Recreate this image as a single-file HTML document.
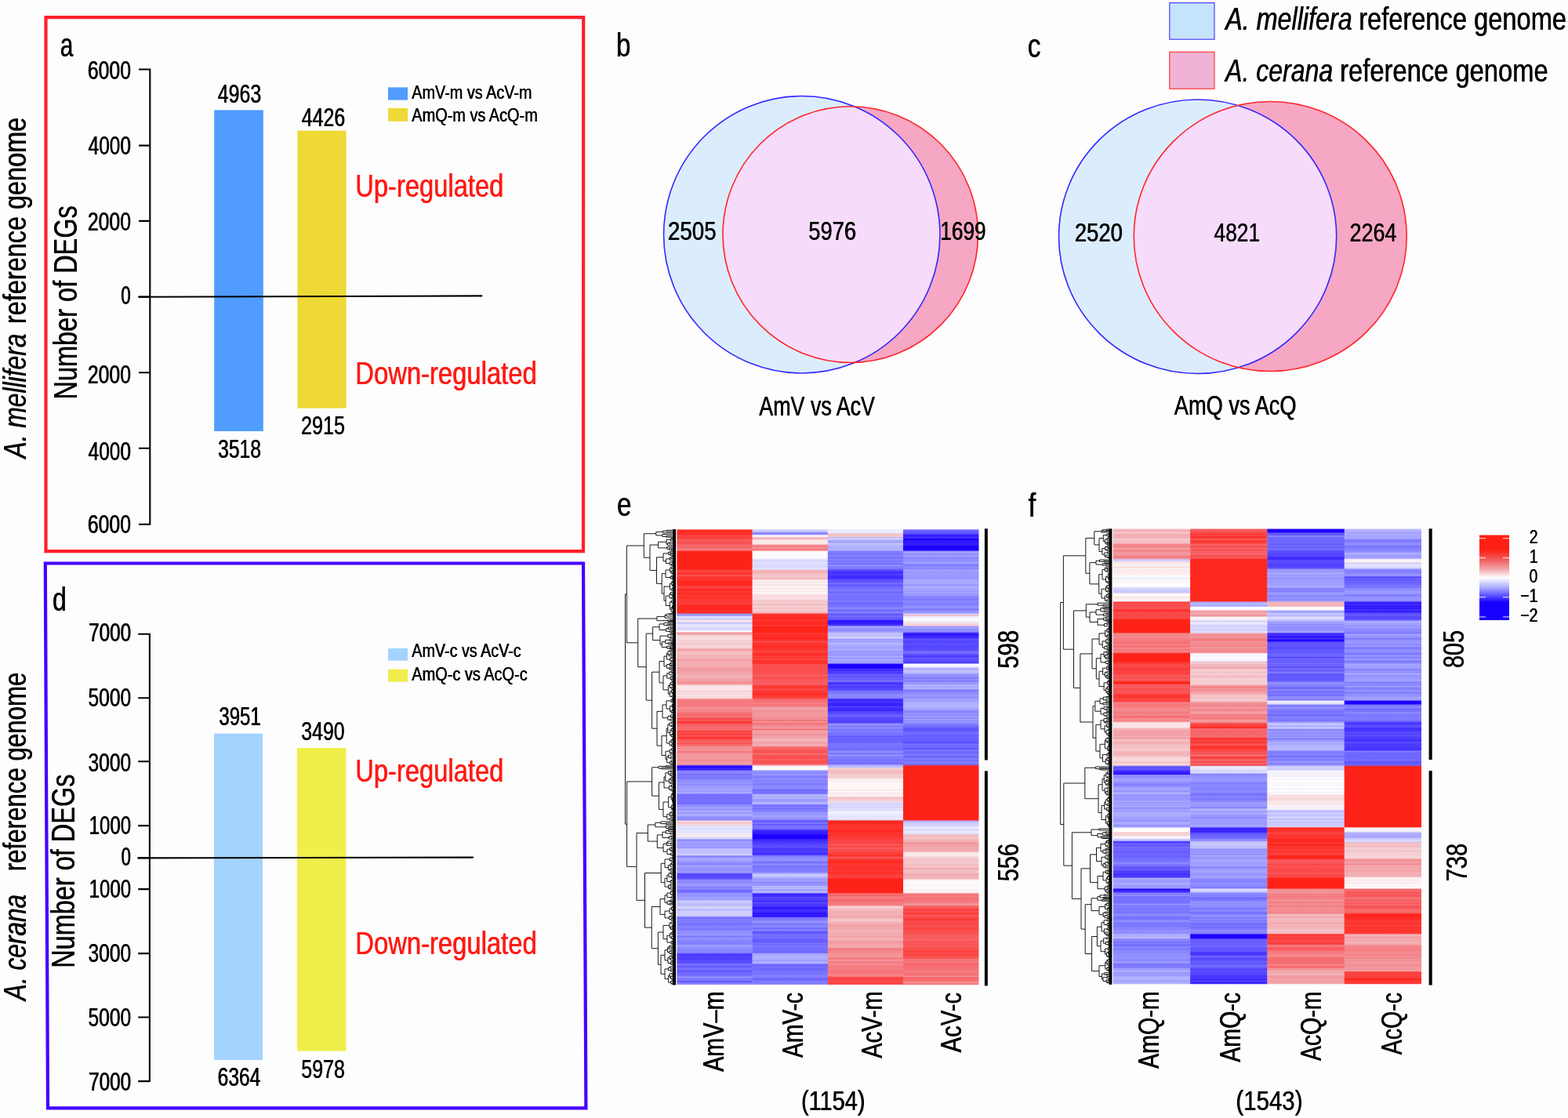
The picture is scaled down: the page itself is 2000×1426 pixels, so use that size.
<!DOCTYPE html>
<html lang="en"><head><meta charset="utf-8"><title>Figure</title>
<style>
html,body{margin:0;padding:0;background:#fdfdfd}
body{width:2000px;height:1426px;overflow:hidden}
svg{display:block}
text{font-family:"Liberation Sans", sans-serif}
</style></head><body>

<svg width="2000" height="1426" viewBox="0 0 2000 1426" role="img" aria-label="Figure panels a-f">
<rect width="2000" height="1426" fill="#fdfdfd"/>
<polygon points="58.5,22.2 744.2,22.2 744,703.2 58.5,703.2" fill="none" stroke="#ff1f2b" stroke-width="4.2" stroke-linejoin="miter"/>
<polygon points="57.8,718.5 744,718.5 747.4,1413.4 61,1413.4" fill="none" stroke="#4400ff" stroke-width="4.2" stroke-linejoin="miter"/>
<rect x="273.2" y="140.4" width="62.6" height="409.6" fill="#509dff"/>
<rect x="379.4" y="166.6" width="62.2" height="354" fill="#eed936"/>
<rect x="495" y="111.4" width="25" height="16.2" fill="#509dff"/>
<rect x="495" y="138" width="25" height="16.8" fill="#eed936"/>
<path d="M191.3 87.5V669.7M177 88.5H191.3M177 185.6H191.3M177 281.9H191.3M177 378.6H191.3M177 475.3H191.3M177 571.8H191.3M177 668.7H191.3" fill="none" stroke="#000" stroke-width="2.1"/>
<path d="M177 378.8L614.4 377.4" fill="none" stroke="#000" stroke-width="2.1" stroke-linecap="round"/>
<rect x="273" y="935.6" width="62" height="416.4" fill="#a4d3ff"/>
<rect x="379" y="954" width="62.4" height="386.6" fill="#efee4b"/>
<rect x="495" y="827" width="25" height="15.6" fill="#a4d3ff"/>
<rect x="495" y="853.6" width="25" height="16" fill="#efee4b"/>
<path d="M190.9 807.7V1380.1M176.2 808.7H190.9M176.2 890.3H190.9M176.2 971.3H190.9M176.2 1053.1H190.9M176.2 1094.3H190.9M176.2 1134.1H190.9M176.2 1216.1H190.9M176.2 1297.5H190.9M176.2 1379.1H190.9" fill="none" stroke="#000" stroke-width="2.1"/>
<path d="M176.2 1094.4L603 1093.6" fill="none" stroke="#000" stroke-width="2.1" stroke-linecap="round"/>
<clipPath id="vb"><ellipse cx="1022.75" cy="299.25" rx="176.2" ry="176.7"/></clipPath><ellipse cx="1022.75" cy="299.25" rx="176.2" ry="176.7" fill="#dbedfc"/><ellipse cx="1084.75" cy="299.1" rx="162.8" ry="163.4" fill="#f5a7c4"/><ellipse cx="1084.75" cy="299.1" rx="162.8" ry="163.4" fill="#f6dcfa" clip-path="url(#vb)"/><ellipse cx="1022.75" cy="299.25" rx="176.2" ry="176.7" fill="none" stroke="#3626ff" stroke-width="1.6"/><ellipse cx="1084.75" cy="299.1" rx="162.8" ry="163.4" fill="none" stroke="#ff262a" stroke-width="1.6"/>
<clipPath id="vc"><ellipse cx="1527.6" cy="301.75" rx="177.1" ry="174.75"/></clipPath><ellipse cx="1527.6" cy="301.75" rx="177.1" ry="174.75" fill="#dbedfc"/><ellipse cx="1620.25" cy="301.5" rx="174" ry="172" fill="#f5a7c4"/><ellipse cx="1620.25" cy="301.5" rx="174" ry="172" fill="#f6dcfa" clip-path="url(#vc)"/><ellipse cx="1527.6" cy="301.75" rx="177.1" ry="174.75" fill="none" stroke="#3626ff" stroke-width="1.6"/><ellipse cx="1620.25" cy="301.5" rx="174" ry="172" fill="none" stroke="#ff262a" stroke-width="1.6"/>
<rect x="1491.8" y="3.6" width="57.2" height="46.6" fill="#c5e3fa" stroke="#4a3cff" stroke-width="1.2"/>
<rect x="1491.8" y="66.3" width="57.2" height="47" fill="#f0b3d5" stroke="#ff3a3a" stroke-width="1.2"/>
<linearGradient id="h1" x1="0" y1="0" x2="0" y2="1"><stop offset="0.0014" stop-color="#fe2920"/><stop offset="0.0041" stop-color="#fd3029"/><stop offset="0.0069" stop-color="#fd322c"/><stop offset="0.0096" stop-color="#fe281f"/><stop offset="0.0124" stop-color="#fb413f"/><stop offset="0.0152" stop-color="#fb413f"/><stop offset="0.0179" stop-color="#fb423f"/><stop offset="0.0207" stop-color="#fb4341"/><stop offset="0.0234" stop-color="#f76468"/><stop offset="0.0262" stop-color="#f85759"/><stop offset="0.0289" stop-color="#f94f50"/><stop offset="0.0317" stop-color="#f95354"/><stop offset="0.0344" stop-color="#f66f74"/><stop offset="0.0372" stop-color="#f76265"/><stop offset="0.0399" stop-color="#f76569"/><stop offset="0.0427" stop-color="#f48085"/><stop offset="0.0455" stop-color="#f5797d"/><stop offset="0.0482" stop-color="#ff2218"/><stop offset="0.0510" stop-color="#ff2218"/><stop offset="0.0537" stop-color="#ff2218"/><stop offset="0.0565" stop-color="#ff2218"/><stop offset="0.0592" stop-color="#ff2218"/><stop offset="0.0620" stop-color="#ff2218"/><stop offset="0.0647" stop-color="#ff2218"/><stop offset="0.0675" stop-color="#ff2218"/><stop offset="0.0702" stop-color="#ff2218"/><stop offset="0.0730" stop-color="#ff2218"/><stop offset="0.0758" stop-color="#ff2218"/><stop offset="0.0785" stop-color="#ff2218"/><stop offset="0.0813" stop-color="#ff2218"/><stop offset="0.0840" stop-color="#ff2218"/><stop offset="0.0868" stop-color="#ff2218"/><stop offset="0.0895" stop-color="#fc3e3a"/><stop offset="0.0923" stop-color="#fa4948"/><stop offset="0.0950" stop-color="#fc3631"/><stop offset="0.0978" stop-color="#fe2c24"/><stop offset="0.1006" stop-color="#f85759"/><stop offset="0.1033" stop-color="#fb403d"/><stop offset="0.1061" stop-color="#fd312a"/><stop offset="0.1088" stop-color="#fd342f"/><stop offset="0.1116" stop-color="#fd3029"/><stop offset="0.1143" stop-color="#fe281f"/><stop offset="0.1171" stop-color="#fe281f"/><stop offset="0.1198" stop-color="#fe271e"/><stop offset="0.1226" stop-color="#fe2c24"/><stop offset="0.1253" stop-color="#fb413f"/><stop offset="0.1281" stop-color="#fa4a4a"/><stop offset="0.1309" stop-color="#fe2b23"/><stop offset="0.1336" stop-color="#fe2921"/><stop offset="0.1364" stop-color="#fc3a35"/><stop offset="0.1391" stop-color="#fd2f28"/><stop offset="0.1419" stop-color="#fe2920"/><stop offset="0.1446" stop-color="#fc3d39"/><stop offset="0.1474" stop-color="#fd332d"/><stop offset="0.1501" stop-color="#fe2d25"/><stop offset="0.1529" stop-color="#fd3631"/><stop offset="0.1556" stop-color="#fc3934"/><stop offset="0.1584" stop-color="#fc3b37"/><stop offset="0.1612" stop-color="#fc3d39"/><stop offset="0.1639" stop-color="#fc3b37"/><stop offset="0.1667" stop-color="#fe2b23"/><stop offset="0.1694" stop-color="#ff241b"/><stop offset="0.1722" stop-color="#fe2c25"/><stop offset="0.1749" stop-color="#fe2820"/><stop offset="0.1777" stop-color="#fe2e26"/><stop offset="0.1804" stop-color="#fd2f28"/><stop offset="0.1832" stop-color="#fe271e"/><stop offset="0.1860" stop-color="#9e9cff"/><stop offset="0.1887" stop-color="#918fff"/><stop offset="0.1915" stop-color="#e5e4ff"/><stop offset="0.1942" stop-color="#dcdbfe"/><stop offset="0.1970" stop-color="#c2c0fe"/><stop offset="0.1997" stop-color="#fae8e9"/><stop offset="0.2025" stop-color="#fae7e9"/><stop offset="0.2052" stop-color="#c5c4fe"/><stop offset="0.2080" stop-color="#d7d6fe"/><stop offset="0.2107" stop-color="#e9e9ff"/><stop offset="0.2135" stop-color="#e0dffe"/><stop offset="0.2163" stop-color="#deddfe"/><stop offset="0.2190" stop-color="#cdccfe"/><stop offset="0.2218" stop-color="#f1f0ff"/><stop offset="0.2245" stop-color="#fdf6f7"/><stop offset="0.2273" stop-color="#f28d93"/><stop offset="0.2300" stop-color="#f2a8ae"/><stop offset="0.2328" stop-color="#f4c8cc"/><stop offset="0.2355" stop-color="#fae5e7"/><stop offset="0.2383" stop-color="#f6d4d7"/><stop offset="0.2410" stop-color="#fae5e7"/><stop offset="0.2438" stop-color="#f4c9cd"/><stop offset="0.2466" stop-color="#f6d5d8"/><stop offset="0.2493" stop-color="#f6d3d7"/><stop offset="0.2521" stop-color="#f4c6ca"/><stop offset="0.2548" stop-color="#f7d6d9"/><stop offset="0.2576" stop-color="#f7d6d9"/><stop offset="0.2603" stop-color="#f5cdd1"/><stop offset="0.2631" stop-color="#f1a0a6"/><stop offset="0.2658" stop-color="#f2a2a8"/><stop offset="0.2686" stop-color="#f3c0c4"/><stop offset="0.2713" stop-color="#f3b9bd"/><stop offset="0.2741" stop-color="#f4c2c7"/><stop offset="0.2769" stop-color="#f2a8ad"/><stop offset="0.2796" stop-color="#f3b4b9"/><stop offset="0.2824" stop-color="#f3b8bd"/><stop offset="0.2851" stop-color="#f19ca1"/><stop offset="0.2879" stop-color="#f2a1a6"/><stop offset="0.2906" stop-color="#f2afb4"/><stop offset="0.2934" stop-color="#f2a8ad"/><stop offset="0.2961" stop-color="#f3b2b7"/><stop offset="0.2989" stop-color="#f2a6ab"/><stop offset="0.3017" stop-color="#f2afb4"/><stop offset="0.3044" stop-color="#f29297"/><stop offset="0.3072" stop-color="#f1a0a6"/><stop offset="0.3099" stop-color="#f1999f"/><stop offset="0.3127" stop-color="#f2a3a8"/><stop offset="0.3154" stop-color="#f2a3a8"/><stop offset="0.3182" stop-color="#f2aeb3"/><stop offset="0.3209" stop-color="#f2a9ae"/><stop offset="0.3237" stop-color="#f3b5b9"/><stop offset="0.3264" stop-color="#f2a5ab"/><stop offset="0.3292" stop-color="#f19fa5"/><stop offset="0.3320" stop-color="#f2a2a8"/><stop offset="0.3347" stop-color="#f1969c"/><stop offset="0.3375" stop-color="#f28b90"/><stop offset="0.3402" stop-color="#f2a8ad"/><stop offset="0.3430" stop-color="#f8dcdf"/><stop offset="0.3457" stop-color="#fbeaec"/><stop offset="0.3485" stop-color="#fae8ea"/><stop offset="0.3512" stop-color="#fae5e7"/><stop offset="0.3540" stop-color="#f8dde0"/><stop offset="0.3567" stop-color="#f5d1d4"/><stop offset="0.3595" stop-color="#fae9eb"/><stop offset="0.3623" stop-color="#f6d2d6"/><stop offset="0.3650" stop-color="#fbeaeb"/><stop offset="0.3678" stop-color="#f6d6d9"/><stop offset="0.3705" stop-color="#f6d5d8"/><stop offset="0.3733" stop-color="#f47e83"/><stop offset="0.3760" stop-color="#f47e83"/><stop offset="0.3788" stop-color="#f5777c"/><stop offset="0.3815" stop-color="#f47d82"/><stop offset="0.3843" stop-color="#f47b7f"/><stop offset="0.3871" stop-color="#f5787c"/><stop offset="0.3898" stop-color="#f48085"/><stop offset="0.3926" stop-color="#f19aa0"/><stop offset="0.3953" stop-color="#f47e83"/><stop offset="0.3981" stop-color="#f28d93"/><stop offset="0.4008" stop-color="#f38387"/><stop offset="0.4036" stop-color="#f66d71"/><stop offset="0.4063" stop-color="#f66e72"/><stop offset="0.4091" stop-color="#f76366"/><stop offset="0.4118" stop-color="#f38388"/><stop offset="0.4146" stop-color="#fc3d3a"/><stop offset="0.4174" stop-color="#f95455"/><stop offset="0.4201" stop-color="#f85b5e"/><stop offset="0.4229" stop-color="#fe2d25"/><stop offset="0.4256" stop-color="#fb4644"/><stop offset="0.4284" stop-color="#f6686c"/><stop offset="0.4311" stop-color="#f85b5f"/><stop offset="0.4339" stop-color="#f66e72"/><stop offset="0.4366" stop-color="#f76366"/><stop offset="0.4394" stop-color="#f57175"/><stop offset="0.4421" stop-color="#fa4d4d"/><stop offset="0.4449" stop-color="#fb4442"/><stop offset="0.4477" stop-color="#f95354"/><stop offset="0.4504" stop-color="#fd322c"/><stop offset="0.4532" stop-color="#f85b5e"/><stop offset="0.4559" stop-color="#fc3834"/><stop offset="0.4587" stop-color="#fd342f"/><stop offset="0.4614" stop-color="#f95556"/><stop offset="0.4642" stop-color="#f8595c"/><stop offset="0.4669" stop-color="#f66e72"/><stop offset="0.4697" stop-color="#fa4b4a"/><stop offset="0.4725" stop-color="#f67074"/><stop offset="0.4752" stop-color="#f76468"/><stop offset="0.4780" stop-color="#f2a1a6"/><stop offset="0.4807" stop-color="#f48085"/><stop offset="0.4835" stop-color="#f2a2a8"/><stop offset="0.4862" stop-color="#f48186"/><stop offset="0.4890" stop-color="#f47d81"/><stop offset="0.4917" stop-color="#f38a90"/><stop offset="0.4945" stop-color="#f2a0a6"/><stop offset="0.4972" stop-color="#f29298"/><stop offset="0.5000" stop-color="#f19ca2"/><stop offset="0.5028" stop-color="#f1949a"/><stop offset="0.5055" stop-color="#f29398"/><stop offset="0.5083" stop-color="#f28d92"/><stop offset="0.5110" stop-color="#f19fa5"/><stop offset="0.5138" stop-color="#f1999f"/><stop offset="0.5165" stop-color="#f1979d"/><stop offset="0.5193" stop-color="#3219ff"/><stop offset="0.5220" stop-color="#2204ff"/><stop offset="0.5248" stop-color="#3e29ff"/><stop offset="0.5275" stop-color="#3219ff"/><stop offset="0.5303" stop-color="#8480ff"/><stop offset="0.5331" stop-color="#8784ff"/><stop offset="0.5358" stop-color="#8c8aff"/><stop offset="0.5386" stop-color="#665bff"/><stop offset="0.5413" stop-color="#918fff"/><stop offset="0.5441" stop-color="#726aff"/><stop offset="0.5468" stop-color="#8581ff"/><stop offset="0.5496" stop-color="#8682ff"/><stop offset="0.5523" stop-color="#9391ff"/><stop offset="0.5551" stop-color="#9290ff"/><stop offset="0.5579" stop-color="#9d9cff"/><stop offset="0.5606" stop-color="#8986ff"/><stop offset="0.5634" stop-color="#9b99ff"/><stop offset="0.5661" stop-color="#9c9bff"/><stop offset="0.5689" stop-color="#9c9aff"/><stop offset="0.5716" stop-color="#adacfe"/><stop offset="0.5744" stop-color="#918fff"/><stop offset="0.5771" stop-color="#b1b0fe"/><stop offset="0.5799" stop-color="#9a98ff"/><stop offset="0.5826" stop-color="#756dff"/><stop offset="0.5854" stop-color="#7168ff"/><stop offset="0.5882" stop-color="#7c76ff"/><stop offset="0.5909" stop-color="#736bff"/><stop offset="0.5937" stop-color="#7a74ff"/><stop offset="0.5964" stop-color="#756dff"/><stop offset="0.5992" stop-color="#7973ff"/><stop offset="0.6019" stop-color="#665cff"/><stop offset="0.6047" stop-color="#908fff"/><stop offset="0.6074" stop-color="#8986ff"/><stop offset="0.6102" stop-color="#a4a3ff"/><stop offset="0.6129" stop-color="#a09fff"/><stop offset="0.6157" stop-color="#8f8eff"/><stop offset="0.6185" stop-color="#aeadfe"/><stop offset="0.6212" stop-color="#a1a0ff"/><stop offset="0.6240" stop-color="#9492ff"/><stop offset="0.6267" stop-color="#b6b5fe"/><stop offset="0.6295" stop-color="#a19fff"/><stop offset="0.6322" stop-color="#8f8dff"/><stop offset="0.6350" stop-color="#8f8eff"/><stop offset="0.6377" stop-color="#8a88ff"/><stop offset="0.6405" stop-color="#f7d7da"/><stop offset="0.6433" stop-color="#f5cfd3"/><stop offset="0.6460" stop-color="#f4c5c9"/><stop offset="0.6488" stop-color="#f8dcde"/><stop offset="0.6515" stop-color="#dcdcfe"/><stop offset="0.6543" stop-color="#e9e9ff"/><stop offset="0.6570" stop-color="#dadafe"/><stop offset="0.6598" stop-color="#e7e7ff"/><stop offset="0.6625" stop-color="#e4e4ff"/><stop offset="0.6653" stop-color="#e0e0fe"/><stop offset="0.6680" stop-color="#f0f0ff"/><stop offset="0.6708" stop-color="#f8dde0"/><stop offset="0.6736" stop-color="#fdf3f4"/><stop offset="0.6763" stop-color="#dbdafe"/><stop offset="0.6791" stop-color="#d8d7fe"/><stop offset="0.6818" stop-color="#8a88ff"/><stop offset="0.6846" stop-color="#9795ff"/><stop offset="0.6873" stop-color="#a5a4ff"/><stop offset="0.6901" stop-color="#9593ff"/><stop offset="0.6928" stop-color="#9e9cff"/><stop offset="0.6956" stop-color="#a6a5ff"/><stop offset="0.6983" stop-color="#908eff"/><stop offset="0.7011" stop-color="#bab9fe"/><stop offset="0.7039" stop-color="#bebdfe"/><stop offset="0.7066" stop-color="#c0bffe"/><stop offset="0.7094" stop-color="#bebcfe"/><stop offset="0.7121" stop-color="#c9c8fe"/><stop offset="0.7149" stop-color="#d1d1fe"/><stop offset="0.7176" stop-color="#7e78ff"/><stop offset="0.7204" stop-color="#9593ff"/><stop offset="0.7231" stop-color="#afadfe"/><stop offset="0.7259" stop-color="#a2a1ff"/><stop offset="0.7287" stop-color="#a09eff"/><stop offset="0.7314" stop-color="#9391ff"/><stop offset="0.7342" stop-color="#8986ff"/><stop offset="0.7369" stop-color="#8c8aff"/><stop offset="0.7397" stop-color="#b0aefe"/><stop offset="0.7424" stop-color="#9492ff"/><stop offset="0.7452" stop-color="#9795ff"/><stop offset="0.7479" stop-color="#9492ff"/><stop offset="0.7507" stop-color="#9b99ff"/><stop offset="0.7534" stop-color="#a2a1ff"/><stop offset="0.7562" stop-color="#594cff"/><stop offset="0.7590" stop-color="#5444ff"/><stop offset="0.7617" stop-color="#5546ff"/><stop offset="0.7645" stop-color="#5849ff"/><stop offset="0.7672" stop-color="#5f53ff"/><stop offset="0.7700" stop-color="#8c89ff"/><stop offset="0.7727" stop-color="#908eff"/><stop offset="0.7755" stop-color="#8986ff"/><stop offset="0.7782" stop-color="#9896ff"/><stop offset="0.7810" stop-color="#a19fff"/><stop offset="0.7837" stop-color="#8e8cff"/><stop offset="0.7865" stop-color="#827dff"/><stop offset="0.7893" stop-color="#8f8dff"/><stop offset="0.7920" stop-color="#756eff"/><stop offset="0.7948" stop-color="#6b61ff"/><stop offset="0.7975" stop-color="#7d77ff"/><stop offset="0.8003" stop-color="#9f9dff"/><stop offset="0.8030" stop-color="#9593ff"/><stop offset="0.8058" stop-color="#918fff"/><stop offset="0.8085" stop-color="#a5a4ff"/><stop offset="0.8113" stop-color="#a19fff"/><stop offset="0.8140" stop-color="#a2a0ff"/><stop offset="0.8168" stop-color="#d4d4fe"/><stop offset="0.8196" stop-color="#c5c4fe"/><stop offset="0.8223" stop-color="#bdbbfe"/><stop offset="0.8251" stop-color="#bdbcfe"/><stop offset="0.8278" stop-color="#cac9fe"/><stop offset="0.8306" stop-color="#deddfe"/><stop offset="0.8333" stop-color="#c4c3fe"/><stop offset="0.8361" stop-color="#bab9fe"/><stop offset="0.8388" stop-color="#cecdfe"/><stop offset="0.8416" stop-color="#d0cffe"/><stop offset="0.8444" stop-color="#cecdfe"/><stop offset="0.8471" stop-color="#d2d1fe"/><stop offset="0.8499" stop-color="#b6b5fe"/><stop offset="0.8526" stop-color="#726aff"/><stop offset="0.8554" stop-color="#817cff"/><stop offset="0.8581" stop-color="#807bff"/><stop offset="0.8609" stop-color="#817cff"/><stop offset="0.8636" stop-color="#7f7aff"/><stop offset="0.8664" stop-color="#7b75ff"/><stop offset="0.8691" stop-color="#7872ff"/><stop offset="0.8719" stop-color="#8683ff"/><stop offset="0.8747" stop-color="#827eff"/><stop offset="0.8774" stop-color="#7e79ff"/><stop offset="0.8802" stop-color="#827eff"/><stop offset="0.8829" stop-color="#9896ff"/><stop offset="0.8857" stop-color="#8e8cff"/><stop offset="0.8884" stop-color="#9492ff"/><stop offset="0.8912" stop-color="#9c9aff"/><stop offset="0.8939" stop-color="#7c76ff"/><stop offset="0.8967" stop-color="#908eff"/><stop offset="0.8994" stop-color="#9694ff"/><stop offset="0.9022" stop-color="#8885ff"/><stop offset="0.9050" stop-color="#8a88ff"/><stop offset="0.9077" stop-color="#7d77ff"/><stop offset="0.9105" stop-color="#8a88ff"/><stop offset="0.9132" stop-color="#9392ff"/><stop offset="0.9160" stop-color="#a9a8ff"/><stop offset="0.9187" stop-color="#8581ff"/><stop offset="0.9215" stop-color="#9493ff"/><stop offset="0.9242" stop-color="#7d78ff"/><stop offset="0.9270" stop-color="#8e8cff"/><stop offset="0.9298" stop-color="#8480ff"/><stop offset="0.9325" stop-color="#4f3eff"/><stop offset="0.9353" stop-color="#4a37ff"/><stop offset="0.9380" stop-color="#5648ff"/><stop offset="0.9408" stop-color="#4d3cff"/><stop offset="0.9435" stop-color="#4c3aff"/><stop offset="0.9463" stop-color="#5c4fff"/><stop offset="0.9490" stop-color="#5546ff"/><stop offset="0.9518" stop-color="#5a4cff"/><stop offset="0.9545" stop-color="#7770ff"/><stop offset="0.9573" stop-color="#7872ff"/><stop offset="0.9601" stop-color="#5c4fff"/><stop offset="0.9628" stop-color="#756eff"/><stop offset="0.9656" stop-color="#7b74ff"/><stop offset="0.9683" stop-color="#6b61ff"/><stop offset="0.9711" stop-color="#6458ff"/><stop offset="0.9738" stop-color="#726aff"/><stop offset="0.9766" stop-color="#756eff"/><stop offset="0.9793" stop-color="#7169ff"/><stop offset="0.9821" stop-color="#8b88ff"/><stop offset="0.9848" stop-color="#8f8dff"/><stop offset="0.9876" stop-color="#746cff"/><stop offset="0.9904" stop-color="#807bff"/><stop offset="0.9931" stop-color="#5b4dff"/><stop offset="0.9959" stop-color="#7d77ff"/><stop offset="0.9986" stop-color="#9492ff"/></linearGradient><rect x="863.4" y="675.4" width="96.5" height="580.6" fill="url(#h1)"/>
<linearGradient id="h2" x1="0" y1="0" x2="0" y2="1"><stop offset="0.0014" stop-color="#cbcafe"/><stop offset="0.0041" stop-color="#cfcffe"/><stop offset="0.0069" stop-color="#9391ff"/><stop offset="0.0096" stop-color="#7871ff"/><stop offset="0.0124" stop-color="#e4e4ff"/><stop offset="0.0152" stop-color="#fefcfc"/><stop offset="0.0179" stop-color="#f2afb4"/><stop offset="0.0207" stop-color="#f3b8bd"/><stop offset="0.0234" stop-color="#fae6e8"/><stop offset="0.0262" stop-color="#fbedee"/><stop offset="0.0289" stop-color="#f9e4e6"/><stop offset="0.0317" stop-color="#fbeeef"/><stop offset="0.0344" stop-color="#f3878d"/><stop offset="0.0372" stop-color="#f47a7e"/><stop offset="0.0399" stop-color="#f1959b"/><stop offset="0.0427" stop-color="#f48085"/><stop offset="0.0455" stop-color="#f5797d"/><stop offset="0.0482" stop-color="#fdf6f7"/><stop offset="0.0510" stop-color="#fefeff"/><stop offset="0.0537" stop-color="#fefafb"/><stop offset="0.0565" stop-color="#f7f7ff"/><stop offset="0.0592" stop-color="#fefeff"/><stop offset="0.0620" stop-color="#fcfcff"/><stop offset="0.0647" stop-color="#e8e8ff"/><stop offset="0.0675" stop-color="#d9d9fe"/><stop offset="0.0702" stop-color="#d3d3fe"/><stop offset="0.0730" stop-color="#e8e7ff"/><stop offset="0.0758" stop-color="#dcdcfe"/><stop offset="0.0785" stop-color="#dbdafe"/><stop offset="0.0813" stop-color="#d6d5fe"/><stop offset="0.0840" stop-color="#dcdbfe"/><stop offset="0.0868" stop-color="#e8e7ff"/><stop offset="0.0895" stop-color="#f3b7bb"/><stop offset="0.0923" stop-color="#f2b0b5"/><stop offset="0.0950" stop-color="#f3b6ba"/><stop offset="0.0978" stop-color="#f3bcc1"/><stop offset="0.1006" stop-color="#f4c8cc"/><stop offset="0.1033" stop-color="#f4c6cb"/><stop offset="0.1061" stop-color="#f3c0c5"/><stop offset="0.1088" stop-color="#f3b4b9"/><stop offset="0.1116" stop-color="#fef9f9"/><stop offset="0.1143" stop-color="#f9e2e4"/><stop offset="0.1171" stop-color="#fceff0"/><stop offset="0.1198" stop-color="#fbecee"/><stop offset="0.1226" stop-color="#f7dbde"/><stop offset="0.1253" stop-color="#fcfcff"/><stop offset="0.1281" stop-color="#fbeaec"/><stop offset="0.1309" stop-color="#fae5e7"/><stop offset="0.1336" stop-color="#fefbfb"/><stop offset="0.1364" stop-color="#fae5e7"/><stop offset="0.1391" stop-color="#fefdff"/><stop offset="0.1419" stop-color="#fae9eb"/><stop offset="0.1446" stop-color="#f7dadd"/><stop offset="0.1474" stop-color="#f8dbde"/><stop offset="0.1501" stop-color="#f8dbde"/><stop offset="0.1529" stop-color="#f8dee1"/><stop offset="0.1556" stop-color="#f5cfd2"/><stop offset="0.1584" stop-color="#f3c0c5"/><stop offset="0.1612" stop-color="#f7dadc"/><stop offset="0.1639" stop-color="#f3b5ba"/><stop offset="0.1667" stop-color="#f4c9cd"/><stop offset="0.1694" stop-color="#f6d3d6"/><stop offset="0.1722" stop-color="#f4c2c6"/><stop offset="0.1749" stop-color="#f4c5c9"/><stop offset="0.1777" stop-color="#f6d5d8"/><stop offset="0.1804" stop-color="#f3bcc0"/><stop offset="0.1832" stop-color="#f3b8bd"/><stop offset="0.1860" stop-color="#fd312a"/><stop offset="0.1887" stop-color="#fd312a"/><stop offset="0.1915" stop-color="#fd342e"/><stop offset="0.1942" stop-color="#ff2218"/><stop offset="0.1970" stop-color="#fd2f28"/><stop offset="0.1997" stop-color="#fc3c38"/><stop offset="0.2025" stop-color="#fe2820"/><stop offset="0.2052" stop-color="#fe2c24"/><stop offset="0.2080" stop-color="#ff231a"/><stop offset="0.2107" stop-color="#fc3b37"/><stop offset="0.2135" stop-color="#ff2218"/><stop offset="0.2163" stop-color="#ff2218"/><stop offset="0.2190" stop-color="#ff2218"/><stop offset="0.2218" stop-color="#ff2218"/><stop offset="0.2245" stop-color="#ff2218"/><stop offset="0.2273" stop-color="#fe2e27"/><stop offset="0.2300" stop-color="#fc3b37"/><stop offset="0.2328" stop-color="#ff251c"/><stop offset="0.2355" stop-color="#fd322c"/><stop offset="0.2383" stop-color="#ff2218"/><stop offset="0.2410" stop-color="#fe2e26"/><stop offset="0.2438" stop-color="#fd332d"/><stop offset="0.2466" stop-color="#f94f4f"/><stop offset="0.2493" stop-color="#fd2f28"/><stop offset="0.2521" stop-color="#fc3c39"/><stop offset="0.2548" stop-color="#fe2b24"/><stop offset="0.2576" stop-color="#fe2b23"/><stop offset="0.2603" stop-color="#fd2f28"/><stop offset="0.2631" stop-color="#fc3b37"/><stop offset="0.2658" stop-color="#fd352f"/><stop offset="0.2686" stop-color="#f94f4f"/><stop offset="0.2713" stop-color="#fe2d26"/><stop offset="0.2741" stop-color="#fd2f28"/><stop offset="0.2769" stop-color="#fd2f28"/><stop offset="0.2796" stop-color="#fb4240"/><stop offset="0.2824" stop-color="#fd312b"/><stop offset="0.2851" stop-color="#f95151"/><stop offset="0.2879" stop-color="#fd2f28"/><stop offset="0.2906" stop-color="#fd352f"/><stop offset="0.2934" stop-color="#fe2d26"/><stop offset="0.2961" stop-color="#f94e4e"/><stop offset="0.2989" stop-color="#f94f50"/><stop offset="0.3017" stop-color="#fa4e4e"/><stop offset="0.3044" stop-color="#f95152"/><stop offset="0.3072" stop-color="#fb4544"/><stop offset="0.3099" stop-color="#f85759"/><stop offset="0.3127" stop-color="#fb4543"/><stop offset="0.3154" stop-color="#f95658"/><stop offset="0.3182" stop-color="#fa4c4c"/><stop offset="0.3209" stop-color="#f66d71"/><stop offset="0.3237" stop-color="#fa4b4a"/><stop offset="0.3264" stop-color="#f95253"/><stop offset="0.3292" stop-color="#f95355"/><stop offset="0.3320" stop-color="#f85c5f"/><stop offset="0.3347" stop-color="#f85d60"/><stop offset="0.3375" stop-color="#f85d60"/><stop offset="0.3402" stop-color="#f76164"/><stop offset="0.3430" stop-color="#fb3e3b"/><stop offset="0.3457" stop-color="#fc3833"/><stop offset="0.3485" stop-color="#fc3b37"/><stop offset="0.3512" stop-color="#fa4d4e"/><stop offset="0.3540" stop-color="#fc3a35"/><stop offset="0.3567" stop-color="#fc3b37"/><stop offset="0.3595" stop-color="#fd2f28"/><stop offset="0.3623" stop-color="#fe2d26"/><stop offset="0.3650" stop-color="#fd3530"/><stop offset="0.3678" stop-color="#fc3a35"/><stop offset="0.3705" stop-color="#fa4a49"/><stop offset="0.3733" stop-color="#f66b6f"/><stop offset="0.3760" stop-color="#f66f73"/><stop offset="0.3788" stop-color="#f66d71"/><stop offset="0.3815" stop-color="#f48186"/><stop offset="0.3843" stop-color="#f47a7f"/><stop offset="0.3871" stop-color="#f66d71"/><stop offset="0.3898" stop-color="#f1999f"/><stop offset="0.3926" stop-color="#f19ba1"/><stop offset="0.3953" stop-color="#f2acb1"/><stop offset="0.3981" stop-color="#f28d92"/><stop offset="0.4008" stop-color="#f1999f"/><stop offset="0.4036" stop-color="#f1969c"/><stop offset="0.4063" stop-color="#f1979d"/><stop offset="0.4091" stop-color="#f19ba1"/><stop offset="0.4118" stop-color="#f29096"/><stop offset="0.4146" stop-color="#f29197"/><stop offset="0.4174" stop-color="#f28b91"/><stop offset="0.4201" stop-color="#f66e72"/><stop offset="0.4229" stop-color="#f2a1a7"/><stop offset="0.4256" stop-color="#f57579"/><stop offset="0.4284" stop-color="#f47a7e"/><stop offset="0.4311" stop-color="#f29197"/><stop offset="0.4339" stop-color="#f29095"/><stop offset="0.4366" stop-color="#f19aa0"/><stop offset="0.4394" stop-color="#f66a6e"/><stop offset="0.4421" stop-color="#f2a5aa"/><stop offset="0.4449" stop-color="#f2a5aa"/><stop offset="0.4477" stop-color="#f19aa0"/><stop offset="0.4504" stop-color="#f29095"/><stop offset="0.4532" stop-color="#f19fa4"/><stop offset="0.4559" stop-color="#f2a4a9"/><stop offset="0.4587" stop-color="#f2a6ac"/><stop offset="0.4614" stop-color="#f3bcc1"/><stop offset="0.4642" stop-color="#f3b1b6"/><stop offset="0.4669" stop-color="#f2a7ad"/><stop offset="0.4697" stop-color="#f2a3a9"/><stop offset="0.4725" stop-color="#f2adb3"/><stop offset="0.4752" stop-color="#f2aeb4"/><stop offset="0.4780" stop-color="#f76164"/><stop offset="0.4807" stop-color="#f6686b"/><stop offset="0.4835" stop-color="#f75f63"/><stop offset="0.4862" stop-color="#f95557"/><stop offset="0.4890" stop-color="#fa4c4c"/><stop offset="0.4917" stop-color="#f76266"/><stop offset="0.4945" stop-color="#f66b6f"/><stop offset="0.4972" stop-color="#fb4644"/><stop offset="0.5000" stop-color="#f95455"/><stop offset="0.5028" stop-color="#fa4d4d"/><stop offset="0.5055" stop-color="#f76165"/><stop offset="0.5083" stop-color="#f95253"/><stop offset="0.5110" stop-color="#f95152"/><stop offset="0.5138" stop-color="#f85c5f"/><stop offset="0.5165" stop-color="#f7666a"/><stop offset="0.5193" stop-color="#eeedff"/><stop offset="0.5220" stop-color="#fdf3f4"/><stop offset="0.5248" stop-color="#fbfbff"/><stop offset="0.5275" stop-color="#f7f7ff"/><stop offset="0.5303" stop-color="#9391ff"/><stop offset="0.5331" stop-color="#8f8dff"/><stop offset="0.5358" stop-color="#8b89ff"/><stop offset="0.5386" stop-color="#9c9aff"/><stop offset="0.5413" stop-color="#8480ff"/><stop offset="0.5441" stop-color="#7f7aff"/><stop offset="0.5468" stop-color="#8c89ff"/><stop offset="0.5496" stop-color="#9290ff"/><stop offset="0.5523" stop-color="#7a73ff"/><stop offset="0.5551" stop-color="#918fff"/><stop offset="0.5579" stop-color="#817cff"/><stop offset="0.5606" stop-color="#7f79ff"/><stop offset="0.5634" stop-color="#8e8cff"/><stop offset="0.5661" stop-color="#8a88ff"/><stop offset="0.5689" stop-color="#9391ff"/><stop offset="0.5716" stop-color="#6d64ff"/><stop offset="0.5744" stop-color="#7871ff"/><stop offset="0.5771" stop-color="#7872ff"/><stop offset="0.5799" stop-color="#726aff"/><stop offset="0.5826" stop-color="#bcbafe"/><stop offset="0.5854" stop-color="#adabfe"/><stop offset="0.5882" stop-color="#aeacfe"/><stop offset="0.5909" stop-color="#b7b6fe"/><stop offset="0.5937" stop-color="#9290ff"/><stop offset="0.5964" stop-color="#a4a2ff"/><stop offset="0.5992" stop-color="#aaa8ff"/><stop offset="0.6019" stop-color="#cac9fe"/><stop offset="0.6047" stop-color="#837eff"/><stop offset="0.6074" stop-color="#7068ff"/><stop offset="0.6102" stop-color="#8884ff"/><stop offset="0.6129" stop-color="#7068ff"/><stop offset="0.6157" stop-color="#8784ff"/><stop offset="0.6185" stop-color="#7d77ff"/><stop offset="0.6212" stop-color="#9493ff"/><stop offset="0.6240" stop-color="#9b9aff"/><stop offset="0.6267" stop-color="#9290ff"/><stop offset="0.6295" stop-color="#a9a7ff"/><stop offset="0.6322" stop-color="#9b99ff"/><stop offset="0.6350" stop-color="#9694ff"/><stop offset="0.6377" stop-color="#8480ff"/><stop offset="0.6405" stop-color="#5c4fff"/><stop offset="0.6433" stop-color="#7770ff"/><stop offset="0.6460" stop-color="#7b75ff"/><stop offset="0.6488" stop-color="#5c4fff"/><stop offset="0.6515" stop-color="#7f7aff"/><stop offset="0.6543" stop-color="#7067ff"/><stop offset="0.6570" stop-color="#807bff"/><stop offset="0.6598" stop-color="#4b39ff"/><stop offset="0.6625" stop-color="#3a23ff"/><stop offset="0.6653" stop-color="#331aff"/><stop offset="0.6680" stop-color="#3821ff"/><stop offset="0.6708" stop-color="#1f00ff"/><stop offset="0.6736" stop-color="#1f00ff"/><stop offset="0.6763" stop-color="#1f00ff"/><stop offset="0.6791" stop-color="#1f00ff"/><stop offset="0.6818" stop-color="#4633ff"/><stop offset="0.6846" stop-color="#3922ff"/><stop offset="0.6873" stop-color="#5141ff"/><stop offset="0.6901" stop-color="#4a38ff"/><stop offset="0.6928" stop-color="#5c4fff"/><stop offset="0.6956" stop-color="#594bff"/><stop offset="0.6983" stop-color="#5c4fff"/><stop offset="0.7011" stop-color="#4937ff"/><stop offset="0.7039" stop-color="#4a37ff"/><stop offset="0.7066" stop-color="#4936ff"/><stop offset="0.7094" stop-color="#5243ff"/><stop offset="0.7121" stop-color="#331aff"/><stop offset="0.7149" stop-color="#5749ff"/><stop offset="0.7176" stop-color="#807cff"/><stop offset="0.7204" stop-color="#8d8bff"/><stop offset="0.7231" stop-color="#8e8cff"/><stop offset="0.7259" stop-color="#9896ff"/><stop offset="0.7287" stop-color="#8581ff"/><stop offset="0.7314" stop-color="#7169ff"/><stop offset="0.7342" stop-color="#8c8aff"/><stop offset="0.7369" stop-color="#918fff"/><stop offset="0.7397" stop-color="#736bff"/><stop offset="0.7424" stop-color="#7a74ff"/><stop offset="0.7452" stop-color="#8480ff"/><stop offset="0.7479" stop-color="#7d78ff"/><stop offset="0.7507" stop-color="#7f7aff"/><stop offset="0.7534" stop-color="#8a87ff"/><stop offset="0.7562" stop-color="#b7b6fe"/><stop offset="0.7590" stop-color="#c8c7fe"/><stop offset="0.7617" stop-color="#c6c5fe"/><stop offset="0.7645" stop-color="#aeadfe"/><stop offset="0.7672" stop-color="#a3a1ff"/><stop offset="0.7700" stop-color="#9896ff"/><stop offset="0.7727" stop-color="#a8a7ff"/><stop offset="0.7755" stop-color="#837eff"/><stop offset="0.7782" stop-color="#a09fff"/><stop offset="0.7810" stop-color="#8784ff"/><stop offset="0.7837" stop-color="#bab9fe"/><stop offset="0.7865" stop-color="#adacfe"/><stop offset="0.7893" stop-color="#bdbbfe"/><stop offset="0.7920" stop-color="#9a98ff"/><stop offset="0.7948" stop-color="#b7b5fe"/><stop offset="0.7975" stop-color="#bbbafe"/><stop offset="0.8003" stop-color="#3b24ff"/><stop offset="0.8030" stop-color="#412cff"/><stop offset="0.8058" stop-color="#3f29ff"/><stop offset="0.8085" stop-color="#5a4dff"/><stop offset="0.8113" stop-color="#5040ff"/><stop offset="0.8140" stop-color="#4c3bff"/><stop offset="0.8168" stop-color="#3e28ff"/><stop offset="0.8196" stop-color="#594bff"/><stop offset="0.8223" stop-color="#4e3dff"/><stop offset="0.8251" stop-color="#4835ff"/><stop offset="0.8278" stop-color="#4a38ff"/><stop offset="0.8306" stop-color="#2f15ff"/><stop offset="0.8333" stop-color="#3016ff"/><stop offset="0.8361" stop-color="#4937ff"/><stop offset="0.8388" stop-color="#422dff"/><stop offset="0.8416" stop-color="#351dff"/><stop offset="0.8444" stop-color="#2e13ff"/><stop offset="0.8471" stop-color="#3921ff"/><stop offset="0.8499" stop-color="#1f00ff"/><stop offset="0.8526" stop-color="#766fff"/><stop offset="0.8554" stop-color="#7e79ff"/><stop offset="0.8581" stop-color="#7f7aff"/><stop offset="0.8609" stop-color="#9694ff"/><stop offset="0.8636" stop-color="#9290ff"/><stop offset="0.8664" stop-color="#7c76ff"/><stop offset="0.8691" stop-color="#8480ff"/><stop offset="0.8719" stop-color="#8c8aff"/><stop offset="0.8747" stop-color="#7d78ff"/><stop offset="0.8774" stop-color="#6c63ff"/><stop offset="0.8802" stop-color="#9593ff"/><stop offset="0.8829" stop-color="#6054ff"/><stop offset="0.8857" stop-color="#6257ff"/><stop offset="0.8884" stop-color="#6b61ff"/><stop offset="0.8912" stop-color="#7c76ff"/><stop offset="0.8939" stop-color="#6c63ff"/><stop offset="0.8967" stop-color="#7d77ff"/><stop offset="0.8994" stop-color="#695fff"/><stop offset="0.9022" stop-color="#675cff"/><stop offset="0.9050" stop-color="#6054ff"/><stop offset="0.9077" stop-color="#7269ff"/><stop offset="0.9105" stop-color="#7770ff"/><stop offset="0.9132" stop-color="#6f66ff"/><stop offset="0.9160" stop-color="#837eff"/><stop offset="0.9187" stop-color="#7067ff"/><stop offset="0.9215" stop-color="#7770ff"/><stop offset="0.9242" stop-color="#7169ff"/><stop offset="0.9270" stop-color="#736bff"/><stop offset="0.9298" stop-color="#7068ff"/><stop offset="0.9325" stop-color="#b3b2fe"/><stop offset="0.9353" stop-color="#a09eff"/><stop offset="0.9380" stop-color="#bbbafe"/><stop offset="0.9408" stop-color="#a8a7ff"/><stop offset="0.9435" stop-color="#b7b5fe"/><stop offset="0.9463" stop-color="#9998ff"/><stop offset="0.9490" stop-color="#a5a4ff"/><stop offset="0.9518" stop-color="#c2c1fe"/><stop offset="0.9545" stop-color="#817dff"/><stop offset="0.9573" stop-color="#675cff"/><stop offset="0.9601" stop-color="#7770ff"/><stop offset="0.9628" stop-color="#726aff"/><stop offset="0.9656" stop-color="#6e65ff"/><stop offset="0.9683" stop-color="#7269ff"/><stop offset="0.9711" stop-color="#7c76ff"/><stop offset="0.9738" stop-color="#7770ff"/><stop offset="0.9766" stop-color="#7b75ff"/><stop offset="0.9793" stop-color="#817dff"/><stop offset="0.9821" stop-color="#837fff"/><stop offset="0.9848" stop-color="#7973ff"/><stop offset="0.9876" stop-color="#695fff"/><stop offset="0.9904" stop-color="#7168ff"/><stop offset="0.9931" stop-color="#8784ff"/><stop offset="0.9959" stop-color="#7973ff"/><stop offset="0.9986" stop-color="#9694ff"/></linearGradient><rect x="959.6" y="675.4" width="96.5" height="580.6" fill="url(#h2)"/>
<linearGradient id="h3" x1="0" y1="0" x2="0" y2="1"><stop offset="0.0014" stop-color="#e5e4ff"/><stop offset="0.0041" stop-color="#f2f2ff"/><stop offset="0.0069" stop-color="#e6e5ff"/><stop offset="0.0096" stop-color="#f4cbcf"/><stop offset="0.0124" stop-color="#f3bec2"/><stop offset="0.0152" stop-color="#f5ccd0"/><stop offset="0.0179" stop-color="#b8b6fe"/><stop offset="0.0207" stop-color="#dadafe"/><stop offset="0.0234" stop-color="#b1b0fe"/><stop offset="0.0262" stop-color="#a3a1ff"/><stop offset="0.0289" stop-color="#a5a4ff"/><stop offset="0.0317" stop-color="#cecdfe"/><stop offset="0.0344" stop-color="#b2b1fe"/><stop offset="0.0372" stop-color="#b8b6fe"/><stop offset="0.0399" stop-color="#aba9fe"/><stop offset="0.0427" stop-color="#b7b6fe"/><stop offset="0.0455" stop-color="#b1b0fe"/><stop offset="0.0482" stop-color="#8480ff"/><stop offset="0.0510" stop-color="#817cff"/><stop offset="0.0537" stop-color="#766eff"/><stop offset="0.0565" stop-color="#8683ff"/><stop offset="0.0592" stop-color="#8581ff"/><stop offset="0.0620" stop-color="#6f66ff"/><stop offset="0.0647" stop-color="#8784ff"/><stop offset="0.0675" stop-color="#827eff"/><stop offset="0.0702" stop-color="#766fff"/><stop offset="0.0730" stop-color="#8b89ff"/><stop offset="0.0758" stop-color="#6f66ff"/><stop offset="0.0785" stop-color="#9d9cff"/><stop offset="0.0813" stop-color="#7e79ff"/><stop offset="0.0840" stop-color="#817cff"/><stop offset="0.0868" stop-color="#756dff"/><stop offset="0.0895" stop-color="#584aff"/><stop offset="0.0923" stop-color="#4e3dff"/><stop offset="0.0950" stop-color="#3d26ff"/><stop offset="0.0978" stop-color="#5040ff"/><stop offset="0.1006" stop-color="#4936ff"/><stop offset="0.1033" stop-color="#3e28ff"/><stop offset="0.1061" stop-color="#402bff"/><stop offset="0.1088" stop-color="#4835ff"/><stop offset="0.1116" stop-color="#665bff"/><stop offset="0.1143" stop-color="#5749ff"/><stop offset="0.1171" stop-color="#7068ff"/><stop offset="0.1198" stop-color="#7770ff"/><stop offset="0.1226" stop-color="#5a4dff"/><stop offset="0.1253" stop-color="#756eff"/><stop offset="0.1281" stop-color="#6d64ff"/><stop offset="0.1309" stop-color="#7c76ff"/><stop offset="0.1336" stop-color="#7c76ff"/><stop offset="0.1364" stop-color="#7872ff"/><stop offset="0.1391" stop-color="#6a61ff"/><stop offset="0.1419" stop-color="#807bff"/><stop offset="0.1446" stop-color="#7972ff"/><stop offset="0.1474" stop-color="#736bff"/><stop offset="0.1501" stop-color="#7973ff"/><stop offset="0.1529" stop-color="#746cff"/><stop offset="0.1556" stop-color="#7a74ff"/><stop offset="0.1584" stop-color="#827eff"/><stop offset="0.1612" stop-color="#6a60ff"/><stop offset="0.1639" stop-color="#7770ff"/><stop offset="0.1667" stop-color="#726aff"/><stop offset="0.1694" stop-color="#7d77ff"/><stop offset="0.1722" stop-color="#8986ff"/><stop offset="0.1749" stop-color="#8885ff"/><stop offset="0.1777" stop-color="#665bff"/><stop offset="0.1804" stop-color="#8480ff"/><stop offset="0.1832" stop-color="#837eff"/><stop offset="0.1860" stop-color="#6357ff"/><stop offset="0.1887" stop-color="#6d64ff"/><stop offset="0.1915" stop-color="#766fff"/><stop offset="0.1942" stop-color="#5f52ff"/><stop offset="0.1970" stop-color="#7067ff"/><stop offset="0.1997" stop-color="#371fff"/><stop offset="0.2025" stop-color="#2c10ff"/><stop offset="0.2052" stop-color="#341bff"/><stop offset="0.2080" stop-color="#3922ff"/><stop offset="0.2107" stop-color="#5444ff"/><stop offset="0.2135" stop-color="#aaa8ff"/><stop offset="0.2163" stop-color="#9c9aff"/><stop offset="0.2190" stop-color="#8e8cff"/><stop offset="0.2218" stop-color="#8c8aff"/><stop offset="0.2245" stop-color="#9f9eff"/><stop offset="0.2273" stop-color="#bab8fe"/><stop offset="0.2300" stop-color="#c9c8fe"/><stop offset="0.2328" stop-color="#bbb9fe"/><stop offset="0.2355" stop-color="#c5c4fe"/><stop offset="0.2383" stop-color="#dddcfe"/><stop offset="0.2410" stop-color="#9b99ff"/><stop offset="0.2438" stop-color="#a5a4ff"/><stop offset="0.2466" stop-color="#a09eff"/><stop offset="0.2493" stop-color="#b3b2fe"/><stop offset="0.2521" stop-color="#bab9fe"/><stop offset="0.2548" stop-color="#a4a2ff"/><stop offset="0.2576" stop-color="#aba9fe"/><stop offset="0.2603" stop-color="#a19fff"/><stop offset="0.2631" stop-color="#b1b0fe"/><stop offset="0.2658" stop-color="#aaa8ff"/><stop offset="0.2686" stop-color="#9290ff"/><stop offset="0.2713" stop-color="#a4a3ff"/><stop offset="0.2741" stop-color="#9997ff"/><stop offset="0.2769" stop-color="#9998ff"/><stop offset="0.2796" stop-color="#b5b3fe"/><stop offset="0.2824" stop-color="#908eff"/><stop offset="0.2851" stop-color="#b0aefe"/><stop offset="0.2879" stop-color="#a7a5ff"/><stop offset="0.2906" stop-color="#9f9eff"/><stop offset="0.2934" stop-color="#a8a6ff"/><stop offset="0.2961" stop-color="#1f00ff"/><stop offset="0.2989" stop-color="#1f00ff"/><stop offset="0.3017" stop-color="#1f00ff"/><stop offset="0.3044" stop-color="#1f00ff"/><stop offset="0.3072" stop-color="#4f3eff"/><stop offset="0.3099" stop-color="#371fff"/><stop offset="0.3127" stop-color="#5b4dff"/><stop offset="0.3154" stop-color="#422eff"/><stop offset="0.3182" stop-color="#6c63ff"/><stop offset="0.3209" stop-color="#6459ff"/><stop offset="0.3237" stop-color="#5a4cff"/><stop offset="0.3264" stop-color="#7269ff"/><stop offset="0.3292" stop-color="#6155ff"/><stop offset="0.3320" stop-color="#7b75ff"/><stop offset="0.3347" stop-color="#6b61ff"/><stop offset="0.3375" stop-color="#412cff"/><stop offset="0.3402" stop-color="#4c3aff"/><stop offset="0.3430" stop-color="#5e51ff"/><stop offset="0.3457" stop-color="#412cff"/><stop offset="0.3485" stop-color="#5f52ff"/><stop offset="0.3512" stop-color="#4c3aff"/><stop offset="0.3540" stop-color="#726aff"/><stop offset="0.3567" stop-color="#7972ff"/><stop offset="0.3595" stop-color="#7e79ff"/><stop offset="0.3623" stop-color="#8581ff"/><stop offset="0.3650" stop-color="#918fff"/><stop offset="0.3678" stop-color="#8985ff"/><stop offset="0.3705" stop-color="#827eff"/><stop offset="0.3733" stop-color="#3a24ff"/><stop offset="0.3760" stop-color="#3c26ff"/><stop offset="0.3788" stop-color="#4b39ff"/><stop offset="0.3815" stop-color="#3a23ff"/><stop offset="0.3843" stop-color="#371fff"/><stop offset="0.3871" stop-color="#3c25ff"/><stop offset="0.3898" stop-color="#4f3fff"/><stop offset="0.3926" stop-color="#3f2aff"/><stop offset="0.3953" stop-color="#402bff"/><stop offset="0.3981" stop-color="#371fff"/><stop offset="0.4008" stop-color="#5f53ff"/><stop offset="0.4036" stop-color="#4e3dff"/><stop offset="0.4063" stop-color="#685dff"/><stop offset="0.4091" stop-color="#6a60ff"/><stop offset="0.4118" stop-color="#6459ff"/><stop offset="0.4146" stop-color="#5242ff"/><stop offset="0.4174" stop-color="#584aff"/><stop offset="0.4201" stop-color="#5242ff"/><stop offset="0.4229" stop-color="#4b39ff"/><stop offset="0.4256" stop-color="#6d64ff"/><stop offset="0.4284" stop-color="#a6a4ff"/><stop offset="0.4311" stop-color="#7b75ff"/><stop offset="0.4339" stop-color="#8682ff"/><stop offset="0.4366" stop-color="#918fff"/><stop offset="0.4394" stop-color="#766fff"/><stop offset="0.4421" stop-color="#7f7aff"/><stop offset="0.4449" stop-color="#8581ff"/><stop offset="0.4477" stop-color="#746cff"/><stop offset="0.4504" stop-color="#7d77ff"/><stop offset="0.4532" stop-color="#6f67ff"/><stop offset="0.4559" stop-color="#5f52ff"/><stop offset="0.4587" stop-color="#7b75ff"/><stop offset="0.4614" stop-color="#6054ff"/><stop offset="0.4642" stop-color="#6f67ff"/><stop offset="0.4669" stop-color="#685eff"/><stop offset="0.4697" stop-color="#7c76ff"/><stop offset="0.4725" stop-color="#7b76ff"/><stop offset="0.4752" stop-color="#756dff"/><stop offset="0.4780" stop-color="#7b75ff"/><stop offset="0.4807" stop-color="#746cff"/><stop offset="0.4835" stop-color="#6e65ff"/><stop offset="0.4862" stop-color="#847fff"/><stop offset="0.4890" stop-color="#9896ff"/><stop offset="0.4917" stop-color="#726aff"/><stop offset="0.4945" stop-color="#8c89ff"/><stop offset="0.4972" stop-color="#9795ff"/><stop offset="0.5000" stop-color="#7b75ff"/><stop offset="0.5028" stop-color="#8480ff"/><stop offset="0.5055" stop-color="#766fff"/><stop offset="0.5083" stop-color="#7973ff"/><stop offset="0.5110" stop-color="#807bff"/><stop offset="0.5138" stop-color="#6d64ff"/><stop offset="0.5165" stop-color="#908eff"/><stop offset="0.5193" stop-color="#c0bffe"/><stop offset="0.5220" stop-color="#bdbbfe"/><stop offset="0.5248" stop-color="#f7d6d9"/><stop offset="0.5275" stop-color="#f4c3c7"/><stop offset="0.5303" stop-color="#f3bec3"/><stop offset="0.5331" stop-color="#f3b8bd"/><stop offset="0.5358" stop-color="#f3bec2"/><stop offset="0.5386" stop-color="#f5d0d3"/><stop offset="0.5413" stop-color="#f5ced1"/><stop offset="0.5441" stop-color="#f4c9cd"/><stop offset="0.5468" stop-color="#f9e1e4"/><stop offset="0.5496" stop-color="#fcf1f2"/><stop offset="0.5523" stop-color="#fbeaeb"/><stop offset="0.5551" stop-color="#fcf1f2"/><stop offset="0.5579" stop-color="#fefafa"/><stop offset="0.5606" stop-color="#fcf2f3"/><stop offset="0.5634" stop-color="#fefafa"/><stop offset="0.5661" stop-color="#fcf1f2"/><stop offset="0.5689" stop-color="#fefcfc"/><stop offset="0.5716" stop-color="#fae5e7"/><stop offset="0.5744" stop-color="#fcf3f4"/><stop offset="0.5771" stop-color="#fdf4f5"/><stop offset="0.5799" stop-color="#f8dfe2"/><stop offset="0.5826" stop-color="#fef9f9"/><stop offset="0.5854" stop-color="#fceff0"/><stop offset="0.5882" stop-color="#f4cbcf"/><stop offset="0.5909" stop-color="#f3bdc2"/><stop offset="0.5937" stop-color="#f6d3d6"/><stop offset="0.5964" stop-color="#f6d2d6"/><stop offset="0.5992" stop-color="#e3e2fe"/><stop offset="0.6019" stop-color="#d3d3fe"/><stop offset="0.6047" stop-color="#dbdafe"/><stop offset="0.6074" stop-color="#d7d6fe"/><stop offset="0.6102" stop-color="#d2d1fe"/><stop offset="0.6129" stop-color="#e3e2fe"/><stop offset="0.6157" stop-color="#dfdffe"/><stop offset="0.6185" stop-color="#e1e0fe"/><stop offset="0.6212" stop-color="#fcfcff"/><stop offset="0.6240" stop-color="#eaeaff"/><stop offset="0.6267" stop-color="#ebebff"/><stop offset="0.6295" stop-color="#e6e5ff"/><stop offset="0.6322" stop-color="#e4e4ff"/><stop offset="0.6350" stop-color="#f0f0ff"/><stop offset="0.6377" stop-color="#d2d2fe"/><stop offset="0.6405" stop-color="#ff2319"/><stop offset="0.6433" stop-color="#fe2b23"/><stop offset="0.6460" stop-color="#fe271f"/><stop offset="0.6488" stop-color="#fd3029"/><stop offset="0.6515" stop-color="#fd342e"/><stop offset="0.6543" stop-color="#fd352f"/><stop offset="0.6570" stop-color="#fd332d"/><stop offset="0.6598" stop-color="#fe2d25"/><stop offset="0.6625" stop-color="#ff2218"/><stop offset="0.6653" stop-color="#fd3029"/><stop offset="0.6680" stop-color="#fc3a35"/><stop offset="0.6708" stop-color="#fe2c25"/><stop offset="0.6736" stop-color="#fc3a36"/><stop offset="0.6763" stop-color="#fc3a35"/><stop offset="0.6791" stop-color="#fc3d3a"/><stop offset="0.6818" stop-color="#fb413e"/><stop offset="0.6846" stop-color="#fa4847"/><stop offset="0.6873" stop-color="#fb4341"/><stop offset="0.6901" stop-color="#fa4746"/><stop offset="0.6928" stop-color="#f85e61"/><stop offset="0.6956" stop-color="#fb413e"/><stop offset="0.6983" stop-color="#f95254"/><stop offset="0.7011" stop-color="#f75f62"/><stop offset="0.7039" stop-color="#fb4340"/><stop offset="0.7066" stop-color="#f95354"/><stop offset="0.7094" stop-color="#fb3f3c"/><stop offset="0.7121" stop-color="#fb4442"/><stop offset="0.7149" stop-color="#fd2f27"/><stop offset="0.7176" stop-color="#fd3631"/><stop offset="0.7204" stop-color="#f95456"/><stop offset="0.7231" stop-color="#fa4c4c"/><stop offset="0.7259" stop-color="#fd2f27"/><stop offset="0.7287" stop-color="#fd312b"/><stop offset="0.7314" stop-color="#ff2218"/><stop offset="0.7342" stop-color="#fc3934"/><stop offset="0.7369" stop-color="#fd342e"/><stop offset="0.7397" stop-color="#fd332c"/><stop offset="0.7424" stop-color="#fd342f"/><stop offset="0.7452" stop-color="#fd322c"/><stop offset="0.7479" stop-color="#fd312a"/><stop offset="0.7507" stop-color="#fb3f3c"/><stop offset="0.7534" stop-color="#fe2d26"/><stop offset="0.7562" stop-color="#fd3631"/><stop offset="0.7590" stop-color="#fc3a35"/><stop offset="0.7617" stop-color="#fb423f"/><stop offset="0.7645" stop-color="#fb4240"/><stop offset="0.7672" stop-color="#ff2218"/><stop offset="0.7700" stop-color="#ff2218"/><stop offset="0.7727" stop-color="#ff2218"/><stop offset="0.7755" stop-color="#ff2218"/><stop offset="0.7782" stop-color="#ff2218"/><stop offset="0.7810" stop-color="#ff2218"/><stop offset="0.7837" stop-color="#ff2218"/><stop offset="0.7865" stop-color="#ff2218"/><stop offset="0.7893" stop-color="#ff2218"/><stop offset="0.7920" stop-color="#ff2218"/><stop offset="0.7948" stop-color="#ff2218"/><stop offset="0.7975" stop-color="#ff2218"/><stop offset="0.8003" stop-color="#f47c80"/><stop offset="0.8030" stop-color="#f75f62"/><stop offset="0.8058" stop-color="#f57478"/><stop offset="0.8085" stop-color="#f38489"/><stop offset="0.8113" stop-color="#f57276"/><stop offset="0.8140" stop-color="#f6696d"/><stop offset="0.8168" stop-color="#f57074"/><stop offset="0.8196" stop-color="#f57579"/><stop offset="0.8223" stop-color="#f47a7f"/><stop offset="0.8251" stop-color="#f47d82"/><stop offset="0.8278" stop-color="#f4c8cc"/><stop offset="0.8306" stop-color="#f6d6d9"/><stop offset="0.8333" stop-color="#f3b5ba"/><stop offset="0.8361" stop-color="#f3bcc1"/><stop offset="0.8388" stop-color="#f2aeb3"/><stop offset="0.8416" stop-color="#f3b1b6"/><stop offset="0.8444" stop-color="#f2b0b5"/><stop offset="0.8471" stop-color="#f3b3b8"/><stop offset="0.8499" stop-color="#f2a7ac"/><stop offset="0.8526" stop-color="#f2a7ac"/><stop offset="0.8554" stop-color="#f4c5c9"/><stop offset="0.8581" stop-color="#f3c0c5"/><stop offset="0.8609" stop-color="#f4c6ca"/><stop offset="0.8636" stop-color="#f2acb2"/><stop offset="0.8664" stop-color="#f2afb4"/><stop offset="0.8691" stop-color="#f2a1a7"/><stop offset="0.8719" stop-color="#f19fa5"/><stop offset="0.8747" stop-color="#f2abb1"/><stop offset="0.8774" stop-color="#f2a8ad"/><stop offset="0.8802" stop-color="#f2aeb3"/><stop offset="0.8829" stop-color="#f3babf"/><stop offset="0.8857" stop-color="#f2aeb3"/><stop offset="0.8884" stop-color="#f2a7ac"/><stop offset="0.8912" stop-color="#f2b1b6"/><stop offset="0.8939" stop-color="#f2a2a8"/><stop offset="0.8967" stop-color="#f2a5aa"/><stop offset="0.8994" stop-color="#f3babf"/><stop offset="0.9022" stop-color="#f2aaaf"/><stop offset="0.9050" stop-color="#f19fa4"/><stop offset="0.9077" stop-color="#f1989e"/><stop offset="0.9105" stop-color="#f2a5ab"/><stop offset="0.9132" stop-color="#f2a4aa"/><stop offset="0.9160" stop-color="#f2acb1"/><stop offset="0.9187" stop-color="#f19ca2"/><stop offset="0.9215" stop-color="#f5767a"/><stop offset="0.9242" stop-color="#f48085"/><stop offset="0.9270" stop-color="#f38a90"/><stop offset="0.9298" stop-color="#f3878c"/><stop offset="0.9325" stop-color="#f1979d"/><stop offset="0.9353" stop-color="#f29196"/><stop offset="0.9380" stop-color="#f1999f"/><stop offset="0.9408" stop-color="#f48186"/><stop offset="0.9435" stop-color="#f4797e"/><stop offset="0.9463" stop-color="#f19da3"/><stop offset="0.9490" stop-color="#f38287"/><stop offset="0.9518" stop-color="#f5777c"/><stop offset="0.9545" stop-color="#f29197"/><stop offset="0.9573" stop-color="#f48085"/><stop offset="0.9601" stop-color="#f47b7f"/><stop offset="0.9628" stop-color="#f47b7f"/><stop offset="0.9656" stop-color="#f3858a"/><stop offset="0.9683" stop-color="#f57377"/><stop offset="0.9711" stop-color="#f5757a"/><stop offset="0.9738" stop-color="#f57579"/><stop offset="0.9766" stop-color="#f47b7f"/><stop offset="0.9793" stop-color="#f28c92"/><stop offset="0.9821" stop-color="#f57175"/><stop offset="0.9848" stop-color="#fc3c38"/><stop offset="0.9876" stop-color="#fa4c4b"/><stop offset="0.9904" stop-color="#fb4441"/><stop offset="0.9931" stop-color="#f85a5d"/><stop offset="0.9959" stop-color="#fc3a35"/><stop offset="0.9986" stop-color="#f8585a"/></linearGradient><rect x="1055.8" y="675.4" width="96.5" height="580.6" fill="url(#h3)"/>
<linearGradient id="h4" x1="0" y1="0" x2="0" y2="1"><stop offset="0.0014" stop-color="#685eff"/><stop offset="0.0041" stop-color="#6d63ff"/><stop offset="0.0069" stop-color="#6256ff"/><stop offset="0.0096" stop-color="#594cff"/><stop offset="0.0124" stop-color="#361dff"/><stop offset="0.0152" stop-color="#371fff"/><stop offset="0.0179" stop-color="#4835ff"/><stop offset="0.0207" stop-color="#2305ff"/><stop offset="0.0234" stop-color="#2508ff"/><stop offset="0.0262" stop-color="#341cff"/><stop offset="0.0289" stop-color="#2d12ff"/><stop offset="0.0317" stop-color="#3b24ff"/><stop offset="0.0344" stop-color="#2d12ff"/><stop offset="0.0372" stop-color="#1f01ff"/><stop offset="0.0399" stop-color="#1f00ff"/><stop offset="0.0427" stop-color="#1f00ff"/><stop offset="0.0455" stop-color="#1f00ff"/><stop offset="0.0482" stop-color="#9a98ff"/><stop offset="0.0510" stop-color="#a9a8ff"/><stop offset="0.0537" stop-color="#918fff"/><stop offset="0.0565" stop-color="#9694ff"/><stop offset="0.0592" stop-color="#a4a2ff"/><stop offset="0.0620" stop-color="#837fff"/><stop offset="0.0647" stop-color="#9391ff"/><stop offset="0.0675" stop-color="#9290ff"/><stop offset="0.0702" stop-color="#8e8cff"/><stop offset="0.0730" stop-color="#abaafe"/><stop offset="0.0758" stop-color="#8d8bff"/><stop offset="0.0785" stop-color="#7d78ff"/><stop offset="0.0813" stop-color="#8783ff"/><stop offset="0.0840" stop-color="#9493ff"/><stop offset="0.0868" stop-color="#8480ff"/><stop offset="0.0895" stop-color="#acabfe"/><stop offset="0.0923" stop-color="#9391ff"/><stop offset="0.0950" stop-color="#9c9aff"/><stop offset="0.0978" stop-color="#9b9aff"/><stop offset="0.1006" stop-color="#9a98ff"/><stop offset="0.1033" stop-color="#9997ff"/><stop offset="0.1061" stop-color="#9694ff"/><stop offset="0.1088" stop-color="#9b9aff"/><stop offset="0.1116" stop-color="#b0affe"/><stop offset="0.1143" stop-color="#a6a5ff"/><stop offset="0.1171" stop-color="#aaa8ff"/><stop offset="0.1198" stop-color="#a4a3ff"/><stop offset="0.1226" stop-color="#9694ff"/><stop offset="0.1253" stop-color="#b3b2fe"/><stop offset="0.1281" stop-color="#abaafe"/><stop offset="0.1309" stop-color="#a1a0ff"/><stop offset="0.1336" stop-color="#a6a4ff"/><stop offset="0.1364" stop-color="#9998ff"/><stop offset="0.1391" stop-color="#abaafe"/><stop offset="0.1419" stop-color="#9492ff"/><stop offset="0.1446" stop-color="#a09eff"/><stop offset="0.1474" stop-color="#837fff"/><stop offset="0.1501" stop-color="#8581ff"/><stop offset="0.1529" stop-color="#7c76ff"/><stop offset="0.1556" stop-color="#817dff"/><stop offset="0.1584" stop-color="#8e8cff"/><stop offset="0.1612" stop-color="#827eff"/><stop offset="0.1639" stop-color="#8581ff"/><stop offset="0.1667" stop-color="#8480ff"/><stop offset="0.1694" stop-color="#9897ff"/><stop offset="0.1722" stop-color="#8d8aff"/><stop offset="0.1749" stop-color="#7d78ff"/><stop offset="0.1777" stop-color="#8581ff"/><stop offset="0.1804" stop-color="#9b99ff"/><stop offset="0.1832" stop-color="#9493ff"/><stop offset="0.1860" stop-color="#dbdafe"/><stop offset="0.1887" stop-color="#f2afb4"/><stop offset="0.1915" stop-color="#eeeeff"/><stop offset="0.1942" stop-color="#f1f1ff"/><stop offset="0.1970" stop-color="#fcfcff"/><stop offset="0.1997" stop-color="#f9f9ff"/><stop offset="0.2025" stop-color="#e9e9ff"/><stop offset="0.2052" stop-color="#fae5e7"/><stop offset="0.2080" stop-color="#f5d1d4"/><stop offset="0.2107" stop-color="#f5d0d4"/><stop offset="0.2135" stop-color="#9896ff"/><stop offset="0.2163" stop-color="#a3a1ff"/><stop offset="0.2190" stop-color="#908eff"/><stop offset="0.2218" stop-color="#918fff"/><stop offset="0.2245" stop-color="#9290ff"/><stop offset="0.2273" stop-color="#4b39ff"/><stop offset="0.2300" stop-color="#2609ff"/><stop offset="0.2328" stop-color="#3921ff"/><stop offset="0.2355" stop-color="#3f29ff"/><stop offset="0.2383" stop-color="#402bff"/><stop offset="0.2410" stop-color="#6257ff"/><stop offset="0.2438" stop-color="#584aff"/><stop offset="0.2466" stop-color="#5344ff"/><stop offset="0.2493" stop-color="#5647ff"/><stop offset="0.2521" stop-color="#5e52ff"/><stop offset="0.2548" stop-color="#594bff"/><stop offset="0.2576" stop-color="#4b3aff"/><stop offset="0.2603" stop-color="#5f52ff"/><stop offset="0.2631" stop-color="#5343ff"/><stop offset="0.2658" stop-color="#6357ff"/><stop offset="0.2686" stop-color="#7068ff"/><stop offset="0.2713" stop-color="#7b75ff"/><stop offset="0.2741" stop-color="#5e51ff"/><stop offset="0.2769" stop-color="#5547ff"/><stop offset="0.2796" stop-color="#4937ff"/><stop offset="0.2824" stop-color="#6256ff"/><stop offset="0.2851" stop-color="#5d50ff"/><stop offset="0.2879" stop-color="#5e51ff"/><stop offset="0.2906" stop-color="#4d3cff"/><stop offset="0.2934" stop-color="#5546ff"/><stop offset="0.2961" stop-color="#fcfcff"/><stop offset="0.2989" stop-color="#f6f6ff"/><stop offset="0.3017" stop-color="#efefff"/><stop offset="0.3044" stop-color="#bab9fe"/><stop offset="0.3072" stop-color="#a6a5ff"/><stop offset="0.3099" stop-color="#c9c8fe"/><stop offset="0.3127" stop-color="#bdbcfe"/><stop offset="0.3154" stop-color="#bab8fe"/><stop offset="0.3182" stop-color="#9493ff"/><stop offset="0.3209" stop-color="#918fff"/><stop offset="0.3237" stop-color="#9290ff"/><stop offset="0.3264" stop-color="#7b75ff"/><stop offset="0.3292" stop-color="#9391ff"/><stop offset="0.3320" stop-color="#8682ff"/><stop offset="0.3347" stop-color="#8784ff"/><stop offset="0.3375" stop-color="#9f9eff"/><stop offset="0.3402" stop-color="#9896ff"/><stop offset="0.3430" stop-color="#bebdfe"/><stop offset="0.3457" stop-color="#9f9dff"/><stop offset="0.3485" stop-color="#b9b8fe"/><stop offset="0.3512" stop-color="#9f9dff"/><stop offset="0.3540" stop-color="#736bff"/><stop offset="0.3567" stop-color="#908eff"/><stop offset="0.3595" stop-color="#8e8cff"/><stop offset="0.3623" stop-color="#908eff"/><stop offset="0.3650" stop-color="#9f9eff"/><stop offset="0.3678" stop-color="#8d8bff"/><stop offset="0.3705" stop-color="#9593ff"/><stop offset="0.3733" stop-color="#a5a3ff"/><stop offset="0.3760" stop-color="#a19fff"/><stop offset="0.3788" stop-color="#a7a5ff"/><stop offset="0.3815" stop-color="#b6b5fe"/><stop offset="0.3843" stop-color="#aeadfe"/><stop offset="0.3871" stop-color="#bab8fe"/><stop offset="0.3898" stop-color="#afadfe"/><stop offset="0.3926" stop-color="#a9a7ff"/><stop offset="0.3953" stop-color="#a5a3ff"/><stop offset="0.3981" stop-color="#908eff"/><stop offset="0.4008" stop-color="#8481ff"/><stop offset="0.4036" stop-color="#9190ff"/><stop offset="0.4063" stop-color="#9694ff"/><stop offset="0.4091" stop-color="#8b88ff"/><stop offset="0.4118" stop-color="#a3a1ff"/><stop offset="0.4146" stop-color="#827eff"/><stop offset="0.4174" stop-color="#aba9fe"/><stop offset="0.4201" stop-color="#8986ff"/><stop offset="0.4229" stop-color="#9c9aff"/><stop offset="0.4256" stop-color="#8c8aff"/><stop offset="0.4284" stop-color="#7b75ff"/><stop offset="0.4311" stop-color="#7a74ff"/><stop offset="0.4339" stop-color="#6f67ff"/><stop offset="0.4366" stop-color="#6256ff"/><stop offset="0.4394" stop-color="#5c4fff"/><stop offset="0.4421" stop-color="#655aff"/><stop offset="0.4449" stop-color="#6e65ff"/><stop offset="0.4477" stop-color="#7770ff"/><stop offset="0.4504" stop-color="#6c62ff"/><stop offset="0.4532" stop-color="#675cff"/><stop offset="0.4559" stop-color="#6d64ff"/><stop offset="0.4587" stop-color="#685eff"/><stop offset="0.4614" stop-color="#685eff"/><stop offset="0.4642" stop-color="#665cff"/><stop offset="0.4669" stop-color="#5b4eff"/><stop offset="0.4697" stop-color="#6357ff"/><stop offset="0.4725" stop-color="#7c76ff"/><stop offset="0.4752" stop-color="#685dff"/><stop offset="0.4780" stop-color="#7b75ff"/><stop offset="0.4807" stop-color="#5e51ff"/><stop offset="0.4835" stop-color="#6f66ff"/><stop offset="0.4862" stop-color="#7d78ff"/><stop offset="0.4890" stop-color="#6c63ff"/><stop offset="0.4917" stop-color="#766fff"/><stop offset="0.4945" stop-color="#7c76ff"/><stop offset="0.4972" stop-color="#7770ff"/><stop offset="0.5000" stop-color="#6b62ff"/><stop offset="0.5028" stop-color="#817cff"/><stop offset="0.5055" stop-color="#7f79ff"/><stop offset="0.5083" stop-color="#7168ff"/><stop offset="0.5110" stop-color="#8885ff"/><stop offset="0.5138" stop-color="#7b75ff"/><stop offset="0.5165" stop-color="#746cff"/><stop offset="0.5193" stop-color="#ff2218"/><stop offset="0.5220" stop-color="#ff2218"/><stop offset="0.5248" stop-color="#ff2218"/><stop offset="0.5275" stop-color="#ff2218"/><stop offset="0.5303" stop-color="#ff2218"/><stop offset="0.5331" stop-color="#ff2218"/><stop offset="0.5358" stop-color="#ff2218"/><stop offset="0.5386" stop-color="#ff2218"/><stop offset="0.5413" stop-color="#ff2218"/><stop offset="0.5441" stop-color="#ff2218"/><stop offset="0.5468" stop-color="#ff2218"/><stop offset="0.5496" stop-color="#ff2218"/><stop offset="0.5523" stop-color="#ff2218"/><stop offset="0.5551" stop-color="#ff2218"/><stop offset="0.5579" stop-color="#ff2218"/><stop offset="0.5606" stop-color="#ff2218"/><stop offset="0.5634" stop-color="#ff2218"/><stop offset="0.5661" stop-color="#ff2218"/><stop offset="0.5689" stop-color="#ff2218"/><stop offset="0.5716" stop-color="#ff2218"/><stop offset="0.5744" stop-color="#ff2218"/><stop offset="0.5771" stop-color="#ff2218"/><stop offset="0.5799" stop-color="#ff2218"/><stop offset="0.5826" stop-color="#ff2218"/><stop offset="0.5854" stop-color="#ff2218"/><stop offset="0.5882" stop-color="#ff2218"/><stop offset="0.5909" stop-color="#ff2218"/><stop offset="0.5937" stop-color="#ff2218"/><stop offset="0.5964" stop-color="#ff2218"/><stop offset="0.5992" stop-color="#ff2218"/><stop offset="0.6019" stop-color="#ff2218"/><stop offset="0.6047" stop-color="#ff2218"/><stop offset="0.6074" stop-color="#ff2218"/><stop offset="0.6102" stop-color="#ff2218"/><stop offset="0.6129" stop-color="#ff2218"/><stop offset="0.6157" stop-color="#ff2218"/><stop offset="0.6185" stop-color="#ff2218"/><stop offset="0.6212" stop-color="#ff2218"/><stop offset="0.6240" stop-color="#ff2218"/><stop offset="0.6267" stop-color="#ff2218"/><stop offset="0.6295" stop-color="#ff2218"/><stop offset="0.6322" stop-color="#ff2218"/><stop offset="0.6350" stop-color="#ff2218"/><stop offset="0.6377" stop-color="#ff2218"/><stop offset="0.6405" stop-color="#b1b0fe"/><stop offset="0.6433" stop-color="#c0bffe"/><stop offset="0.6460" stop-color="#d0d0fe"/><stop offset="0.6488" stop-color="#d1d0fe"/><stop offset="0.6515" stop-color="#d1d0fe"/><stop offset="0.6543" stop-color="#eeedff"/><stop offset="0.6570" stop-color="#e3e2fe"/><stop offset="0.6598" stop-color="#d6d5fe"/><stop offset="0.6625" stop-color="#e8e8ff"/><stop offset="0.6653" stop-color="#ececff"/><stop offset="0.6680" stop-color="#dfdefe"/><stop offset="0.6708" stop-color="#f4c6ca"/><stop offset="0.6736" stop-color="#f2afb4"/><stop offset="0.6763" stop-color="#f4cace"/><stop offset="0.6791" stop-color="#f4c2c6"/><stop offset="0.6818" stop-color="#f3b4b9"/><stop offset="0.6846" stop-color="#f3b2b7"/><stop offset="0.6873" stop-color="#f2a1a7"/><stop offset="0.6901" stop-color="#f28e94"/><stop offset="0.6928" stop-color="#f2a8ae"/><stop offset="0.6956" stop-color="#f19da3"/><stop offset="0.6983" stop-color="#f2a9ae"/><stop offset="0.7011" stop-color="#f2a7ad"/><stop offset="0.7039" stop-color="#f2a8ad"/><stop offset="0.7066" stop-color="#f2a7ac"/><stop offset="0.7094" stop-color="#f9e3e5"/><stop offset="0.7121" stop-color="#fae5e7"/><stop offset="0.7149" stop-color="#fceff0"/><stop offset="0.7176" stop-color="#f7dadd"/><stop offset="0.7204" stop-color="#f7d8db"/><stop offset="0.7231" stop-color="#f4c5c9"/><stop offset="0.7259" stop-color="#f3bdc2"/><stop offset="0.7287" stop-color="#f4c7cc"/><stop offset="0.7314" stop-color="#f4c7cb"/><stop offset="0.7342" stop-color="#f4c7cb"/><stop offset="0.7369" stop-color="#f3b6bb"/><stop offset="0.7397" stop-color="#f5cdd0"/><stop offset="0.7424" stop-color="#f3b9bd"/><stop offset="0.7452" stop-color="#f2a5ab"/><stop offset="0.7479" stop-color="#f3c1c6"/><stop offset="0.7507" stop-color="#f3bec3"/><stop offset="0.7534" stop-color="#f3bdc2"/><stop offset="0.7562" stop-color="#f3b3b7"/><stop offset="0.7590" stop-color="#f1a0a5"/><stop offset="0.7617" stop-color="#f3bbc0"/><stop offset="0.7645" stop-color="#f3b3b8"/><stop offset="0.7672" stop-color="#f3b6bb"/><stop offset="0.7700" stop-color="#fcf3f3"/><stop offset="0.7727" stop-color="#fdf5f5"/><stop offset="0.7755" stop-color="#fffefe"/><stop offset="0.7782" stop-color="#fdf5f6"/><stop offset="0.7810" stop-color="#fcf1f2"/><stop offset="0.7837" stop-color="#f7f7ff"/><stop offset="0.7865" stop-color="#fef9fa"/><stop offset="0.7893" stop-color="#fdf8f8"/><stop offset="0.7920" stop-color="#fbedee"/><stop offset="0.7948" stop-color="#f3f3ff"/><stop offset="0.7975" stop-color="#fcf0f1"/><stop offset="0.8003" stop-color="#f5787d"/><stop offset="0.8030" stop-color="#f5757a"/><stop offset="0.8058" stop-color="#f47d81"/><stop offset="0.8085" stop-color="#f57378"/><stop offset="0.8113" stop-color="#f66b6f"/><stop offset="0.8140" stop-color="#f47d82"/><stop offset="0.8168" stop-color="#f57276"/><stop offset="0.8196" stop-color="#f28c92"/><stop offset="0.8223" stop-color="#f38489"/><stop offset="0.8251" stop-color="#f19ba1"/><stop offset="0.8278" stop-color="#f95355"/><stop offset="0.8306" stop-color="#f76265"/><stop offset="0.8333" stop-color="#fa4746"/><stop offset="0.8361" stop-color="#fc3d39"/><stop offset="0.8388" stop-color="#f95152"/><stop offset="0.8416" stop-color="#fa4746"/><stop offset="0.8444" stop-color="#fc3732"/><stop offset="0.8471" stop-color="#f95455"/><stop offset="0.8499" stop-color="#f95557"/><stop offset="0.8526" stop-color="#fb4341"/><stop offset="0.8554" stop-color="#fc3e3a"/><stop offset="0.8581" stop-color="#fc3a36"/><stop offset="0.8609" stop-color="#fa4e4e"/><stop offset="0.8636" stop-color="#fa4948"/><stop offset="0.8664" stop-color="#fa4b4b"/><stop offset="0.8691" stop-color="#fb4442"/><stop offset="0.8719" stop-color="#f95658"/><stop offset="0.8747" stop-color="#fa4645"/><stop offset="0.8774" stop-color="#fb4442"/><stop offset="0.8802" stop-color="#fa4e4e"/><stop offset="0.8829" stop-color="#f95253"/><stop offset="0.8857" stop-color="#f95051"/><stop offset="0.8884" stop-color="#f85759"/><stop offset="0.8912" stop-color="#f8595b"/><stop offset="0.8939" stop-color="#f8595c"/><stop offset="0.8967" stop-color="#f76468"/><stop offset="0.8994" stop-color="#f8585b"/><stop offset="0.9022" stop-color="#f66c70"/><stop offset="0.9050" stop-color="#fa4c4b"/><stop offset="0.9077" stop-color="#f85b5e"/><stop offset="0.9105" stop-color="#f95254"/><stop offset="0.9132" stop-color="#f95556"/><stop offset="0.9160" stop-color="#f75f62"/><stop offset="0.9187" stop-color="#f94f50"/><stop offset="0.9215" stop-color="#f95253"/><stop offset="0.9242" stop-color="#fa4948"/><stop offset="0.9270" stop-color="#fb413e"/><stop offset="0.9298" stop-color="#fa4b4b"/><stop offset="0.9325" stop-color="#fa4948"/><stop offset="0.9353" stop-color="#fb3f3b"/><stop offset="0.9380" stop-color="#f76063"/><stop offset="0.9408" stop-color="#fb4441"/><stop offset="0.9435" stop-color="#f4797e"/><stop offset="0.9463" stop-color="#f66d71"/><stop offset="0.9490" stop-color="#f5797d"/><stop offset="0.9518" stop-color="#f47c81"/><stop offset="0.9545" stop-color="#f85c5f"/><stop offset="0.9573" stop-color="#f66d71"/><stop offset="0.9601" stop-color="#f66e72"/><stop offset="0.9628" stop-color="#f67074"/><stop offset="0.9656" stop-color="#f57377"/><stop offset="0.9683" stop-color="#f57478"/><stop offset="0.9711" stop-color="#f48287"/><stop offset="0.9738" stop-color="#f57377"/><stop offset="0.9766" stop-color="#f67074"/><stop offset="0.9793" stop-color="#f57579"/><stop offset="0.9821" stop-color="#f28f94"/><stop offset="0.9848" stop-color="#f85c5f"/><stop offset="0.9876" stop-color="#f67074"/><stop offset="0.9904" stop-color="#f7666a"/><stop offset="0.9931" stop-color="#f48085"/><stop offset="0.9959" stop-color="#f29197"/><stop offset="0.9986" stop-color="#f57175"/></linearGradient><rect x="1152.0" y="675.4" width="96.5" height="580.6" fill="url(#h4)"/>
<linearGradient id="h5" x1="0" y1="0" x2="0" y2="1"><stop offset="0.0014" stop-color="#f3babe"/><stop offset="0.0041" stop-color="#f2aab0"/><stop offset="0.0069" stop-color="#f3c0c5"/><stop offset="0.0096" stop-color="#f4c9cd"/><stop offset="0.0124" stop-color="#f2a7ad"/><stop offset="0.0152" stop-color="#f2b0b5"/><stop offset="0.0179" stop-color="#f2abb0"/><stop offset="0.0207" stop-color="#f3b6bb"/><stop offset="0.0234" stop-color="#f5d0d4"/><stop offset="0.0262" stop-color="#f3babe"/><stop offset="0.0289" stop-color="#f4c4c8"/><stop offset="0.0317" stop-color="#f3b7bc"/><stop offset="0.0344" stop-color="#f48085"/><stop offset="0.0372" stop-color="#f28e93"/><stop offset="0.0399" stop-color="#f4797e"/><stop offset="0.0427" stop-color="#f2a9ae"/><stop offset="0.0455" stop-color="#f19499"/><stop offset="0.0482" stop-color="#f47d82"/><stop offset="0.0510" stop-color="#f1979d"/><stop offset="0.0537" stop-color="#f1989e"/><stop offset="0.0565" stop-color="#f1979d"/><stop offset="0.0592" stop-color="#f3868c"/><stop offset="0.0620" stop-color="#f47a7e"/><stop offset="0.0647" stop-color="#f3858a"/><stop offset="0.0675" stop-color="#cccbfe"/><stop offset="0.0702" stop-color="#d4d3fe"/><stop offset="0.0730" stop-color="#f8dde0"/><stop offset="0.0758" stop-color="#fceff0"/><stop offset="0.0785" stop-color="#fae9eb"/><stop offset="0.0813" stop-color="#fdf5f6"/><stop offset="0.0840" stop-color="#f6d4d8"/><stop offset="0.0868" stop-color="#fdf8f8"/><stop offset="0.0895" stop-color="#fae8ea"/><stop offset="0.0923" stop-color="#fbeced"/><stop offset="0.0950" stop-color="#fbe9eb"/><stop offset="0.0978" stop-color="#fbebed"/><stop offset="0.1006" stop-color="#fcf2f3"/><stop offset="0.1033" stop-color="#f9f9ff"/><stop offset="0.1061" stop-color="#fffefe"/><stop offset="0.1088" stop-color="#e3e3fe"/><stop offset="0.1116" stop-color="#fafaff"/><stop offset="0.1143" stop-color="#fdf5f5"/><stop offset="0.1171" stop-color="#fdf4f5"/><stop offset="0.1198" stop-color="#fefcfc"/><stop offset="0.1226" stop-color="#ffffff"/><stop offset="0.1253" stop-color="#ffffff"/><stop offset="0.1281" stop-color="#eaeaff"/><stop offset="0.1309" stop-color="#d6d6fe"/><stop offset="0.1336" stop-color="#cdccfe"/><stop offset="0.1364" stop-color="#d0cffe"/><stop offset="0.1391" stop-color="#bfbefe"/><stop offset="0.1419" stop-color="#fcf2f3"/><stop offset="0.1446" stop-color="#fef9fa"/><stop offset="0.1474" stop-color="#fffefe"/><stop offset="0.1501" stop-color="#f8dcdf"/><stop offset="0.1529" stop-color="#fceef0"/><stop offset="0.1556" stop-color="#fdf6f6"/><stop offset="0.1584" stop-color="#f4f4ff"/><stop offset="0.1612" stop-color="#fd3630"/><stop offset="0.1639" stop-color="#f94f4f"/><stop offset="0.1667" stop-color="#f94f4f"/><stop offset="0.1694" stop-color="#fa4b4b"/><stop offset="0.1722" stop-color="#f95152"/><stop offset="0.1749" stop-color="#f95456"/><stop offset="0.1777" stop-color="#fc3732"/><stop offset="0.1804" stop-color="#fe2e26"/><stop offset="0.1832" stop-color="#fa4847"/><stop offset="0.1860" stop-color="#f94f4f"/><stop offset="0.1887" stop-color="#fb4442"/><stop offset="0.1915" stop-color="#fa4948"/><stop offset="0.1942" stop-color="#fa4948"/><stop offset="0.1970" stop-color="#fa4c4c"/><stop offset="0.1997" stop-color="#ff2218"/><stop offset="0.2025" stop-color="#ff2218"/><stop offset="0.2052" stop-color="#ff2218"/><stop offset="0.2080" stop-color="#ff2218"/><stop offset="0.2107" stop-color="#ff2218"/><stop offset="0.2135" stop-color="#ff2218"/><stop offset="0.2163" stop-color="#ff2218"/><stop offset="0.2190" stop-color="#ff2218"/><stop offset="0.2218" stop-color="#ff2218"/><stop offset="0.2245" stop-color="#ff2218"/><stop offset="0.2273" stop-color="#ff2218"/><stop offset="0.2300" stop-color="#f38b90"/><stop offset="0.2328" stop-color="#f48186"/><stop offset="0.2355" stop-color="#f3878d"/><stop offset="0.2383" stop-color="#f38a90"/><stop offset="0.2410" stop-color="#f48286"/><stop offset="0.2438" stop-color="#f5787d"/><stop offset="0.2466" stop-color="#f47d82"/><stop offset="0.2493" stop-color="#f66b6f"/><stop offset="0.2521" stop-color="#f57478"/><stop offset="0.2548" stop-color="#f48085"/><stop offset="0.2576" stop-color="#f66f73"/><stop offset="0.2603" stop-color="#f47a7f"/><stop offset="0.2631" stop-color="#f28d93"/><stop offset="0.2658" stop-color="#f66c6f"/><stop offset="0.2686" stop-color="#f3868b"/><stop offset="0.2713" stop-color="#f57378"/><stop offset="0.2741" stop-color="#ff2218"/><stop offset="0.2769" stop-color="#ff2218"/><stop offset="0.2796" stop-color="#ff2218"/><stop offset="0.2824" stop-color="#ff2218"/><stop offset="0.2851" stop-color="#ff2218"/><stop offset="0.2879" stop-color="#ff2218"/><stop offset="0.2906" stop-color="#ff2218"/><stop offset="0.2934" stop-color="#fd352f"/><stop offset="0.2961" stop-color="#fc3e3a"/><stop offset="0.2989" stop-color="#fa4c4b"/><stop offset="0.3017" stop-color="#fa4746"/><stop offset="0.3044" stop-color="#fa4948"/><stop offset="0.3072" stop-color="#fc3731"/><stop offset="0.3099" stop-color="#fc3c38"/><stop offset="0.3127" stop-color="#fa4645"/><stop offset="0.3154" stop-color="#fb413f"/><stop offset="0.3182" stop-color="#fb4441"/><stop offset="0.3209" stop-color="#f95050"/><stop offset="0.3237" stop-color="#f75f62"/><stop offset="0.3264" stop-color="#fa4a49"/><stop offset="0.3292" stop-color="#f8585b"/><stop offset="0.3320" stop-color="#f85b5e"/><stop offset="0.3347" stop-color="#fb3f3c"/><stop offset="0.3375" stop-color="#ff2319"/><stop offset="0.3402" stop-color="#fe261d"/><stop offset="0.3430" stop-color="#f66a6e"/><stop offset="0.3457" stop-color="#f94f4f"/><stop offset="0.3485" stop-color="#f76568"/><stop offset="0.3512" stop-color="#fa4d4d"/><stop offset="0.3540" stop-color="#f95253"/><stop offset="0.3567" stop-color="#f95354"/><stop offset="0.3595" stop-color="#f8575a"/><stop offset="0.3623" stop-color="#fa4c4b"/><stop offset="0.3650" stop-color="#fc3732"/><stop offset="0.3678" stop-color="#fd342e"/><stop offset="0.3705" stop-color="#fc3833"/><stop offset="0.3733" stop-color="#fa4949"/><stop offset="0.3760" stop-color="#fb4544"/><stop offset="0.3788" stop-color="#fb3f3c"/><stop offset="0.3815" stop-color="#f38489"/><stop offset="0.3843" stop-color="#f47b80"/><stop offset="0.3871" stop-color="#f57276"/><stop offset="0.3898" stop-color="#f47e83"/><stop offset="0.3926" stop-color="#f47e83"/><stop offset="0.3953" stop-color="#f38a90"/><stop offset="0.3981" stop-color="#f38a90"/><stop offset="0.4008" stop-color="#f38489"/><stop offset="0.4036" stop-color="#f5767a"/><stop offset="0.4063" stop-color="#f48287"/><stop offset="0.4091" stop-color="#f3878c"/><stop offset="0.4118" stop-color="#f66d71"/><stop offset="0.4146" stop-color="#f57175"/><stop offset="0.4174" stop-color="#f29196"/><stop offset="0.4201" stop-color="#f38287"/><stop offset="0.4229" stop-color="#f3888d"/><stop offset="0.4256" stop-color="#f8dfe2"/><stop offset="0.4284" stop-color="#fae5e7"/><stop offset="0.4311" stop-color="#f9e3e5"/><stop offset="0.4339" stop-color="#fae5e7"/><stop offset="0.4366" stop-color="#f9e2e4"/><stop offset="0.4394" stop-color="#f2aab0"/><stop offset="0.4421" stop-color="#f2afb4"/><stop offset="0.4449" stop-color="#f19ca2"/><stop offset="0.4477" stop-color="#f2a6ab"/><stop offset="0.4504" stop-color="#f2a2a8"/><stop offset="0.4532" stop-color="#f19ba1"/><stop offset="0.4559" stop-color="#f3b4b9"/><stop offset="0.4587" stop-color="#f19aa0"/><stop offset="0.4614" stop-color="#f2aaaf"/><stop offset="0.4642" stop-color="#f4c6ca"/><stop offset="0.4669" stop-color="#f3b5ba"/><stop offset="0.4697" stop-color="#f2b0b5"/><stop offset="0.4725" stop-color="#f2b1b6"/><stop offset="0.4752" stop-color="#f3c0c4"/><stop offset="0.4780" stop-color="#f3c0c5"/><stop offset="0.4807" stop-color="#f3c0c5"/><stop offset="0.4835" stop-color="#f3c0c4"/><stop offset="0.4862" stop-color="#f6d4d7"/><stop offset="0.4890" stop-color="#f3b9be"/><stop offset="0.4917" stop-color="#f3b5ba"/><stop offset="0.4945" stop-color="#f3b2b7"/><stop offset="0.4972" stop-color="#f3b5ba"/><stop offset="0.5000" stop-color="#f4c7cb"/><stop offset="0.5028" stop-color="#f7d8db"/><stop offset="0.5055" stop-color="#f7d8db"/><stop offset="0.5083" stop-color="#f7d8db"/><stop offset="0.5110" stop-color="#f4cbcf"/><stop offset="0.5138" stop-color="#f3c1c5"/><stop offset="0.5165" stop-color="#f7d9db"/><stop offset="0.5193" stop-color="#f5ced2"/><stop offset="0.5220" stop-color="#655aff"/><stop offset="0.5248" stop-color="#584aff"/><stop offset="0.5275" stop-color="#655aff"/><stop offset="0.5303" stop-color="#5242ff"/><stop offset="0.5331" stop-color="#351dff"/><stop offset="0.5358" stop-color="#3c25ff"/><stop offset="0.5386" stop-color="#2305ff"/><stop offset="0.5413" stop-color="#a2a0ff"/><stop offset="0.5441" stop-color="#8986ff"/><stop offset="0.5468" stop-color="#9795ff"/><stop offset="0.5496" stop-color="#a1a0ff"/><stop offset="0.5523" stop-color="#a6a4ff"/><stop offset="0.5551" stop-color="#9896ff"/><stop offset="0.5579" stop-color="#908eff"/><stop offset="0.5606" stop-color="#8683ff"/><stop offset="0.5634" stop-color="#8480ff"/><stop offset="0.5661" stop-color="#9593ff"/><stop offset="0.5689" stop-color="#a1a0ff"/><stop offset="0.5716" stop-color="#a7a5ff"/><stop offset="0.5744" stop-color="#a19fff"/><stop offset="0.5771" stop-color="#908eff"/><stop offset="0.5799" stop-color="#b4b3fe"/><stop offset="0.5826" stop-color="#aaa9ff"/><stop offset="0.5854" stop-color="#908eff"/><stop offset="0.5882" stop-color="#9f9dff"/><stop offset="0.5909" stop-color="#9795ff"/><stop offset="0.5937" stop-color="#9593ff"/><stop offset="0.5964" stop-color="#a2a0ff"/><stop offset="0.5992" stop-color="#a8a6ff"/><stop offset="0.6019" stop-color="#9694ff"/><stop offset="0.6047" stop-color="#a3a1ff"/><stop offset="0.6074" stop-color="#9e9cff"/><stop offset="0.6102" stop-color="#b0affe"/><stop offset="0.6129" stop-color="#8f8dff"/><stop offset="0.6157" stop-color="#9d9cff"/><stop offset="0.6185" stop-color="#a5a4ff"/><stop offset="0.6212" stop-color="#9795ff"/><stop offset="0.6240" stop-color="#b5b4fe"/><stop offset="0.6267" stop-color="#adabfe"/><stop offset="0.6295" stop-color="#acabfe"/><stop offset="0.6322" stop-color="#a5a3ff"/><stop offset="0.6350" stop-color="#a5a3ff"/><stop offset="0.6377" stop-color="#a19fff"/><stop offset="0.6405" stop-color="#9492ff"/><stop offset="0.6433" stop-color="#9d9bff"/><stop offset="0.6460" stop-color="#b3b1fe"/><stop offset="0.6488" stop-color="#a5a3ff"/><stop offset="0.6515" stop-color="#9593ff"/><stop offset="0.6543" stop-color="#9a98ff"/><stop offset="0.6570" stop-color="#f2f2ff"/><stop offset="0.6598" stop-color="#fdfdff"/><stop offset="0.6625" stop-color="#fefeff"/><stop offset="0.6653" stop-color="#fefbfc"/><stop offset="0.6680" stop-color="#f4c3c7"/><stop offset="0.6708" stop-color="#f7dadd"/><stop offset="0.6736" stop-color="#f5d1d5"/><stop offset="0.6763" stop-color="#f5f5ff"/><stop offset="0.6791" stop-color="#fefcfc"/><stop offset="0.6818" stop-color="#c9c8fe"/><stop offset="0.6846" stop-color="#c6c5fe"/><stop offset="0.6873" stop-color="#4c3aff"/><stop offset="0.6901" stop-color="#5445ff"/><stop offset="0.6928" stop-color="#746cff"/><stop offset="0.6956" stop-color="#5a4cff"/><stop offset="0.6983" stop-color="#766fff"/><stop offset="0.7011" stop-color="#6f66ff"/><stop offset="0.7039" stop-color="#6b61ff"/><stop offset="0.7066" stop-color="#7068ff"/><stop offset="0.7094" stop-color="#6357ff"/><stop offset="0.7121" stop-color="#7269ff"/><stop offset="0.7149" stop-color="#6c62ff"/><stop offset="0.7176" stop-color="#7067ff"/><stop offset="0.7204" stop-color="#675cff"/><stop offset="0.7231" stop-color="#7169ff"/><stop offset="0.7259" stop-color="#7770ff"/><stop offset="0.7287" stop-color="#7871ff"/><stop offset="0.7314" stop-color="#7a74ff"/><stop offset="0.7342" stop-color="#8f8dff"/><stop offset="0.7369" stop-color="#7f7aff"/><stop offset="0.7397" stop-color="#756eff"/><stop offset="0.7424" stop-color="#6b61ff"/><stop offset="0.7452" stop-color="#594bff"/><stop offset="0.7479" stop-color="#7067ff"/><stop offset="0.7507" stop-color="#584aff"/><stop offset="0.7534" stop-color="#4b39ff"/><stop offset="0.7562" stop-color="#5344ff"/><stop offset="0.7590" stop-color="#3a23ff"/><stop offset="0.7617" stop-color="#5749ff"/><stop offset="0.7645" stop-color="#3e28ff"/><stop offset="0.7672" stop-color="#a6a5ff"/><stop offset="0.7700" stop-color="#a8a6ff"/><stop offset="0.7727" stop-color="#9d9bff"/><stop offset="0.7755" stop-color="#9b99ff"/><stop offset="0.7782" stop-color="#a9a7ff"/><stop offset="0.7810" stop-color="#afadfe"/><stop offset="0.7837" stop-color="#9593ff"/><stop offset="0.7865" stop-color="#a4a3ff"/><stop offset="0.7893" stop-color="#9391ff"/><stop offset="0.7920" stop-color="#1f00ff"/><stop offset="0.7948" stop-color="#3e28ff"/><stop offset="0.7975" stop-color="#3f29ff"/><stop offset="0.8003" stop-color="#8582ff"/><stop offset="0.8030" stop-color="#7d78ff"/><stop offset="0.8058" stop-color="#9695ff"/><stop offset="0.8085" stop-color="#695fff"/><stop offset="0.8113" stop-color="#7c76ff"/><stop offset="0.8140" stop-color="#766eff"/><stop offset="0.8168" stop-color="#7b75ff"/><stop offset="0.8196" stop-color="#766fff"/><stop offset="0.8223" stop-color="#7b74ff"/><stop offset="0.8251" stop-color="#9694ff"/><stop offset="0.8278" stop-color="#7c76ff"/><stop offset="0.8306" stop-color="#807bff"/><stop offset="0.8333" stop-color="#827eff"/><stop offset="0.8361" stop-color="#736bff"/><stop offset="0.8388" stop-color="#8783ff"/><stop offset="0.8416" stop-color="#7168ff"/><stop offset="0.8444" stop-color="#8582ff"/><stop offset="0.8471" stop-color="#8c8aff"/><stop offset="0.8499" stop-color="#8c8aff"/><stop offset="0.8526" stop-color="#7770ff"/><stop offset="0.8554" stop-color="#7872ff"/><stop offset="0.8581" stop-color="#7a74ff"/><stop offset="0.8609" stop-color="#918fff"/><stop offset="0.8636" stop-color="#8b89ff"/><stop offset="0.8664" stop-color="#766fff"/><stop offset="0.8691" stop-color="#837fff"/><stop offset="0.8719" stop-color="#7973ff"/><stop offset="0.8747" stop-color="#827dff"/><stop offset="0.8774" stop-color="#8986ff"/><stop offset="0.8802" stop-color="#8682ff"/><stop offset="0.8829" stop-color="#9b99ff"/><stop offset="0.8857" stop-color="#8a87ff"/><stop offset="0.8884" stop-color="#918fff"/><stop offset="0.8912" stop-color="#b0affe"/><stop offset="0.8939" stop-color="#afadfe"/><stop offset="0.8967" stop-color="#b1b0fe"/><stop offset="0.8994" stop-color="#b9b8fe"/><stop offset="0.9022" stop-color="#7a74ff"/><stop offset="0.9050" stop-color="#9593ff"/><stop offset="0.9077" stop-color="#7169ff"/><stop offset="0.9105" stop-color="#8885ff"/><stop offset="0.9132" stop-color="#736bff"/><stop offset="0.9160" stop-color="#766fff"/><stop offset="0.9187" stop-color="#8e8cff"/><stop offset="0.9215" stop-color="#817dff"/><stop offset="0.9242" stop-color="#7f7aff"/><stop offset="0.9270" stop-color="#8986ff"/><stop offset="0.9298" stop-color="#8f8dff"/><stop offset="0.9325" stop-color="#8986ff"/><stop offset="0.9353" stop-color="#9896ff"/><stop offset="0.9380" stop-color="#8c8aff"/><stop offset="0.9408" stop-color="#9795ff"/><stop offset="0.9435" stop-color="#9291ff"/><stop offset="0.9463" stop-color="#8f8dff"/><stop offset="0.9490" stop-color="#8986ff"/><stop offset="0.9518" stop-color="#a5a4ff"/><stop offset="0.9545" stop-color="#8b88ff"/><stop offset="0.9573" stop-color="#726aff"/><stop offset="0.9601" stop-color="#8683ff"/><stop offset="0.9628" stop-color="#766fff"/><stop offset="0.9656" stop-color="#9e9cff"/><stop offset="0.9683" stop-color="#9d9bff"/><stop offset="0.9711" stop-color="#b6b5fe"/><stop offset="0.9738" stop-color="#9f9dff"/><stop offset="0.9766" stop-color="#9b99ff"/><stop offset="0.9793" stop-color="#a19fff"/><stop offset="0.9821" stop-color="#9b99ff"/><stop offset="0.9848" stop-color="#bab9fe"/><stop offset="0.9876" stop-color="#aeadfe"/><stop offset="0.9904" stop-color="#b2b1fe"/><stop offset="0.9931" stop-color="#9b99ff"/><stop offset="0.9959" stop-color="#b2b0fe"/><stop offset="0.9986" stop-color="#b1b0fe"/></linearGradient><rect x="1419.8" y="674.6" width="98.6" height="580.6" fill="url(#h5)"/>
<linearGradient id="h6" x1="0" y1="0" x2="0" y2="1"><stop offset="0.0014" stop-color="#f85d60"/><stop offset="0.0041" stop-color="#f95557"/><stop offset="0.0069" stop-color="#f95152"/><stop offset="0.0096" stop-color="#fb4543"/><stop offset="0.0124" stop-color="#fc3732"/><stop offset="0.0152" stop-color="#fa4948"/><stop offset="0.0179" stop-color="#fe271e"/><stop offset="0.0207" stop-color="#fb4442"/><stop offset="0.0234" stop-color="#f85a5d"/><stop offset="0.0262" stop-color="#fc3a35"/><stop offset="0.0289" stop-color="#fc3833"/><stop offset="0.0317" stop-color="#fb4644"/><stop offset="0.0344" stop-color="#f6686c"/><stop offset="0.0372" stop-color="#f95557"/><stop offset="0.0399" stop-color="#fa4745"/><stop offset="0.0427" stop-color="#f66f73"/><stop offset="0.0455" stop-color="#fa4645"/><stop offset="0.0482" stop-color="#f76165"/><stop offset="0.0510" stop-color="#f85b5e"/><stop offset="0.0537" stop-color="#f76467"/><stop offset="0.0565" stop-color="#f6686b"/><stop offset="0.0592" stop-color="#fb4240"/><stop offset="0.0620" stop-color="#f76164"/><stop offset="0.0647" stop-color="#fa4e4e"/><stop offset="0.0675" stop-color="#fe271e"/><stop offset="0.0702" stop-color="#fe271e"/><stop offset="0.0730" stop-color="#fe271e"/><stop offset="0.0758" stop-color="#fe271e"/><stop offset="0.0785" stop-color="#fe271e"/><stop offset="0.0813" stop-color="#fe271e"/><stop offset="0.0840" stop-color="#fe271e"/><stop offset="0.0868" stop-color="#fe271e"/><stop offset="0.0895" stop-color="#fe271e"/><stop offset="0.0923" stop-color="#fe271e"/><stop offset="0.0950" stop-color="#fe271e"/><stop offset="0.0978" stop-color="#fe271e"/><stop offset="0.1006" stop-color="#fe271e"/><stop offset="0.1033" stop-color="#fe271e"/><stop offset="0.1061" stop-color="#fe271e"/><stop offset="0.1088" stop-color="#fe271e"/><stop offset="0.1116" stop-color="#fe271e"/><stop offset="0.1143" stop-color="#fe271e"/><stop offset="0.1171" stop-color="#fe271e"/><stop offset="0.1198" stop-color="#fe271e"/><stop offset="0.1226" stop-color="#fe271e"/><stop offset="0.1253" stop-color="#fe271e"/><stop offset="0.1281" stop-color="#fe271e"/><stop offset="0.1309" stop-color="#fe271e"/><stop offset="0.1336" stop-color="#fe271e"/><stop offset="0.1364" stop-color="#fe271e"/><stop offset="0.1391" stop-color="#fe271e"/><stop offset="0.1419" stop-color="#fe271e"/><stop offset="0.1446" stop-color="#fe271e"/><stop offset="0.1474" stop-color="#fe271e"/><stop offset="0.1501" stop-color="#fe271e"/><stop offset="0.1529" stop-color="#fe271e"/><stop offset="0.1556" stop-color="#fe271e"/><stop offset="0.1584" stop-color="#fe271e"/><stop offset="0.1612" stop-color="#a6a5ff"/><stop offset="0.1639" stop-color="#bcbbfe"/><stop offset="0.1667" stop-color="#b5b4fe"/><stop offset="0.1694" stop-color="#a09eff"/><stop offset="0.1722" stop-color="#fdfdff"/><stop offset="0.1749" stop-color="#fffefe"/><stop offset="0.1777" stop-color="#f4f4ff"/><stop offset="0.1804" stop-color="#f2a1a6"/><stop offset="0.1832" stop-color="#f19ca2"/><stop offset="0.1860" stop-color="#f2afb4"/><stop offset="0.1887" stop-color="#f19aa0"/><stop offset="0.1915" stop-color="#f1959b"/><stop offset="0.1942" stop-color="#fdf5f6"/><stop offset="0.1970" stop-color="#fcf3f4"/><stop offset="0.1997" stop-color="#fbeaeb"/><stop offset="0.2025" stop-color="#d2d1fe"/><stop offset="0.2052" stop-color="#e1e1fe"/><stop offset="0.2080" stop-color="#f1f1ff"/><stop offset="0.2107" stop-color="#dad9fe"/><stop offset="0.2135" stop-color="#d1d0fe"/><stop offset="0.2163" stop-color="#d6d6fe"/><stop offset="0.2190" stop-color="#dad9fe"/><stop offset="0.2218" stop-color="#cdccfe"/><stop offset="0.2245" stop-color="#dddcfe"/><stop offset="0.2273" stop-color="#e1e1fe"/><stop offset="0.2300" stop-color="#f2a3a9"/><stop offset="0.2328" stop-color="#f3868b"/><stop offset="0.2355" stop-color="#f29298"/><stop offset="0.2383" stop-color="#f1999f"/><stop offset="0.2410" stop-color="#f38388"/><stop offset="0.2438" stop-color="#f57479"/><stop offset="0.2466" stop-color="#f3858a"/><stop offset="0.2493" stop-color="#f1969c"/><stop offset="0.2521" stop-color="#f3858a"/><stop offset="0.2548" stop-color="#f28c92"/><stop offset="0.2576" stop-color="#f47c80"/><stop offset="0.2603" stop-color="#f19ba1"/><stop offset="0.2631" stop-color="#f28e94"/><stop offset="0.2658" stop-color="#f3858a"/><stop offset="0.2686" stop-color="#f29096"/><stop offset="0.2713" stop-color="#f47b7f"/><stop offset="0.2741" stop-color="#fdf4f5"/><stop offset="0.2769" stop-color="#fefcfc"/><stop offset="0.2796" stop-color="#eeedff"/><stop offset="0.2824" stop-color="#fcfcff"/><stop offset="0.2851" stop-color="#f7f7ff"/><stop offset="0.2879" stop-color="#fafaff"/><stop offset="0.2906" stop-color="#e7e6ff"/><stop offset="0.2934" stop-color="#f3b6bb"/><stop offset="0.2961" stop-color="#f5d0d3"/><stop offset="0.2989" stop-color="#f2adb3"/><stop offset="0.3017" stop-color="#f3c2c6"/><stop offset="0.3044" stop-color="#f2a1a7"/><stop offset="0.3072" stop-color="#f3b4b9"/><stop offset="0.3099" stop-color="#f5cfd3"/><stop offset="0.3127" stop-color="#f5cdd1"/><stop offset="0.3154" stop-color="#f3bec2"/><stop offset="0.3182" stop-color="#f5d1d5"/><stop offset="0.3209" stop-color="#f5ced1"/><stop offset="0.3237" stop-color="#f3b8bd"/><stop offset="0.3264" stop-color="#f3c0c5"/><stop offset="0.3292" stop-color="#f6d2d5"/><stop offset="0.3320" stop-color="#f5cfd2"/><stop offset="0.3347" stop-color="#f4cbcf"/><stop offset="0.3375" stop-color="#f6d3d6"/><stop offset="0.3402" stop-color="#f4ccd0"/><stop offset="0.3430" stop-color="#f3b8bd"/><stop offset="0.3457" stop-color="#f3888d"/><stop offset="0.3485" stop-color="#f38388"/><stop offset="0.3512" stop-color="#f19da3"/><stop offset="0.3540" stop-color="#f3888d"/><stop offset="0.3567" stop-color="#f19ca2"/><stop offset="0.3595" stop-color="#f19da3"/><stop offset="0.3623" stop-color="#f2adb2"/><stop offset="0.3650" stop-color="#f3bec2"/><stop offset="0.3678" stop-color="#f4c5c9"/><stop offset="0.3705" stop-color="#f3c1c5"/><stop offset="0.3733" stop-color="#f4c3c8"/><stop offset="0.3760" stop-color="#f5ced1"/><stop offset="0.3788" stop-color="#f3bec3"/><stop offset="0.3815" stop-color="#f1949a"/><stop offset="0.3843" stop-color="#f28c91"/><stop offset="0.3871" stop-color="#f38a90"/><stop offset="0.3898" stop-color="#f3858b"/><stop offset="0.3926" stop-color="#f2a1a6"/><stop offset="0.3953" stop-color="#f28e94"/><stop offset="0.3981" stop-color="#f3858a"/><stop offset="0.4008" stop-color="#f29399"/><stop offset="0.4036" stop-color="#f2a7ac"/><stop offset="0.4063" stop-color="#f1949a"/><stop offset="0.4091" stop-color="#f5767a"/><stop offset="0.4118" stop-color="#f3898e"/><stop offset="0.4146" stop-color="#f47f84"/><stop offset="0.4174" stop-color="#f5777b"/><stop offset="0.4201" stop-color="#f1999f"/><stop offset="0.4229" stop-color="#f1979d"/><stop offset="0.4256" stop-color="#f38388"/><stop offset="0.4284" stop-color="#fc3b37"/><stop offset="0.4311" stop-color="#f94f4f"/><stop offset="0.4339" stop-color="#fc3833"/><stop offset="0.4366" stop-color="#ff2219"/><stop offset="0.4394" stop-color="#f66d70"/><stop offset="0.4421" stop-color="#f7676a"/><stop offset="0.4449" stop-color="#f6696c"/><stop offset="0.4477" stop-color="#f76468"/><stop offset="0.4504" stop-color="#f7676a"/><stop offset="0.4532" stop-color="#f7676b"/><stop offset="0.4559" stop-color="#f47b80"/><stop offset="0.4587" stop-color="#fa4745"/><stop offset="0.4614" stop-color="#fd342f"/><stop offset="0.4642" stop-color="#fc3e3a"/><stop offset="0.4669" stop-color="#fa4a4a"/><stop offset="0.4697" stop-color="#fd2f28"/><stop offset="0.4725" stop-color="#f8585a"/><stop offset="0.4752" stop-color="#f94e4e"/><stop offset="0.4780" stop-color="#fd3029"/><stop offset="0.4807" stop-color="#fd332c"/><stop offset="0.4835" stop-color="#fc3c38"/><stop offset="0.4862" stop-color="#fb4644"/><stop offset="0.4890" stop-color="#fa4e4e"/><stop offset="0.4917" stop-color="#f85a5d"/><stop offset="0.4945" stop-color="#fa4b4b"/><stop offset="0.4972" stop-color="#f5787c"/><stop offset="0.5000" stop-color="#f95050"/><stop offset="0.5028" stop-color="#fc3c38"/><stop offset="0.5055" stop-color="#fa4e4e"/><stop offset="0.5083" stop-color="#f57378"/><stop offset="0.5110" stop-color="#fb423f"/><stop offset="0.5138" stop-color="#f85e62"/><stop offset="0.5165" stop-color="#f76164"/><stop offset="0.5193" stop-color="#fb4441"/><stop offset="0.5220" stop-color="#e6e6ff"/><stop offset="0.5248" stop-color="#ebebff"/><stop offset="0.5275" stop-color="#e5e4ff"/><stop offset="0.5303" stop-color="#d9d8fe"/><stop offset="0.5331" stop-color="#d3d2fe"/><stop offset="0.5358" stop-color="#e0e0fe"/><stop offset="0.5386" stop-color="#8a88ff"/><stop offset="0.5413" stop-color="#8d8bff"/><stop offset="0.5441" stop-color="#9594ff"/><stop offset="0.5468" stop-color="#8f8dff"/><stop offset="0.5496" stop-color="#a4a2ff"/><stop offset="0.5523" stop-color="#9593ff"/><stop offset="0.5551" stop-color="#9997ff"/><stop offset="0.5579" stop-color="#817cff"/><stop offset="0.5606" stop-color="#8783ff"/><stop offset="0.5634" stop-color="#8b88ff"/><stop offset="0.5661" stop-color="#8c8aff"/><stop offset="0.5689" stop-color="#8885ff"/><stop offset="0.5716" stop-color="#837fff"/><stop offset="0.5744" stop-color="#8885ff"/><stop offset="0.5771" stop-color="#9290ff"/><stop offset="0.5799" stop-color="#8480ff"/><stop offset="0.5826" stop-color="#7871ff"/><stop offset="0.5854" stop-color="#7c77ff"/><stop offset="0.5882" stop-color="#8783ff"/><stop offset="0.5909" stop-color="#8582ff"/><stop offset="0.5937" stop-color="#7770ff"/><stop offset="0.5964" stop-color="#8683ff"/><stop offset="0.5992" stop-color="#8c89ff"/><stop offset="0.6019" stop-color="#a5a4ff"/><stop offset="0.6047" stop-color="#9694ff"/><stop offset="0.6074" stop-color="#9b99ff"/><stop offset="0.6102" stop-color="#9492ff"/><stop offset="0.6129" stop-color="#8581ff"/><stop offset="0.6157" stop-color="#bbbafe"/><stop offset="0.6185" stop-color="#b0aefe"/><stop offset="0.6212" stop-color="#9c9aff"/><stop offset="0.6240" stop-color="#adabfe"/><stop offset="0.6267" stop-color="#a9a7ff"/><stop offset="0.6295" stop-color="#9492ff"/><stop offset="0.6322" stop-color="#9d9cff"/><stop offset="0.6350" stop-color="#8a87ff"/><stop offset="0.6377" stop-color="#a19fff"/><stop offset="0.6405" stop-color="#9f9dff"/><stop offset="0.6433" stop-color="#9c9aff"/><stop offset="0.6460" stop-color="#9f9dff"/><stop offset="0.6488" stop-color="#9b99ff"/><stop offset="0.6515" stop-color="#a9a7ff"/><stop offset="0.6543" stop-color="#a2a0ff"/><stop offset="0.6570" stop-color="#402bff"/><stop offset="0.6598" stop-color="#371fff"/><stop offset="0.6625" stop-color="#432eff"/><stop offset="0.6653" stop-color="#3016ff"/><stop offset="0.6680" stop-color="#584bff"/><stop offset="0.6708" stop-color="#685dff"/><stop offset="0.6736" stop-color="#6a60ff"/><stop offset="0.6763" stop-color="#736bff"/><stop offset="0.6791" stop-color="#675dff"/><stop offset="0.6818" stop-color="#8f8dff"/><stop offset="0.6846" stop-color="#8784ff"/><stop offset="0.6873" stop-color="#c0bffe"/><stop offset="0.6901" stop-color="#c2c1fe"/><stop offset="0.6928" stop-color="#d0cffe"/><stop offset="0.6956" stop-color="#c2c1fe"/><stop offset="0.6983" stop-color="#c0bffe"/><stop offset="0.7011" stop-color="#c2c1fe"/><stop offset="0.7039" stop-color="#8d8bff"/><stop offset="0.7066" stop-color="#9f9dff"/><stop offset="0.7094" stop-color="#8d8bff"/><stop offset="0.7121" stop-color="#a9a7ff"/><stop offset="0.7149" stop-color="#8b88ff"/><stop offset="0.7176" stop-color="#abaafe"/><stop offset="0.7204" stop-color="#9a98ff"/><stop offset="0.7231" stop-color="#9896ff"/><stop offset="0.7259" stop-color="#9d9bff"/><stop offset="0.7287" stop-color="#afaefe"/><stop offset="0.7314" stop-color="#9d9bff"/><stop offset="0.7342" stop-color="#a19fff"/><stop offset="0.7369" stop-color="#9d9bff"/><stop offset="0.7397" stop-color="#aeadfe"/><stop offset="0.7424" stop-color="#8581ff"/><stop offset="0.7452" stop-color="#9896ff"/><stop offset="0.7479" stop-color="#9c9bff"/><stop offset="0.7507" stop-color="#a7a6ff"/><stop offset="0.7534" stop-color="#a4a3ff"/><stop offset="0.7562" stop-color="#9d9bff"/><stop offset="0.7590" stop-color="#9795ff"/><stop offset="0.7617" stop-color="#9b99ff"/><stop offset="0.7645" stop-color="#a9a7ff"/><stop offset="0.7672" stop-color="#9b99ff"/><stop offset="0.7700" stop-color="#8784ff"/><stop offset="0.7727" stop-color="#8885ff"/><stop offset="0.7755" stop-color="#827dff"/><stop offset="0.7782" stop-color="#9694ff"/><stop offset="0.7810" stop-color="#8986ff"/><stop offset="0.7837" stop-color="#9392ff"/><stop offset="0.7865" stop-color="#7a74ff"/><stop offset="0.7893" stop-color="#8885ff"/><stop offset="0.7920" stop-color="#e2e2fe"/><stop offset="0.7948" stop-color="#d4d3fe"/><stop offset="0.7975" stop-color="#c6c5fe"/><stop offset="0.8003" stop-color="#8682ff"/><stop offset="0.8030" stop-color="#8f8dff"/><stop offset="0.8058" stop-color="#7e79ff"/><stop offset="0.8085" stop-color="#8a87ff"/><stop offset="0.8113" stop-color="#6a60ff"/><stop offset="0.8140" stop-color="#7e79ff"/><stop offset="0.8168" stop-color="#827dff"/><stop offset="0.8196" stop-color="#9694ff"/><stop offset="0.8223" stop-color="#8e8cff"/><stop offset="0.8251" stop-color="#9492ff"/><stop offset="0.8278" stop-color="#8d8bff"/><stop offset="0.8306" stop-color="#9290ff"/><stop offset="0.8333" stop-color="#7f79ff"/><stop offset="0.8361" stop-color="#807bff"/><stop offset="0.8388" stop-color="#918fff"/><stop offset="0.8416" stop-color="#7c76ff"/><stop offset="0.8444" stop-color="#746dff"/><stop offset="0.8471" stop-color="#8581ff"/><stop offset="0.8499" stop-color="#9897ff"/><stop offset="0.8526" stop-color="#8682ff"/><stop offset="0.8554" stop-color="#7e79ff"/><stop offset="0.8581" stop-color="#908eff"/><stop offset="0.8609" stop-color="#7c77ff"/><stop offset="0.8636" stop-color="#8d8bff"/><stop offset="0.8664" stop-color="#7972ff"/><stop offset="0.8691" stop-color="#6d64ff"/><stop offset="0.8719" stop-color="#8480ff"/><stop offset="0.8747" stop-color="#7169ff"/><stop offset="0.8774" stop-color="#7a73ff"/><stop offset="0.8802" stop-color="#817cff"/><stop offset="0.8829" stop-color="#918fff"/><stop offset="0.8857" stop-color="#8581ff"/><stop offset="0.8884" stop-color="#8c8aff"/><stop offset="0.8912" stop-color="#2507ff"/><stop offset="0.8939" stop-color="#2002ff"/><stop offset="0.8967" stop-color="#1f00ff"/><stop offset="0.8994" stop-color="#2b10ff"/><stop offset="0.9022" stop-color="#6c62ff"/><stop offset="0.9050" stop-color="#675cff"/><stop offset="0.9077" stop-color="#685eff"/><stop offset="0.9105" stop-color="#6d64ff"/><stop offset="0.9132" stop-color="#665bff"/><stop offset="0.9160" stop-color="#736bff"/><stop offset="0.9187" stop-color="#665bff"/><stop offset="0.9215" stop-color="#6357ff"/><stop offset="0.9242" stop-color="#5c4fff"/><stop offset="0.9270" stop-color="#7067ff"/><stop offset="0.9298" stop-color="#4937ff"/><stop offset="0.9325" stop-color="#503fff"/><stop offset="0.9353" stop-color="#3e29ff"/><stop offset="0.9380" stop-color="#7067ff"/><stop offset="0.9408" stop-color="#675cff"/><stop offset="0.9435" stop-color="#5546ff"/><stop offset="0.9463" stop-color="#5547ff"/><stop offset="0.9490" stop-color="#6155ff"/><stop offset="0.9518" stop-color="#6a60ff"/><stop offset="0.9545" stop-color="#5f53ff"/><stop offset="0.9573" stop-color="#685dff"/><stop offset="0.9601" stop-color="#7871ff"/><stop offset="0.9628" stop-color="#6b61ff"/><stop offset="0.9656" stop-color="#5d50ff"/><stop offset="0.9683" stop-color="#4b3aff"/><stop offset="0.9711" stop-color="#6257ff"/><stop offset="0.9738" stop-color="#5140ff"/><stop offset="0.9766" stop-color="#594bff"/><stop offset="0.9793" stop-color="#5445ff"/><stop offset="0.9821" stop-color="#4734ff"/><stop offset="0.9848" stop-color="#4937ff"/><stop offset="0.9876" stop-color="#4d3bff"/><stop offset="0.9904" stop-color="#371fff"/><stop offset="0.9931" stop-color="#5849ff"/><stop offset="0.9959" stop-color="#3922ff"/><stop offset="0.9986" stop-color="#422dff"/></linearGradient><rect x="1518.1" y="674.6" width="98.6" height="580.6" fill="url(#h6)"/>
<linearGradient id="h7" x1="0" y1="0" x2="0" y2="1"><stop offset="0.0014" stop-color="#1f00ff"/><stop offset="0.0041" stop-color="#1f00ff"/><stop offset="0.0069" stop-color="#1f00ff"/><stop offset="0.0096" stop-color="#685eff"/><stop offset="0.0124" stop-color="#5f53ff"/><stop offset="0.0152" stop-color="#7d77ff"/><stop offset="0.0179" stop-color="#8581ff"/><stop offset="0.0207" stop-color="#6459ff"/><stop offset="0.0234" stop-color="#7973ff"/><stop offset="0.0262" stop-color="#655aff"/><stop offset="0.0289" stop-color="#7770ff"/><stop offset="0.0317" stop-color="#6d64ff"/><stop offset="0.0344" stop-color="#675dff"/><stop offset="0.0372" stop-color="#7871ff"/><stop offset="0.0399" stop-color="#6458ff"/><stop offset="0.0427" stop-color="#726aff"/><stop offset="0.0455" stop-color="#7871ff"/><stop offset="0.0482" stop-color="#5e52ff"/><stop offset="0.0510" stop-color="#5647ff"/><stop offset="0.0537" stop-color="#5d51ff"/><stop offset="0.0565" stop-color="#4c3bff"/><stop offset="0.0592" stop-color="#5d51ff"/><stop offset="0.0620" stop-color="#442fff"/><stop offset="0.0647" stop-color="#3b24ff"/><stop offset="0.0675" stop-color="#4531ff"/><stop offset="0.0702" stop-color="#5d50ff"/><stop offset="0.0730" stop-color="#584aff"/><stop offset="0.0758" stop-color="#5546ff"/><stop offset="0.0785" stop-color="#503fff"/><stop offset="0.0813" stop-color="#4e3dff"/><stop offset="0.0840" stop-color="#5647ff"/><stop offset="0.0868" stop-color="#5f53ff"/><stop offset="0.0895" stop-color="#a2a0ff"/><stop offset="0.0923" stop-color="#9492ff"/><stop offset="0.0950" stop-color="#9d9bff"/><stop offset="0.0978" stop-color="#abaafe"/><stop offset="0.1006" stop-color="#a3a2ff"/><stop offset="0.1033" stop-color="#9998ff"/><stop offset="0.1061" stop-color="#abaafe"/><stop offset="0.1088" stop-color="#8b88ff"/><stop offset="0.1116" stop-color="#a5a3ff"/><stop offset="0.1143" stop-color="#9a98ff"/><stop offset="0.1171" stop-color="#a09eff"/><stop offset="0.1198" stop-color="#a2a1ff"/><stop offset="0.1226" stop-color="#a2a0ff"/><stop offset="0.1253" stop-color="#a5a4ff"/><stop offset="0.1281" stop-color="#b4b3fe"/><stop offset="0.1309" stop-color="#7f7aff"/><stop offset="0.1336" stop-color="#9290ff"/><stop offset="0.1364" stop-color="#7e78ff"/><stop offset="0.1391" stop-color="#908eff"/><stop offset="0.1419" stop-color="#a2a1ff"/><stop offset="0.1446" stop-color="#9492ff"/><stop offset="0.1474" stop-color="#8885ff"/><stop offset="0.1501" stop-color="#8f8dff"/><stop offset="0.1529" stop-color="#9997ff"/><stop offset="0.1556" stop-color="#8682ff"/><stop offset="0.1584" stop-color="#9e9dff"/><stop offset="0.1612" stop-color="#f3b5ba"/><stop offset="0.1639" stop-color="#f3b3b8"/><stop offset="0.1667" stop-color="#f3b8bd"/><stop offset="0.1694" stop-color="#f2a9ae"/><stop offset="0.1722" stop-color="#fbfbff"/><stop offset="0.1749" stop-color="#fefbfc"/><stop offset="0.1777" stop-color="#f6f6ff"/><stop offset="0.1804" stop-color="#a9a7ff"/><stop offset="0.1832" stop-color="#a09fff"/><stop offset="0.1860" stop-color="#c8c7fe"/><stop offset="0.1887" stop-color="#c0bffe"/><stop offset="0.1915" stop-color="#b7b6fe"/><stop offset="0.1942" stop-color="#e1e0fe"/><stop offset="0.1970" stop-color="#d6d5fe"/><stop offset="0.1997" stop-color="#d0cffe"/><stop offset="0.2025" stop-color="#afaefe"/><stop offset="0.2052" stop-color="#a1a0ff"/><stop offset="0.2080" stop-color="#9e9cff"/><stop offset="0.2107" stop-color="#8c8aff"/><stop offset="0.2135" stop-color="#a09eff"/><stop offset="0.2163" stop-color="#8783ff"/><stop offset="0.2190" stop-color="#9795ff"/><stop offset="0.2218" stop-color="#8c8aff"/><stop offset="0.2245" stop-color="#a7a5ff"/><stop offset="0.2273" stop-color="#a09eff"/><stop offset="0.2300" stop-color="#361eff"/><stop offset="0.2328" stop-color="#4c3bff"/><stop offset="0.2355" stop-color="#371fff"/><stop offset="0.2383" stop-color="#280cff"/><stop offset="0.2410" stop-color="#4e3dff"/><stop offset="0.2438" stop-color="#1f00ff"/><stop offset="0.2466" stop-color="#2305ff"/><stop offset="0.2493" stop-color="#6054ff"/><stop offset="0.2521" stop-color="#5c4fff"/><stop offset="0.2548" stop-color="#6155ff"/><stop offset="0.2576" stop-color="#6054ff"/><stop offset="0.2603" stop-color="#5b4eff"/><stop offset="0.2631" stop-color="#5749ff"/><stop offset="0.2658" stop-color="#655aff"/><stop offset="0.2686" stop-color="#675cff"/><stop offset="0.2713" stop-color="#5b4eff"/><stop offset="0.2741" stop-color="#766fff"/><stop offset="0.2769" stop-color="#665bff"/><stop offset="0.2796" stop-color="#746dff"/><stop offset="0.2824" stop-color="#5140ff"/><stop offset="0.2851" stop-color="#7067ff"/><stop offset="0.2879" stop-color="#6b61ff"/><stop offset="0.2906" stop-color="#675dff"/><stop offset="0.2934" stop-color="#685eff"/><stop offset="0.2961" stop-color="#726aff"/><stop offset="0.2989" stop-color="#695eff"/><stop offset="0.3017" stop-color="#6e65ff"/><stop offset="0.3044" stop-color="#5647ff"/><stop offset="0.3072" stop-color="#7b75ff"/><stop offset="0.3099" stop-color="#695fff"/><stop offset="0.3127" stop-color="#6b61ff"/><stop offset="0.3154" stop-color="#8480ff"/><stop offset="0.3182" stop-color="#6c63ff"/><stop offset="0.3209" stop-color="#5e51ff"/><stop offset="0.3237" stop-color="#6358ff"/><stop offset="0.3264" stop-color="#6b61ff"/><stop offset="0.3292" stop-color="#5b4eff"/><stop offset="0.3320" stop-color="#695fff"/><stop offset="0.3347" stop-color="#655aff"/><stop offset="0.3375" stop-color="#9694ff"/><stop offset="0.3402" stop-color="#8c89ff"/><stop offset="0.3430" stop-color="#8885ff"/><stop offset="0.3457" stop-color="#827eff"/><stop offset="0.3485" stop-color="#766fff"/><stop offset="0.3512" stop-color="#726aff"/><stop offset="0.3540" stop-color="#8f8eff"/><stop offset="0.3567" stop-color="#7872ff"/><stop offset="0.3595" stop-color="#736bff"/><stop offset="0.3623" stop-color="#8885ff"/><stop offset="0.3650" stop-color="#6a5fff"/><stop offset="0.3678" stop-color="#8b88ff"/><stop offset="0.3705" stop-color="#8e8cff"/><stop offset="0.3733" stop-color="#8e8cff"/><stop offset="0.3760" stop-color="#7c76ff"/><stop offset="0.3788" stop-color="#f7f7ff"/><stop offset="0.3815" stop-color="#e6e6ff"/><stop offset="0.3843" stop-color="#dfdefe"/><stop offset="0.3871" stop-color="#8885ff"/><stop offset="0.3898" stop-color="#7872ff"/><stop offset="0.3926" stop-color="#9a99ff"/><stop offset="0.3953" stop-color="#8986ff"/><stop offset="0.3981" stop-color="#7e79ff"/><stop offset="0.4008" stop-color="#7872ff"/><stop offset="0.4036" stop-color="#7d77ff"/><stop offset="0.4063" stop-color="#7c76ff"/><stop offset="0.4091" stop-color="#6d64ff"/><stop offset="0.4118" stop-color="#7f7aff"/><stop offset="0.4146" stop-color="#8480ff"/><stop offset="0.4174" stop-color="#807bff"/><stop offset="0.4201" stop-color="#7b75ff"/><stop offset="0.4229" stop-color="#817cff"/><stop offset="0.4256" stop-color="#adabfe"/><stop offset="0.4284" stop-color="#cbcafe"/><stop offset="0.4311" stop-color="#bfbefe"/><stop offset="0.4339" stop-color="#aba9fe"/><stop offset="0.4366" stop-color="#cdccfe"/><stop offset="0.4394" stop-color="#abaafe"/><stop offset="0.4421" stop-color="#7e79ff"/><stop offset="0.4449" stop-color="#a5a4ff"/><stop offset="0.4477" stop-color="#908eff"/><stop offset="0.4504" stop-color="#9391ff"/><stop offset="0.4532" stop-color="#9b99ff"/><stop offset="0.4559" stop-color="#8987ff"/><stop offset="0.4587" stop-color="#a6a5ff"/><stop offset="0.4614" stop-color="#756eff"/><stop offset="0.4642" stop-color="#a09eff"/><stop offset="0.4669" stop-color="#9897ff"/><stop offset="0.4697" stop-color="#b6b5fe"/><stop offset="0.4725" stop-color="#a3a1ff"/><stop offset="0.4752" stop-color="#b3b2fe"/><stop offset="0.4780" stop-color="#b3b1fe"/><stop offset="0.4807" stop-color="#b9b8fe"/><stop offset="0.4835" stop-color="#bbbafe"/><stop offset="0.4862" stop-color="#b0aefe"/><stop offset="0.4890" stop-color="#827eff"/><stop offset="0.4917" stop-color="#827eff"/><stop offset="0.4945" stop-color="#7f7aff"/><stop offset="0.4972" stop-color="#8a87ff"/><stop offset="0.5000" stop-color="#6b61ff"/><stop offset="0.5028" stop-color="#8a87ff"/><stop offset="0.5055" stop-color="#8885ff"/><stop offset="0.5083" stop-color="#7b75ff"/><stop offset="0.5110" stop-color="#9f9dff"/><stop offset="0.5138" stop-color="#8c89ff"/><stop offset="0.5165" stop-color="#837eff"/><stop offset="0.5193" stop-color="#9b99ff"/><stop offset="0.5220" stop-color="#cfcefe"/><stop offset="0.5248" stop-color="#d5d4fe"/><stop offset="0.5275" stop-color="#c6c5fe"/><stop offset="0.5303" stop-color="#ddddfe"/><stop offset="0.5331" stop-color="#fefafa"/><stop offset="0.5358" stop-color="#f1f1ff"/><stop offset="0.5386" stop-color="#f2f2ff"/><stop offset="0.5413" stop-color="#fcf1f2"/><stop offset="0.5441" stop-color="#f1f1ff"/><stop offset="0.5468" stop-color="#fdfdff"/><stop offset="0.5496" stop-color="#f3f3ff"/><stop offset="0.5523" stop-color="#fefafb"/><stop offset="0.5551" stop-color="#ffffff"/><stop offset="0.5579" stop-color="#fdf5f6"/><stop offset="0.5606" stop-color="#fffdfd"/><stop offset="0.5634" stop-color="#f7f6ff"/><stop offset="0.5661" stop-color="#fcfbff"/><stop offset="0.5689" stop-color="#fffdfd"/><stop offset="0.5716" stop-color="#f1f1ff"/><stop offset="0.5744" stop-color="#fffefe"/><stop offset="0.5771" stop-color="#fef8f9"/><stop offset="0.5799" stop-color="#f1f0ff"/><stop offset="0.5826" stop-color="#fefbfb"/><stop offset="0.5854" stop-color="#f7dbdd"/><stop offset="0.5882" stop-color="#f9e3e6"/><stop offset="0.5909" stop-color="#f7d6d9"/><stop offset="0.5937" stop-color="#f7d6d9"/><stop offset="0.5964" stop-color="#f7d8db"/><stop offset="0.5992" stop-color="#fbedef"/><stop offset="0.6019" stop-color="#f9e3e5"/><stop offset="0.6047" stop-color="#fae8e9"/><stop offset="0.6074" stop-color="#fbeaec"/><stop offset="0.6102" stop-color="#fef8f9"/><stop offset="0.6129" stop-color="#edecff"/><stop offset="0.6157" stop-color="#fefbfb"/><stop offset="0.6185" stop-color="#c5c4fe"/><stop offset="0.6212" stop-color="#b6b5fe"/><stop offset="0.6240" stop-color="#cccbfe"/><stop offset="0.6267" stop-color="#cecdfe"/><stop offset="0.6295" stop-color="#bbbafe"/><stop offset="0.6322" stop-color="#d1d0fe"/><stop offset="0.6350" stop-color="#dddcfe"/><stop offset="0.6377" stop-color="#aeadfe"/><stop offset="0.6405" stop-color="#dbdafe"/><stop offset="0.6433" stop-color="#c6c5fe"/><stop offset="0.6460" stop-color="#cccbfe"/><stop offset="0.6488" stop-color="#cdccfe"/><stop offset="0.6515" stop-color="#cac9fe"/><stop offset="0.6543" stop-color="#d7d6fe"/><stop offset="0.6570" stop-color="#fe271e"/><stop offset="0.6598" stop-color="#fe2c25"/><stop offset="0.6625" stop-color="#fd352f"/><stop offset="0.6653" stop-color="#fd322c"/><stop offset="0.6680" stop-color="#fb4240"/><stop offset="0.6708" stop-color="#fb413f"/><stop offset="0.6736" stop-color="#fd2f28"/><stop offset="0.6763" stop-color="#fc3834"/><stop offset="0.6791" stop-color="#fd342f"/><stop offset="0.6818" stop-color="#fe281f"/><stop offset="0.6846" stop-color="#fe281f"/><stop offset="0.6873" stop-color="#fe2c24"/><stop offset="0.6901" stop-color="#fc3a36"/><stop offset="0.6928" stop-color="#fe271e"/><stop offset="0.6956" stop-color="#fe271e"/><stop offset="0.6983" stop-color="#fb3e3b"/><stop offset="0.7011" stop-color="#fd2f28"/><stop offset="0.7039" stop-color="#fc3b37"/><stop offset="0.7066" stop-color="#fc3d3a"/><stop offset="0.7094" stop-color="#fd332c"/><stop offset="0.7121" stop-color="#fc3d3a"/><stop offset="0.7149" stop-color="#fb4543"/><stop offset="0.7176" stop-color="#fe2d25"/><stop offset="0.7204" stop-color="#ff2218"/><stop offset="0.7231" stop-color="#ff2219"/><stop offset="0.7259" stop-color="#fb4341"/><stop offset="0.7287" stop-color="#f85a5c"/><stop offset="0.7314" stop-color="#f85b5f"/><stop offset="0.7342" stop-color="#f85c5f"/><stop offset="0.7369" stop-color="#fb4240"/><stop offset="0.7397" stop-color="#f95354"/><stop offset="0.7424" stop-color="#f95253"/><stop offset="0.7452" stop-color="#fa4b4b"/><stop offset="0.7479" stop-color="#f94e4e"/><stop offset="0.7507" stop-color="#fb4442"/><stop offset="0.7534" stop-color="#f94f4f"/><stop offset="0.7562" stop-color="#f95050"/><stop offset="0.7590" stop-color="#f8585b"/><stop offset="0.7617" stop-color="#fc3d39"/><stop offset="0.7645" stop-color="#fa4d4d"/><stop offset="0.7672" stop-color="#ff2218"/><stop offset="0.7700" stop-color="#ff2218"/><stop offset="0.7727" stop-color="#ff2218"/><stop offset="0.7755" stop-color="#ff2218"/><stop offset="0.7782" stop-color="#ff2218"/><stop offset="0.7810" stop-color="#ff2218"/><stop offset="0.7837" stop-color="#ff2218"/><stop offset="0.7865" stop-color="#ff2218"/><stop offset="0.7893" stop-color="#ff2218"/><stop offset="0.7920" stop-color="#f1979d"/><stop offset="0.7948" stop-color="#f28d92"/><stop offset="0.7975" stop-color="#f29298"/><stop offset="0.8003" stop-color="#f1979d"/><stop offset="0.8030" stop-color="#f5777b"/><stop offset="0.8058" stop-color="#f3858a"/><stop offset="0.8085" stop-color="#f57479"/><stop offset="0.8113" stop-color="#f38489"/><stop offset="0.8140" stop-color="#f3858a"/><stop offset="0.8168" stop-color="#f19da3"/><stop offset="0.8196" stop-color="#f5787c"/><stop offset="0.8223" stop-color="#f3888d"/><stop offset="0.8251" stop-color="#f29298"/><stop offset="0.8278" stop-color="#f47c81"/><stop offset="0.8306" stop-color="#f3858a"/><stop offset="0.8333" stop-color="#f28d92"/><stop offset="0.8361" stop-color="#f29095"/><stop offset="0.8388" stop-color="#f3898f"/><stop offset="0.8416" stop-color="#f38a90"/><stop offset="0.8444" stop-color="#f47f84"/><stop offset="0.8471" stop-color="#f3bbc0"/><stop offset="0.8499" stop-color="#f3babf"/><stop offset="0.8526" stop-color="#f1a0a5"/><stop offset="0.8554" stop-color="#f3bbc0"/><stop offset="0.8581" stop-color="#f3b7bc"/><stop offset="0.8609" stop-color="#f3b4b9"/><stop offset="0.8636" stop-color="#f3b6bb"/><stop offset="0.8664" stop-color="#f2a2a8"/><stop offset="0.8691" stop-color="#f3b8bd"/><stop offset="0.8719" stop-color="#f2b0b5"/><stop offset="0.8747" stop-color="#f3b8bc"/><stop offset="0.8774" stop-color="#f2b0b6"/><stop offset="0.8802" stop-color="#f4c5c9"/><stop offset="0.8829" stop-color="#f4c3c8"/><stop offset="0.8857" stop-color="#f4c2c7"/><stop offset="0.8884" stop-color="#f3b9bd"/><stop offset="0.8912" stop-color="#fd332d"/><stop offset="0.8939" stop-color="#fb3f3c"/><stop offset="0.8967" stop-color="#fb4544"/><stop offset="0.8994" stop-color="#fb403d"/><stop offset="0.9022" stop-color="#fc3a35"/><stop offset="0.9050" stop-color="#f95051"/><stop offset="0.9077" stop-color="#fb4644"/><stop offset="0.9105" stop-color="#fd342e"/><stop offset="0.9132" stop-color="#f85658"/><stop offset="0.9160" stop-color="#f48085"/><stop offset="0.9187" stop-color="#f6696d"/><stop offset="0.9215" stop-color="#f85a5d"/><stop offset="0.9242" stop-color="#f85759"/><stop offset="0.9270" stop-color="#f5757a"/><stop offset="0.9298" stop-color="#f47b80"/><stop offset="0.9325" stop-color="#f47a7e"/><stop offset="0.9353" stop-color="#f3858a"/><stop offset="0.9380" stop-color="#f29398"/><stop offset="0.9408" stop-color="#f57276"/><stop offset="0.9435" stop-color="#f57276"/><stop offset="0.9463" stop-color="#f6696d"/><stop offset="0.9490" stop-color="#f66d71"/><stop offset="0.9518" stop-color="#f66e72"/><stop offset="0.9545" stop-color="#f6696d"/><stop offset="0.9573" stop-color="#f3898f"/><stop offset="0.9601" stop-color="#f5777c"/><stop offset="0.9628" stop-color="#f85e62"/><stop offset="0.9656" stop-color="#f1959b"/><stop offset="0.9683" stop-color="#f28f95"/><stop offset="0.9711" stop-color="#f2abb0"/><stop offset="0.9738" stop-color="#f2a8ae"/><stop offset="0.9766" stop-color="#f2abb0"/><stop offset="0.9793" stop-color="#f3bcc0"/><stop offset="0.9821" stop-color="#f1959a"/><stop offset="0.9848" stop-color="#f19da2"/><stop offset="0.9876" stop-color="#f19ca2"/><stop offset="0.9904" stop-color="#f2a6ab"/><stop offset="0.9931" stop-color="#f19ba1"/><stop offset="0.9959" stop-color="#f2a4a9"/><stop offset="0.9986" stop-color="#f2aeb3"/></linearGradient><rect x="1616.4" y="674.6" width="98.6" height="580.6" fill="url(#h7)"/>
<linearGradient id="h8" x1="0" y1="0" x2="0" y2="1"><stop offset="0.0014" stop-color="#bcbbfe"/><stop offset="0.0041" stop-color="#b0affe"/><stop offset="0.0069" stop-color="#b1b0fe"/><stop offset="0.0096" stop-color="#9b99ff"/><stop offset="0.0124" stop-color="#b6b5fe"/><stop offset="0.0152" stop-color="#9f9eff"/><stop offset="0.0179" stop-color="#aba9fe"/><stop offset="0.0207" stop-color="#a7a6ff"/><stop offset="0.0234" stop-color="#8784ff"/><stop offset="0.0262" stop-color="#7d78ff"/><stop offset="0.0289" stop-color="#817cff"/><stop offset="0.0317" stop-color="#9492ff"/><stop offset="0.0344" stop-color="#908eff"/><stop offset="0.0372" stop-color="#837eff"/><stop offset="0.0399" stop-color="#756eff"/><stop offset="0.0427" stop-color="#8784ff"/><stop offset="0.0455" stop-color="#837fff"/><stop offset="0.0482" stop-color="#8e8cff"/><stop offset="0.0510" stop-color="#9391ff"/><stop offset="0.0537" stop-color="#b3b1fe"/><stop offset="0.0565" stop-color="#aaa8ff"/><stop offset="0.0592" stop-color="#9897ff"/><stop offset="0.0620" stop-color="#a3a1ff"/><stop offset="0.0647" stop-color="#a6a4ff"/><stop offset="0.0675" stop-color="#fdf7f7"/><stop offset="0.0702" stop-color="#fbedef"/><stop offset="0.0730" stop-color="#fbecee"/><stop offset="0.0758" stop-color="#cac9fe"/><stop offset="0.0785" stop-color="#e6e6ff"/><stop offset="0.0813" stop-color="#e1e1fe"/><stop offset="0.0840" stop-color="#deddfe"/><stop offset="0.0868" stop-color="#c6c5fe"/><stop offset="0.0895" stop-color="#8c8aff"/><stop offset="0.0923" stop-color="#817cff"/><stop offset="0.0950" stop-color="#8682ff"/><stop offset="0.0978" stop-color="#8a87ff"/><stop offset="0.1006" stop-color="#9795ff"/><stop offset="0.1033" stop-color="#918fff"/><stop offset="0.1061" stop-color="#4937ff"/><stop offset="0.1088" stop-color="#7067ff"/><stop offset="0.1116" stop-color="#6256ff"/><stop offset="0.1143" stop-color="#6e65ff"/><stop offset="0.1171" stop-color="#675dff"/><stop offset="0.1198" stop-color="#7068ff"/><stop offset="0.1226" stop-color="#726aff"/><stop offset="0.1253" stop-color="#7e78ff"/><stop offset="0.1281" stop-color="#736bff"/><stop offset="0.1309" stop-color="#8c8aff"/><stop offset="0.1336" stop-color="#908eff"/><stop offset="0.1364" stop-color="#9795ff"/><stop offset="0.1391" stop-color="#9d9bff"/><stop offset="0.1419" stop-color="#9997ff"/><stop offset="0.1446" stop-color="#8682ff"/><stop offset="0.1474" stop-color="#7e79ff"/><stop offset="0.1501" stop-color="#9998ff"/><stop offset="0.1529" stop-color="#908eff"/><stop offset="0.1556" stop-color="#9997ff"/><stop offset="0.1584" stop-color="#8783ff"/><stop offset="0.1612" stop-color="#3820ff"/><stop offset="0.1639" stop-color="#341bff"/><stop offset="0.1667" stop-color="#4633ff"/><stop offset="0.1694" stop-color="#2a0eff"/><stop offset="0.1722" stop-color="#3b24ff"/><stop offset="0.1749" stop-color="#290dff"/><stop offset="0.1777" stop-color="#4c3bff"/><stop offset="0.1804" stop-color="#3218ff"/><stop offset="0.1832" stop-color="#3d28ff"/><stop offset="0.1860" stop-color="#5b4eff"/><stop offset="0.1887" stop-color="#675dff"/><stop offset="0.1915" stop-color="#5a4dff"/><stop offset="0.1942" stop-color="#5647ff"/><stop offset="0.1970" stop-color="#584aff"/><stop offset="0.1997" stop-color="#6358ff"/><stop offset="0.2025" stop-color="#a1a0ff"/><stop offset="0.2052" stop-color="#b2b1fe"/><stop offset="0.2080" stop-color="#9f9eff"/><stop offset="0.2107" stop-color="#a3a2ff"/><stop offset="0.2135" stop-color="#9290ff"/><stop offset="0.2163" stop-color="#a3a1ff"/><stop offset="0.2190" stop-color="#918fff"/><stop offset="0.2218" stop-color="#8b88ff"/><stop offset="0.2245" stop-color="#8d8bff"/><stop offset="0.2273" stop-color="#807bff"/><stop offset="0.2300" stop-color="#8682ff"/><stop offset="0.2328" stop-color="#afadfe"/><stop offset="0.2355" stop-color="#908eff"/><stop offset="0.2383" stop-color="#9c9aff"/><stop offset="0.2410" stop-color="#7d77ff"/><stop offset="0.2438" stop-color="#8c8aff"/><stop offset="0.2466" stop-color="#9a99ff"/><stop offset="0.2493" stop-color="#9593ff"/><stop offset="0.2521" stop-color="#9a98ff"/><stop offset="0.2548" stop-color="#8682ff"/><stop offset="0.2576" stop-color="#a4a2ff"/><stop offset="0.2603" stop-color="#807bff"/><stop offset="0.2631" stop-color="#7f7aff"/><stop offset="0.2658" stop-color="#918fff"/><stop offset="0.2686" stop-color="#918fff"/><stop offset="0.2713" stop-color="#9290ff"/><stop offset="0.2741" stop-color="#7771ff"/><stop offset="0.2769" stop-color="#8b88ff"/><stop offset="0.2796" stop-color="#9795ff"/><stop offset="0.2824" stop-color="#847fff"/><stop offset="0.2851" stop-color="#9290ff"/><stop offset="0.2879" stop-color="#9f9eff"/><stop offset="0.2906" stop-color="#7a74ff"/><stop offset="0.2934" stop-color="#8481ff"/><stop offset="0.2961" stop-color="#9795ff"/><stop offset="0.2989" stop-color="#acabfe"/><stop offset="0.3017" stop-color="#9896ff"/><stop offset="0.3044" stop-color="#aba9fe"/><stop offset="0.3072" stop-color="#8c8aff"/><stop offset="0.3099" stop-color="#8783ff"/><stop offset="0.3127" stop-color="#9a98ff"/><stop offset="0.3154" stop-color="#8c8aff"/><stop offset="0.3182" stop-color="#afaefe"/><stop offset="0.3209" stop-color="#9d9bff"/><stop offset="0.3237" stop-color="#908eff"/><stop offset="0.3264" stop-color="#9b9aff"/><stop offset="0.3292" stop-color="#9a98ff"/><stop offset="0.3320" stop-color="#a2a0ff"/><stop offset="0.3347" stop-color="#a09fff"/><stop offset="0.3375" stop-color="#817cff"/><stop offset="0.3402" stop-color="#8f8dff"/><stop offset="0.3430" stop-color="#8480ff"/><stop offset="0.3457" stop-color="#a2a1ff"/><stop offset="0.3485" stop-color="#8a88ff"/><stop offset="0.3512" stop-color="#837eff"/><stop offset="0.3540" stop-color="#8c8aff"/><stop offset="0.3567" stop-color="#9694ff"/><stop offset="0.3595" stop-color="#7d77ff"/><stop offset="0.3623" stop-color="#8d8bff"/><stop offset="0.3650" stop-color="#9290ff"/><stop offset="0.3678" stop-color="#9593ff"/><stop offset="0.3705" stop-color="#a4a2ff"/><stop offset="0.3733" stop-color="#a4a3ff"/><stop offset="0.3760" stop-color="#9c9bff"/><stop offset="0.3788" stop-color="#1f00ff"/><stop offset="0.3815" stop-color="#1f00ff"/><stop offset="0.3843" stop-color="#1f00ff"/><stop offset="0.3871" stop-color="#7b75ff"/><stop offset="0.3898" stop-color="#807bff"/><stop offset="0.3926" stop-color="#8d8bff"/><stop offset="0.3953" stop-color="#6c63ff"/><stop offset="0.3981" stop-color="#7a73ff"/><stop offset="0.4008" stop-color="#7a73ff"/><stop offset="0.4036" stop-color="#918fff"/><stop offset="0.4063" stop-color="#807bff"/><stop offset="0.4091" stop-color="#817cff"/><stop offset="0.4118" stop-color="#7c77ff"/><stop offset="0.4146" stop-color="#817cff"/><stop offset="0.4174" stop-color="#8480ff"/><stop offset="0.4201" stop-color="#7a73ff"/><stop offset="0.4229" stop-color="#6e65ff"/><stop offset="0.4256" stop-color="#4c3aff"/><stop offset="0.4284" stop-color="#4835ff"/><stop offset="0.4311" stop-color="#5546ff"/><stop offset="0.4339" stop-color="#5f53ff"/><stop offset="0.4366" stop-color="#5040ff"/><stop offset="0.4394" stop-color="#3c26ff"/><stop offset="0.4421" stop-color="#4c3bff"/><stop offset="0.4449" stop-color="#4a38ff"/><stop offset="0.4477" stop-color="#5d50ff"/><stop offset="0.4504" stop-color="#4c3bff"/><stop offset="0.4532" stop-color="#5e51ff"/><stop offset="0.4559" stop-color="#5445ff"/><stop offset="0.4587" stop-color="#4c3aff"/><stop offset="0.4614" stop-color="#5141ff"/><stop offset="0.4642" stop-color="#3c26ff"/><stop offset="0.4669" stop-color="#4c3aff"/><stop offset="0.4697" stop-color="#5e51ff"/><stop offset="0.4725" stop-color="#4a38ff"/><stop offset="0.4752" stop-color="#4f3eff"/><stop offset="0.4780" stop-color="#4937ff"/><stop offset="0.4807" stop-color="#4b39ff"/><stop offset="0.4835" stop-color="#422dff"/><stop offset="0.4862" stop-color="#4d3bff"/><stop offset="0.4890" stop-color="#8480ff"/><stop offset="0.4917" stop-color="#6e65ff"/><stop offset="0.4945" stop-color="#7068ff"/><stop offset="0.4972" stop-color="#6f66ff"/><stop offset="0.5000" stop-color="#7068ff"/><stop offset="0.5028" stop-color="#6e66ff"/><stop offset="0.5055" stop-color="#6e65ff"/><stop offset="0.5083" stop-color="#7871ff"/><stop offset="0.5110" stop-color="#6459ff"/><stop offset="0.5138" stop-color="#6054ff"/><stop offset="0.5165" stop-color="#695fff"/><stop offset="0.5193" stop-color="#6f66ff"/><stop offset="0.5220" stop-color="#ff2218"/><stop offset="0.5248" stop-color="#ff2218"/><stop offset="0.5275" stop-color="#ff2218"/><stop offset="0.5303" stop-color="#ff2218"/><stop offset="0.5331" stop-color="#ff2218"/><stop offset="0.5358" stop-color="#ff2218"/><stop offset="0.5386" stop-color="#ff2218"/><stop offset="0.5413" stop-color="#ff2218"/><stop offset="0.5441" stop-color="#ff2218"/><stop offset="0.5468" stop-color="#ff2218"/><stop offset="0.5496" stop-color="#ff2218"/><stop offset="0.5523" stop-color="#ff2218"/><stop offset="0.5551" stop-color="#ff2218"/><stop offset="0.5579" stop-color="#ff2218"/><stop offset="0.5606" stop-color="#ff2218"/><stop offset="0.5634" stop-color="#ff2218"/><stop offset="0.5661" stop-color="#ff2218"/><stop offset="0.5689" stop-color="#ff2218"/><stop offset="0.5716" stop-color="#ff2218"/><stop offset="0.5744" stop-color="#ff2218"/><stop offset="0.5771" stop-color="#ff2218"/><stop offset="0.5799" stop-color="#ff2218"/><stop offset="0.5826" stop-color="#ff2218"/><stop offset="0.5854" stop-color="#ff2218"/><stop offset="0.5882" stop-color="#ff2218"/><stop offset="0.5909" stop-color="#ff2218"/><stop offset="0.5937" stop-color="#ff2218"/><stop offset="0.5964" stop-color="#ff2218"/><stop offset="0.5992" stop-color="#ff2218"/><stop offset="0.6019" stop-color="#ff2218"/><stop offset="0.6047" stop-color="#ff2218"/><stop offset="0.6074" stop-color="#ff2218"/><stop offset="0.6102" stop-color="#ff2218"/><stop offset="0.6129" stop-color="#ff2218"/><stop offset="0.6157" stop-color="#ff2218"/><stop offset="0.6185" stop-color="#ff2218"/><stop offset="0.6212" stop-color="#ff2218"/><stop offset="0.6240" stop-color="#ff2218"/><stop offset="0.6267" stop-color="#ff2218"/><stop offset="0.6295" stop-color="#ff2218"/><stop offset="0.6322" stop-color="#ff2218"/><stop offset="0.6350" stop-color="#ff2218"/><stop offset="0.6377" stop-color="#ff2218"/><stop offset="0.6405" stop-color="#ff2218"/><stop offset="0.6433" stop-color="#ff2218"/><stop offset="0.6460" stop-color="#ff2218"/><stop offset="0.6488" stop-color="#ff2218"/><stop offset="0.6515" stop-color="#ff2218"/><stop offset="0.6543" stop-color="#ff2218"/><stop offset="0.6570" stop-color="#f4f3ff"/><stop offset="0.6598" stop-color="#f1f0ff"/><stop offset="0.6625" stop-color="#fefafa"/><stop offset="0.6653" stop-color="#e5e5ff"/><stop offset="0.6680" stop-color="#b1b0fe"/><stop offset="0.6708" stop-color="#aeacfe"/><stop offset="0.6736" stop-color="#adacfe"/><stop offset="0.6763" stop-color="#a5a4ff"/><stop offset="0.6791" stop-color="#bab9fe"/><stop offset="0.6818" stop-color="#cecdfe"/><stop offset="0.6846" stop-color="#dbdafe"/><stop offset="0.6873" stop-color="#d1d1fe"/><stop offset="0.6901" stop-color="#f3b5ba"/><stop offset="0.6928" stop-color="#f4c7cb"/><stop offset="0.6956" stop-color="#f3bcc1"/><stop offset="0.6983" stop-color="#f3bcc1"/><stop offset="0.7011" stop-color="#f5ced2"/><stop offset="0.7039" stop-color="#f6d2d6"/><stop offset="0.7066" stop-color="#f4c5c9"/><stop offset="0.7094" stop-color="#f4c5c9"/><stop offset="0.7121" stop-color="#f6d5d8"/><stop offset="0.7149" stop-color="#f4ccd0"/><stop offset="0.7176" stop-color="#f6d2d6"/><stop offset="0.7204" stop-color="#f5d1d5"/><stop offset="0.7231" stop-color="#f6d5d8"/><stop offset="0.7259" stop-color="#f1959a"/><stop offset="0.7287" stop-color="#f29096"/><stop offset="0.7314" stop-color="#f19da3"/><stop offset="0.7342" stop-color="#f2a2a8"/><stop offset="0.7369" stop-color="#f3888d"/><stop offset="0.7397" stop-color="#f2abb1"/><stop offset="0.7424" stop-color="#f2a5ab"/><stop offset="0.7452" stop-color="#f2a5ab"/><stop offset="0.7479" stop-color="#f2acb1"/><stop offset="0.7507" stop-color="#f2a3a8"/><stop offset="0.7534" stop-color="#f2a4aa"/><stop offset="0.7562" stop-color="#f3b5ba"/><stop offset="0.7590" stop-color="#f2adb2"/><stop offset="0.7617" stop-color="#f2aab0"/><stop offset="0.7645" stop-color="#f3c0c5"/><stop offset="0.7672" stop-color="#fef8f9"/><stop offset="0.7700" stop-color="#fbedef"/><stop offset="0.7727" stop-color="#fbedee"/><stop offset="0.7755" stop-color="#fdf6f6"/><stop offset="0.7782" stop-color="#fae7e8"/><stop offset="0.7810" stop-color="#fdf8f8"/><stop offset="0.7837" stop-color="#fdf6f6"/><stop offset="0.7865" stop-color="#fafaff"/><stop offset="0.7893" stop-color="#fbedee"/><stop offset="0.7920" stop-color="#f76266"/><stop offset="0.7948" stop-color="#f66b6f"/><stop offset="0.7975" stop-color="#f75f63"/><stop offset="0.8003" stop-color="#f95354"/><stop offset="0.8030" stop-color="#f76367"/><stop offset="0.8058" stop-color="#f95355"/><stop offset="0.8085" stop-color="#f76367"/><stop offset="0.8113" stop-color="#f57377"/><stop offset="0.8140" stop-color="#f66d71"/><stop offset="0.8168" stop-color="#f85759"/><stop offset="0.8196" stop-color="#f57377"/><stop offset="0.8223" stop-color="#fa4d4d"/><stop offset="0.8251" stop-color="#f67074"/><stop offset="0.8278" stop-color="#f8595c"/><stop offset="0.8306" stop-color="#f95051"/><stop offset="0.8333" stop-color="#f85a5d"/><stop offset="0.8361" stop-color="#f6696d"/><stop offset="0.8388" stop-color="#f6696d"/><stop offset="0.8416" stop-color="#f66d70"/><stop offset="0.8444" stop-color="#f95254"/><stop offset="0.8471" stop-color="#ff2319"/><stop offset="0.8499" stop-color="#fe261d"/><stop offset="0.8526" stop-color="#fe281f"/><stop offset="0.8554" stop-color="#fe2a22"/><stop offset="0.8581" stop-color="#fd322c"/><stop offset="0.8609" stop-color="#fc3a35"/><stop offset="0.8636" stop-color="#fc3631"/><stop offset="0.8664" stop-color="#fd342e"/><stop offset="0.8691" stop-color="#fd352f"/><stop offset="0.8719" stop-color="#fa4948"/><stop offset="0.8747" stop-color="#fd312b"/><stop offset="0.8774" stop-color="#fc3631"/><stop offset="0.8802" stop-color="#fd332d"/><stop offset="0.8829" stop-color="#fc3935"/><stop offset="0.8857" stop-color="#fd342e"/><stop offset="0.8884" stop-color="#fd342e"/><stop offset="0.8912" stop-color="#f3b2b7"/><stop offset="0.8939" stop-color="#f2b1b6"/><stop offset="0.8967" stop-color="#f19ca2"/><stop offset="0.8994" stop-color="#f2a8ae"/><stop offset="0.9022" stop-color="#f2aaaf"/><stop offset="0.9050" stop-color="#f2a5aa"/><stop offset="0.9077" stop-color="#f3b4b9"/><stop offset="0.9105" stop-color="#f2b0b5"/><stop offset="0.9132" stop-color="#f1a0a5"/><stop offset="0.9160" stop-color="#f3898e"/><stop offset="0.9187" stop-color="#f47d82"/><stop offset="0.9215" stop-color="#f3848a"/><stop offset="0.9242" stop-color="#f48186"/><stop offset="0.9270" stop-color="#f48085"/><stop offset="0.9298" stop-color="#f3898e"/><stop offset="0.9325" stop-color="#f29298"/><stop offset="0.9353" stop-color="#f47e83"/><stop offset="0.9380" stop-color="#f38a90"/><stop offset="0.9408" stop-color="#f28e93"/><stop offset="0.9435" stop-color="#f3888e"/><stop offset="0.9463" stop-color="#f19aa0"/><stop offset="0.9490" stop-color="#f3888d"/><stop offset="0.9518" stop-color="#f19ca1"/><stop offset="0.9545" stop-color="#f1979d"/><stop offset="0.9573" stop-color="#f28f95"/><stop offset="0.9601" stop-color="#f28e93"/><stop offset="0.9628" stop-color="#f1999f"/><stop offset="0.9656" stop-color="#f1999f"/><stop offset="0.9683" stop-color="#f1969c"/><stop offset="0.9711" stop-color="#f2a2a8"/><stop offset="0.9738" stop-color="#fd352f"/><stop offset="0.9766" stop-color="#fb4543"/><stop offset="0.9793" stop-color="#fc3e3a"/><stop offset="0.9821" stop-color="#fa4846"/><stop offset="0.9848" stop-color="#fc3c38"/><stop offset="0.9876" stop-color="#fd322c"/><stop offset="0.9904" stop-color="#ff2218"/><stop offset="0.9931" stop-color="#fc3d39"/><stop offset="0.9959" stop-color="#fd342e"/><stop offset="0.9986" stop-color="#fb413f"/></linearGradient><rect x="1714.7" y="674.6" width="98.3" height="580.6" fill="url(#h8)"/>
<path d="M859.0 676.3H850.3V678.0H859.0M850.3 677.1H845.4V679.7H859.0M859.0 683.5H849.8V685.2H859.0M859.0 681.5H844.8V684.4H849.8M845.4 678.4H836.8V682.9H844.8M859.0 686.4H856.8V687.8H859.0M856.8 687.1H855.3V689.6H859.0M859.0 691.6H853.6V693.6H859.0M853.6 692.6H851.5V695.5H859.0M855.3 688.4H850.0V694.1H851.5M859.0 700.6H856.1V702.1H859.0M859.0 699.2H853.5V701.3H856.1M859.0 697.5H850.8V700.3H853.5M850.0 691.2H839.6V698.9H850.8M859.0 703.7H854.3V705.1H859.0M859.0 706.6H854.7V708.2H859.0M854.3 704.4H852.4V707.4H854.7M859.0 709.5H857.2V710.9H859.0M857.2 710.2H855.7V712.5H859.0M855.7 711.4H854.2V714.3H859.0M859.0 716.1H857.1V717.5H859.0M859.0 718.9H857.7V720.2H859.0M857.7 719.5H856.2V721.3H859.0M857.1 716.8H854.3V720.4H856.2M854.2 712.8H849.5V718.6H854.3M852.4 705.9H846.0V715.7H849.5M859.0 723.1H856.2V725.3H859.0M859.0 727.3H857.8V728.9H859.0M859.0 730.4H857.7V732.4H859.0M857.8 728.1H856.2V731.4H857.7M856.2 724.2H854.7V729.8H856.2M859.0 734.3H856.6V735.8H859.0M859.0 737.0H857.2V738.9H859.0M856.6 735.1H855.1V738.0H857.2M854.7 727.0H849.0V736.5H855.1M859.0 742.3H858.0V743.7H859.0M859.0 740.9H858.0V743.0H858.0M859.0 746.6H858.0V748.0H859.0M859.0 745.4H858.0V747.3H858.0M858.0 741.9H856.7V746.3H858.0M859.0 749.6H858.0V751.5H859.0M858.0 750.6H856.9V753.4H859.0M856.7 744.1H854.5V752.0H856.9M859.0 759.2H858.0V760.6H859.0M859.0 757.5H857.0V759.9H858.0M859.0 755.5H855.5V758.7H857.0M859.0 761.9H856.6V763.8H859.0M855.5 757.1H854.0V762.9H856.6M859.0 768.0H858.0V769.7H859.0M859.0 766.1H856.5V768.9H858.0M859.0 773.1H858.0V774.3H859.0M859.0 771.4H858.0V773.7H858.0M859.0 775.5H858.0V777.3H859.0M858.0 772.6H857.7V776.4H858.0M859.0 779.5H857.8V781.3H859.0M857.7 774.5H856.2V780.4H857.8M856.5 767.5H854.5V777.4H856.2M854.0 760.0H849.2V772.5H854.5M854.5 748.1H847.0V766.2H849.2M849.0 731.7H844.2V757.1H847.0M846.0 710.8H837.5V744.4H844.2M839.6 695.0H829.0V727.6H837.5M836.8 680.7H821.3V711.3H829.0M859.0 782.5H853.7V783.8H859.0M853.7 783.2H849.9V785.9H859.0M849.9 784.5H848.0V788.2H859.0M859.0 790.1H854.8V791.4H859.0M854.8 790.8H851.4V792.4H859.0M848.0 786.4H837.9V791.6H851.4M859.0 793.6H852.6V795.2H859.0M859.0 796.7H850.8V798.1H859.0M852.6 794.4H846.8V797.4H850.8M859.0 799.9H855.4V801.2H859.0M855.4 800.5H852.0V802.7H859.0M859.0 805.7H856.5V807.2H859.0M859.0 804.4H854.6V806.5H856.5M852.0 801.6H849.7V805.4H854.6M846.8 795.9H841.0V803.5H849.7M859.0 808.5H854.8V810.0H859.0M859.0 812.1H855.1V813.9H859.0M854.8 809.2H852.0V813.0H855.1M859.0 816.7H856.9V818.1H859.0M859.0 815.1H854.2V817.4H856.9M859.0 819.2H855.9V820.4H859.0M855.9 819.8H852.2V821.5H859.0M854.2 816.3H848.7V820.7H852.2M859.0 822.7H856.8V823.9H859.0M856.8 823.3H854.4V825.1H859.0M859.0 826.4H853.6V827.6H859.0M854.4 824.2H850.7V827.0H853.6M848.7 818.5H844.3V825.6H850.7M852.0 811.1H842.0V822.0H844.3M841.0 799.7H832.6V816.6H842.0M859.0 828.7H856.0V830.1H859.0M856.0 829.4H854.5V831.6H859.0M859.0 833.4H855.5V835.1H859.0M855.5 834.2H853.8V836.9H859.0M854.5 830.5H852.0V835.6H853.8M859.0 838.5H856.2V840.1H859.0M859.0 842.2H856.2V843.6H859.0M856.2 839.3H854.6V842.9H856.2M852.0 833.1H850.4V841.1H854.6M859.0 845.0H855.7V846.9H859.0M859.0 848.3H855.6V849.7H859.0M855.7 845.9H854.1V849.0H855.6M859.0 852.7H855.1V854.2H859.0M859.0 851.2H853.5V853.5H855.1M854.1 847.5H850.6V852.3H853.5M850.4 837.1H847.0V849.9H850.6M859.0 857.3H857.6V858.9H859.0M859.0 855.7H856.1V858.1H857.6M856.1 856.9H853.8V860.7H859.0M859.0 862.6H856.6V863.8H859.0M859.0 865.2H858.0V866.6H859.0M858.0 865.9H856.6V868.0H859.0M856.6 863.2H855.1V866.9H856.6M853.8 858.8H850.8V865.1H855.1M859.0 869.4H857.3V870.9H859.0M859.0 872.7H857.5V874.5H859.0M857.3 870.1H855.8V873.6H857.5M859.0 876.5H856.0V878.2H859.0M855.8 871.9H854.3V877.3H856.0M859.0 879.3H857.9V880.8H859.0M859.0 884.5H858.0V885.8H859.0M859.0 882.7H857.9V885.1H858.0M857.9 880.1H856.4V883.9H857.9M859.0 887.5H856.9V889.3H859.0M856.4 882.0H854.4V888.4H856.9M854.3 874.6H852.4V885.2H854.4M850.8 861.9H846.0V879.9H852.4M847.0 843.5H841.0V870.9H846.0M859.0 890.5H858.0V891.8H859.0M858.0 891.2H857.5V893.5H859.0M859.0 894.8H857.3V896.0H859.0M857.5 892.4H855.8V895.4H857.3M859.0 899.1H858.0V900.5H859.0M859.0 897.6H858.0V899.8H858.0M859.0 901.8H858.0V903.0H859.0M858.0 898.7H857.2V902.4H858.0M859.0 904.2H858.0V905.5H859.0M858.0 904.8H857.6V907.1H859.0M859.0 908.5H857.7V909.8H859.0M857.6 906.0H856.1V909.2H857.7M857.2 900.6H854.6V907.6H856.1M855.8 893.9H850.0V904.1H854.6M859.0 913.9H857.0V915.5H859.0M859.0 911.9H855.5V914.7H857.0M859.0 917.2H855.0V919.1H859.0M855.5 913.3H851.9V918.2H855.0M850.0 899.0H845.0V915.7H851.9M859.0 921.0H856.7V923.0H859.0M859.0 925.1H856.0V926.5H859.0M856.7 922.0H854.1V925.8H856.0M859.0 928.1H857.7V930.3H859.0M859.0 932.0H857.7V933.4H859.0M857.7 929.2H856.2V932.7H857.7M859.0 935.1H858.0V936.3H859.0M858.0 935.7H857.7V937.5H859.0M859.0 939.2H857.7V940.4H859.0M857.7 936.6H856.2V939.8H857.7M856.2 931.0H854.7V938.2H856.2M854.1 923.9H851.9V934.6H854.7M859.0 943.8H858.0V945.3H859.0M859.0 942.0H857.7V944.6H858.0M859.0 946.9H857.7V948.3H859.0M857.7 943.3H856.2V947.6H857.7M859.0 950.9H857.8V952.6H859.0M859.0 949.6H856.3V951.7H857.8M856.2 945.4H854.0V950.6H856.3M851.9 929.2H850.2V948.0H854.0M859.0 956.5H858.0V958.1H859.0M859.0 954.6H856.7V957.3H858.0M859.0 959.7H855.7V961.3H859.0M856.7 956.0H854.2V960.5H855.7M859.0 965.5H855.6V967.8H859.0M859.0 963.1H852.5V966.6H855.6M859.0 970.0H856.2V972.1H859.0M859.0 973.9H856.2V975.3H859.0M856.2 971.0H854.7V974.6H856.2M852.5 964.9H850.7V972.8H854.7M854.2 958.2H849.0V968.8H850.7M850.2 938.6H844.0V963.5H849.0M845.0 907.4H838.0V951.1H844.0M841.0 857.2H831.6V929.2H838.0M832.6 808.1H824.2V893.2H831.6M837.9 789.0H813.7V850.7H824.2M821.3 696.0H799.4V819.8H813.7M859.0 976.8H849.1V978.1H859.0M859.0 979.2H844.0V980.9H859.0M849.1 977.4H840.0V980.1H844.0M859.0 982.9H855.4V984.6H859.0M859.0 988.2H856.1V990.2H859.0M859.0 986.4H854.6V989.2H856.1M855.4 983.7H852.6V987.8H854.6M859.0 991.6H856.8V992.9H859.0M859.0 994.5H856.8V995.9H859.0M856.8 992.3H855.3V995.2H856.8M859.0 997.7H855.0V999.4H859.0M855.3 993.7H853.4V998.5H855.0M852.6 985.8H848.8V996.1H853.4M859.0 1003.1H858.0V1004.4H859.0M859.0 1001.1H856.6V1003.8H858.0M859.0 1007.9H857.4V1009.3H859.0M859.0 1006.0H855.8V1008.6H857.4M856.6 1002.4H853.5V1007.3H855.8M848.8 990.9H847.0V1004.9H853.5M859.0 1010.7H858.0V1012.4H859.0M859.0 1013.7H858.0V1014.9H859.0M858.0 1011.6H857.8V1014.3H858.0M859.0 1016.4H858.0V1018.0H859.0M859.0 1019.7H858.0V1021.3H859.0M859.0 1022.9H858.0V1024.4H859.0M858.0 1020.5H858.0V1023.7H858.0M858.0 1017.2H857.7V1022.1H858.0M857.8 1012.9H856.2V1019.7H857.7M859.0 1026.2H857.8V1028.0H859.0M859.0 1029.6H858.0V1030.8H859.0M858.0 1030.2H858.0V1032.0H859.0M858.0 1031.1H857.8V1033.7H859.0M857.8 1027.1H856.3V1032.4H857.8M856.2 1016.3H852.6V1029.8H856.3M859.0 1035.5H855.8V1037.2H859.0M859.0 1038.8H857.4V1040.3H859.0M857.4 1039.6H855.8V1042.1H859.0M855.8 1036.3H854.3V1040.8H855.8M859.0 1045.3H856.7V1046.5H859.0M859.0 1043.7H854.0V1045.9H856.7M854.3 1038.6H850.8V1044.8H854.0M852.6 1023.0H846.0V1041.7H850.8M847.0 997.9H840.4V1032.4H846.0M840.0 978.8H831.6V1015.1H840.4M859.0 1049.8H849.2V1051.4H859.0M859.0 1047.9H842.8V1050.6H849.2M859.0 1054.8H853.6V1056.0H859.0M853.6 1055.4H852.1V1057.4H859.0M859.0 1053.3H849.4V1056.4H852.1M842.8 1049.3H835.8V1054.8H849.4M859.0 1058.7H852.4V1060.4H859.0M859.0 1062.1H854.8V1063.9H859.0M852.4 1059.5H849.2V1063.0H854.8M859.0 1066.0H855.5V1067.8H859.0M859.0 1069.3H856.4V1071.0H859.0M855.5 1066.9H853.2V1070.1H856.4M849.2 1061.3H845.0V1068.5H853.2M859.0 1075.0H855.7V1076.8H859.0M859.0 1072.9H851.7V1075.9H855.7M851.7 1074.4H850.2V1078.5H859.0M859.0 1080.5H856.3V1082.3H859.0M859.0 1085.3H857.6V1086.6H859.0M859.0 1083.9H856.1V1086.0H857.6M856.3 1081.4H854.5V1084.9H856.1M859.0 1090.1H857.0V1091.3H859.0M859.0 1088.3H855.5V1090.7H857.0M854.5 1083.2H850.9V1089.5H855.5M850.2 1076.4H846.0V1086.3H850.9M845.0 1064.9H838.3V1081.4H846.0M835.8 1052.0H826.3V1073.1H838.3M859.0 1092.7H858.0V1094.0H859.0M858.0 1093.4H857.1V1095.2H859.0M859.0 1096.9H855.8V1098.7H859.0M857.1 1094.3H854.3V1097.8H855.8M859.0 1102.3H858.0V1103.7H859.0M859.0 1100.5H856.5V1103.0H858.0M856.5 1101.7H855.0V1105.2H859.0M859.0 1107.5H856.3V1109.2H859.0M856.3 1108.4H854.5V1110.9H859.0M855.0 1103.5H852.4V1109.6H854.5M854.3 1096.0H848.0V1106.6H852.4M859.0 1114.1H856.6V1115.5H859.0M859.0 1112.7H855.0V1114.8H856.6M859.0 1119.1H858.0V1120.5H859.0M859.0 1117.3H856.5V1119.8H858.0M855.0 1113.7H853.0V1118.5H856.5M859.0 1122.0H856.8V1124.0H859.0M856.8 1123.0H855.3V1126.0H859.0M853.0 1116.1H850.9V1124.5H855.3M859.0 1128.0H855.0V1130.1H859.0M859.0 1132.3H854.0V1134.2H859.0M855.0 1129.0H852.5V1133.2H854.0M850.9 1120.3H848.0V1131.1H852.5M848.0 1101.3H843.2V1125.7H848.0M859.0 1137.2H858.0V1138.5H859.0M859.0 1135.9H856.9V1137.8H858.0M859.0 1140.2H857.3V1142.0H859.0M856.9 1136.9H855.4V1141.1H857.3M859.0 1143.8H856.0V1145.5H859.0M855.4 1139.0H850.9V1144.6H856.0M859.0 1147.7H855.7V1149.2H859.0M855.7 1148.4H854.2V1150.3H859.0M859.0 1151.7H856.7V1152.9H859.0M856.7 1152.3H853.9V1154.2H859.0M854.2 1149.3H851.1V1153.3H853.9M850.9 1141.8H848.0V1151.3H851.1M859.0 1156.0H858.0V1158.0H859.0M859.0 1161.0H858.0V1162.4H859.0M859.0 1159.6H858.0V1161.7H858.0M858.0 1157.0H856.5V1160.7H858.0M859.0 1164.2H856.4V1166.2H859.0M856.5 1158.8H854.1V1165.2H856.4M859.0 1167.9H855.5V1169.6H859.0M859.0 1170.8H857.5V1172.1H859.0M857.5 1171.5H856.0V1174.0H859.0M855.5 1168.8H853.4V1172.7H856.0M854.1 1162.0H848.0V1170.8H853.4M848.0 1146.6H842.0V1166.4H848.0M859.0 1176.0H855.8V1178.2H859.0M859.0 1179.9H858.0V1181.4H859.0M858.0 1180.6H857.4V1183.2H859.0M859.0 1184.6H857.0V1186.1H859.0M857.4 1181.9H855.5V1185.4H857.0M855.8 1177.1H854.0V1183.6H855.5M859.0 1187.6H858.0V1188.9H859.0M858.0 1188.3H857.6V1190.1H859.0M859.0 1191.4H857.8V1192.7H859.0M857.6 1189.2H856.1V1192.0H857.8M859.0 1196.6H857.9V1198.5H859.0M859.0 1194.4H856.4V1197.5H857.9M856.1 1190.6H854.6V1196.0H856.4M859.0 1200.0H857.4V1201.4H859.0M859.0 1202.8H857.4V1204.3H859.0M857.4 1200.7H855.9V1203.6H857.4M854.6 1193.3H850.9V1202.1H855.9M854.0 1180.4H846.0V1197.7H850.9M859.0 1207.6H856.8V1209.0H859.0M859.0 1205.9H854.4V1208.3H856.8M854.4 1207.1H852.9V1210.4H859.0M859.0 1212.2H856.0V1213.9H859.0M859.0 1215.6H855.5V1217.0H859.0M856.0 1213.0H853.6V1216.3H855.5M852.9 1208.8H851.4V1214.6H853.6M859.0 1218.7H856.7V1220.2H859.0M859.0 1221.1H857.4V1222.8H859.0M857.4 1222.0H855.4V1224.7H859.0M856.7 1219.4H853.9V1223.3H855.4M859.0 1226.1H857.0V1227.6H859.0M859.0 1229.2H857.0V1230.9H859.0M857.0 1226.8H855.5V1230.0H857.0M853.9 1221.4H851.9V1228.4H855.5M851.4 1211.7H848.0V1224.9H851.9M859.0 1232.9H854.7V1235.0H859.0M859.0 1236.9H855.2V1238.8H859.0M854.7 1234.0H852.5V1237.9H855.2M859.0 1241.0H857.1V1242.6H859.0M859.0 1244.1H857.2V1246.0H859.0M859.0 1247.9H857.4V1249.1H859.0M857.2 1245.1H855.6V1248.5H857.4M857.1 1241.8H854.1V1246.8H855.6M859.0 1250.4H857.2V1252.2H859.0M859.0 1254.0H857.2V1255.4H859.0M857.2 1251.3H855.7V1254.7H857.2M854.1 1244.3H852.6V1253.0H855.7M852.5 1235.9H848.0V1248.6H852.6M848.0 1218.3H843.0V1242.3H848.0M846.0 1189.0H839.4V1230.3H843.0M842.0 1156.5H831.2V1209.7H839.4M843.2 1113.5H822.5V1183.1H831.2M826.3 1062.6H812.0V1148.3H822.5M831.6 996.9H799.6V1105.4H812.0M799.4 757.9H797.5V1051.2H799.6" fill="none" stroke="#000" stroke-width="0.9"/>
<rect x="858.3" y="675" width="3.8" height="581.4" fill="#000"/>
<path d="M1415.2 675.1H1411.1V676.3H1415.2M1411.1 675.7H1406.5V677.5H1415.2M1406.5 676.6H1405.0V679.1H1415.2M1415.2 680.6H1413.6V681.9H1415.2M1415.2 683.1H1413.8V684.5H1415.2M1413.6 681.3H1411.8V683.8H1413.8M1415.2 685.9H1413.3V687.3H1415.2M1413.3 686.6H1411.8V689.2H1415.2M1415.2 690.9H1412.5V692.4H1415.2M1415.2 693.6H1412.5V694.8H1415.2M1412.5 691.7H1411.0V694.2H1412.5M1411.8 687.9H1409.4V692.9H1411.0M1411.8 682.5H1407.3V690.4H1409.4M1415.2 697.8H1413.6V699.3H1415.2M1415.2 696.2H1412.1V698.6H1413.6M1415.2 700.7H1411.7V702.4H1415.2M1412.1 697.4H1409.5V701.6H1411.7M1415.2 704.1H1412.5V705.9H1415.2M1415.2 711.0H1414.2V712.3H1415.2M1415.2 709.9H1412.9V711.6H1414.2M1415.2 708.1H1410.3V710.8H1412.9M1412.5 705.0H1408.8V709.4H1410.3M1409.5 699.5H1405.8V707.2H1408.8M1407.3 686.5H1402.0V703.4H1405.8M1405.0 677.8H1395.8V694.9H1402.0M1415.2 715.6H1408.0V717.0H1415.2M1415.2 714.0H1402.5V716.3H1408.0M1415.2 718.3H1409.4V719.6H1415.2M1409.4 718.9H1406.4V721.2H1415.2M1402.5 715.2H1398.0V720.1H1406.4M1415.2 724.7H1412.4V726.1H1415.2M1415.2 722.9H1410.9V725.4H1412.4M1415.2 727.7H1411.7V729.4H1415.2M1410.9 724.2H1409.4V728.5H1411.7M1415.2 730.9H1414.2V732.4H1415.2M1414.2 731.7H1414.2V733.8H1415.2M1415.2 735.3H1414.2V736.6H1415.2M1414.2 736.0H1414.2V738.0H1415.2M1414.2 737.0H1414.2V739.4H1415.2M1414.2 732.8H1413.0V738.2H1414.2M1415.2 742.9H1413.7V744.1H1415.2M1415.2 741.4H1412.0V743.5H1413.7M1413.0 735.5H1410.5V742.4H1412.0M1409.4 726.4H1406.0V739.0H1410.5M1415.2 745.7H1413.9V747.2H1415.2M1415.2 749.1H1413.6V751.4H1415.2M1413.9 746.5H1411.9V750.3H1413.6M1415.2 753.3H1412.2V755.1H1415.2M1411.9 748.4H1410.4V754.2H1412.2M1415.2 757.3H1413.0V759.0H1415.2M1415.2 760.3H1414.2V761.6H1415.2M1414.2 761.0H1413.0V763.1H1415.2M1413.0 758.1H1411.5V762.0H1413.0M1415.2 765.1H1411.4V767.1H1415.2M1411.5 760.1H1409.4V766.1H1411.4M1410.4 751.3H1405.0V763.1H1409.4M1406.0 732.7H1401.7V757.2H1405.0M1398.0 717.6H1389.9V744.9H1401.7M1395.8 686.4H1384.8V731.3H1389.9M1415.2 771.2H1406.9V773.0H1415.2M1415.2 769.2H1400.0V772.1H1406.9M1415.2 775.8H1409.3V777.1H1415.2M1415.2 774.7H1406.9V776.5H1409.3M1415.2 778.9H1408.3V780.7H1415.2M1406.9 775.6H1403.9V779.8H1408.3M1415.2 782.1H1411.5V783.7H1415.2M1411.5 782.9H1407.3V785.3H1415.2M1403.9 777.7H1398.0V784.1H1407.3M1415.2 786.9H1410.7V788.8H1415.2M1415.2 791.6H1412.1V792.8H1415.2M1415.2 790.3H1410.1V792.2H1412.1M1410.7 787.9H1407.7V791.2H1410.1M1415.2 793.8H1413.5V795.1H1415.2M1413.5 794.5H1411.7V796.7H1415.2M1411.7 795.6H1408.4V798.8H1415.2M1407.7 789.5H1400.0V797.2H1408.4M1398.0 780.9H1390.0V793.4H1400.0M1400.0 770.7H1385.3V787.1H1390.0M1415.2 800.5H1414.2V801.7H1415.2M1414.2 801.1H1413.3V803.6H1415.2M1415.2 805.3H1413.3V807.0H1415.2M1413.3 802.4H1411.8V806.1H1413.3M1415.2 809.3H1412.8V811.2H1415.2M1412.8 810.3H1411.3V813.0H1415.2M1411.8 804.2H1409.6V811.7H1411.3M1415.2 814.8H1412.8V816.7H1415.2M1415.2 820.6H1413.5V822.0H1415.2M1415.2 818.8H1412.0V821.3H1413.5M1412.8 815.8H1410.5V820.1H1412.0M1415.2 823.4H1411.3V825.2H1415.2M1415.2 828.0H1413.5V829.3H1415.2M1415.2 826.9H1412.0V828.7H1413.5M1411.3 824.3H1408.9V827.8H1412.0M1410.5 817.9H1406.2V826.1H1408.9M1409.6 807.9H1402.0V822.0H1406.2M1415.2 832.0H1412.9V833.3H1415.2M1415.2 830.7H1411.4V832.6H1412.9M1415.2 834.6H1411.2V836.1H1415.2M1415.2 837.8H1413.4V839.1H1415.2M1413.4 838.4H1411.0V840.5H1415.2M1411.2 835.3H1409.5V839.5H1411.0M1411.4 831.7H1408.0V837.4H1409.5M1415.2 842.4H1412.9V843.9H1415.2M1415.2 845.5H1412.9V847.3H1415.2M1412.9 843.2H1410.1V846.4H1412.9M1408.0 834.5H1404.0V844.8H1410.1M1415.2 850.9H1414.2V852.6H1415.2M1415.2 848.9H1413.2V851.7H1414.2M1415.2 853.5H1413.8V854.8H1415.2M1413.2 850.3H1411.7V854.1H1413.8M1415.2 856.6H1411.6V858.5H1415.2M1415.2 860.6H1412.4V862.4H1415.2M1415.2 864.0H1412.5V865.6H1415.2M1412.4 861.5H1410.9V864.8H1412.5M1411.6 857.5H1409.4V863.1H1410.9M1411.7 852.2H1406.6V860.3H1409.4M1415.2 869.4H1414.2V870.7H1415.2M1415.2 867.5H1413.9V870.0H1414.2M1415.2 872.1H1413.9V873.5H1415.2M1413.9 868.8H1412.4V872.8H1413.9M1415.2 874.8H1413.9V876.6H1415.2M1415.2 878.6H1413.9V879.8H1415.2M1413.9 875.7H1412.4V879.2H1413.9M1415.2 881.1H1413.8V882.4H1415.2M1415.2 885.6H1414.2V887.3H1415.2M1415.2 883.8H1413.8V886.4H1414.2M1413.8 881.7H1412.3V885.1H1413.8M1412.4 877.5H1410.8V883.4H1412.3M1412.4 870.8H1408.1V880.4H1410.8M1406.6 856.3H1402.0V875.6H1408.1M1404.0 839.7H1398.3V865.9H1402.0M1402.0 815.0H1393.0V852.8H1398.3M1415.2 888.4H1411.1V889.8H1415.2M1415.2 891.8H1410.8V894.1H1415.2M1411.1 889.1H1407.3V892.9H1410.8M1415.2 895.7H1410.5V897.0H1415.2M1410.5 896.4H1407.0V898.9H1415.2M1407.3 891.0H1403.0V897.6H1407.0M1415.2 901.0H1411.9V902.5H1415.2M1415.2 904.2H1410.7V905.9H1415.2M1411.9 901.7H1408.1V905.0H1410.7M1415.2 907.3H1412.5V908.6H1415.2M1412.5 907.9H1411.0V910.0H1415.2M1415.2 912.0H1410.6V914.0H1415.2M1411.0 909.0H1408.1V913.0H1410.6M1408.1 903.4H1404.0V911.0H1408.1M1403.0 894.3H1396.8V907.2H1404.0M1415.2 916.8H1413.5V918.0H1415.2M1415.2 915.6H1411.4V917.4H1413.5M1415.2 919.5H1411.1V920.8H1415.2M1411.1 920.1H1409.5V922.2H1415.2M1411.4 916.5H1408.0V921.2H1409.5M1415.2 926.2H1413.1V928.3H1415.2M1415.2 924.1H1411.6V927.2H1413.1M1415.2 930.2H1413.6V932.1H1415.2M1415.2 934.1H1414.2V936.0H1415.2M1415.2 937.8H1414.2V939.3H1415.2M1414.2 935.1H1413.2V938.5H1414.2M1413.6 931.2H1411.1V936.8H1413.2M1411.6 925.7H1409.0V934.0H1411.1M1408.0 918.8H1404.0V929.8H1409.0M1415.2 940.8H1413.1V942.5H1415.2M1415.2 944.4H1413.9V946.0H1415.2M1413.9 945.2H1412.4V947.4H1415.2M1413.1 941.7H1410.8V946.3H1412.4M1415.2 949.0H1414.2V950.3H1415.2M1414.2 949.7H1414.2V951.7H1415.2M1414.2 950.7H1414.2V953.8H1415.2M1415.2 955.4H1414.2V956.7H1415.2M1414.2 956.0H1414.2V958.3H1415.2M1414.2 952.2H1412.7V957.2H1414.2M1410.8 944.0H1409.3V954.7H1412.7M1415.2 959.6H1414.2V960.9H1415.2M1414.2 960.2H1413.4V962.1H1415.2M1413.4 961.2H1411.9V963.8H1415.2M1415.2 965.6H1413.3V967.4H1415.2M1415.2 969.3H1413.3V970.8H1415.2M1413.3 966.5H1411.8V970.0H1413.3M1415.2 972.0H1414.2V973.8H1415.2M1414.2 972.9H1413.2V975.9H1415.2M1411.8 968.3H1410.3V974.4H1413.2M1411.9 962.5H1406.4V971.4H1410.3M1409.3 949.3H1403.0V966.9H1406.4M1404.0 924.3H1397.9V958.1H1403.0M1396.8 900.8H1394.0V941.2H1397.9M1393.0 833.9H1377.9V921.0H1394.0M1385.3 778.9H1369.5V877.4H1377.9M1384.8 708.8H1356.4V828.2H1369.5M1415.2 980.8H1404.1V982.1H1415.2M1415.2 979.7H1402.2V981.4H1404.1M1415.2 978.0H1397.3V980.6H1402.2M1415.2 986.2H1413.8V988.3H1415.2M1415.2 984.2H1412.3V987.3H1413.8M1415.2 990.5H1412.7V992.5H1415.2M1412.3 985.7H1410.8V991.5H1412.7M1415.2 995.8H1413.1V997.3H1415.2M1415.2 994.3H1411.6V996.6H1413.1M1415.2 998.9H1413.5V1000.5H1415.2M1413.5 999.7H1411.8V1002.0H1415.2M1411.6 995.4H1410.1V1000.9H1411.8M1410.8 988.6H1408.3V998.1H1410.1M1415.2 1004.1H1412.7V1006.3H1415.2M1415.2 1008.3H1412.6V1010.4H1415.2M1415.2 1012.4H1412.2V1014.1H1415.2M1412.6 1009.4H1410.7V1013.3H1412.2M1412.7 1005.2H1409.2V1011.3H1410.7M1408.3 993.4H1406.0V1008.3H1409.2M1415.2 1016.0H1414.2V1017.4H1415.2M1414.2 1016.7H1414.0V1018.9H1415.2M1415.2 1020.9H1414.0V1023.0H1415.2M1414.0 1017.8H1412.5V1022.0H1414.0M1415.2 1027.1H1414.2V1028.7H1415.2M1415.2 1025.0H1412.7V1027.9H1414.2M1412.5 1019.9H1410.2V1026.5H1412.7M1415.2 1034.2H1414.2V1035.5H1415.2M1415.2 1032.6H1413.0V1034.8H1414.2M1415.2 1030.4H1411.2V1033.7H1413.0M1410.2 1023.2H1408.7V1032.0H1411.2M1415.2 1037.2H1414.2V1038.9H1415.2M1415.2 1040.5H1414.2V1042.6H1415.2M1415.2 1044.4H1414.2V1045.9H1415.2M1414.2 1041.5H1414.2V1045.2H1414.2M1414.2 1038.1H1412.9V1043.3H1414.2M1415.2 1047.1H1414.0V1048.6H1415.2M1415.2 1050.2H1414.2V1051.8H1415.2M1415.2 1053.5H1414.2V1055.1H1415.2M1414.2 1051.0H1414.0V1054.3H1414.2M1414.0 1047.8H1412.5V1052.6H1414.0M1412.9 1040.7H1410.5V1050.2H1412.5M1408.7 1027.6H1405.0V1045.5H1410.5M1406.0 1000.8H1401.0V1036.5H1405.0M1397.3 979.3H1383.8V1018.7H1401.0M1415.2 1057.0H1402.0V1059.0H1415.2M1415.2 1061.0H1410.0V1062.8H1415.2M1415.2 1064.4H1411.1V1065.7H1415.2M1410.0 1061.9H1406.1V1065.0H1411.1M1415.2 1068.2H1406.3V1069.5H1415.2M1415.2 1066.8H1404.4V1068.8H1406.3M1406.1 1063.5H1400.0V1067.8H1404.4M1402.0 1058.0H1392.0V1065.6H1400.0M1415.2 1070.9H1414.2V1072.1H1415.2M1414.2 1071.5H1413.0V1073.2H1415.2M1415.2 1074.4H1413.6V1076.0H1415.2M1413.0 1072.3H1411.5V1075.2H1413.6M1415.2 1078.0H1412.3V1080.4H1415.2M1411.5 1073.8H1410.0V1079.2H1412.3M1415.2 1082.1H1411.2V1083.4H1415.2M1411.2 1082.8H1409.7V1085.2H1415.2M1415.2 1087.2H1409.7V1089.1H1415.2M1409.7 1084.0H1406.9V1088.2H1409.7M1410.0 1076.5H1404.0V1086.1H1406.9M1415.2 1090.7H1413.3V1092.2H1415.2M1415.2 1095.5H1413.7V1097.3H1415.2M1415.2 1093.9H1412.2V1096.4H1413.7M1413.3 1091.4H1409.9V1095.2H1412.2M1415.2 1100.1H1413.6V1101.3H1415.2M1415.2 1099.0H1412.1V1100.7H1413.6M1412.1 1099.8H1409.5V1103.2H1415.2M1415.2 1105.1H1409.4V1107.0H1415.2M1409.5 1101.5H1407.2V1106.1H1409.4M1409.9 1093.3H1405.0V1103.8H1407.2M1404.0 1081.3H1398.5V1098.5H1405.0M1415.2 1108.8H1414.2V1110.2H1415.2M1414.2 1109.5H1412.7V1111.4H1415.2M1415.2 1113.1H1412.0V1114.6H1415.2M1412.7 1110.4H1410.5V1113.9H1412.0M1415.2 1115.9H1414.2V1117.1H1415.2M1414.2 1116.5H1414.1V1118.8H1415.2M1415.2 1120.7H1414.2V1122.4H1415.2M1414.1 1117.6H1412.6V1121.5H1414.2M1415.2 1123.9H1414.2V1125.6H1415.2M1414.2 1124.7H1413.2V1127.9H1415.2M1412.6 1119.6H1411.1V1126.3H1413.2M1410.5 1112.2H1407.0V1122.9H1411.1M1415.2 1129.4H1413.6V1130.6H1415.2M1413.6 1130.0H1412.1V1132.1H1415.2M1415.2 1133.7H1412.6V1135.3H1415.2M1415.2 1136.7H1414.1V1137.9H1415.2M1414.1 1137.3H1412.6V1139.2H1415.2M1412.6 1134.5H1410.8V1138.2H1412.6M1412.1 1131.0H1409.2V1136.4H1410.8M1407.0 1117.5H1400.0V1133.7H1409.2M1398.5 1089.9H1390.5V1125.6H1400.0M1415.2 1140.9H1408.6V1142.7H1415.2M1415.2 1144.4H1407.2V1145.6H1415.2M1408.6 1141.8H1403.0V1145.0H1407.2M1415.2 1146.7H1407.6V1148.0H1415.2M1407.6 1147.3H1405.5V1149.3H1415.2M1403.0 1143.4H1400.0V1148.3H1405.5M1415.2 1151.0H1412.8V1152.9H1415.2M1412.8 1152.0H1411.3V1155.0H1415.2M1415.2 1158.4H1414.2V1159.6H1415.2M1415.2 1156.8H1413.9V1159.0H1414.2M1413.9 1157.9H1412.4V1161.2H1415.2M1411.3 1153.5H1409.5V1159.5H1412.4M1415.2 1163.1H1409.6V1164.8H1415.2M1415.2 1166.6H1411.9V1168.6H1415.2M1415.2 1170.2H1412.6V1171.4H1415.2M1411.9 1167.6H1409.1V1170.8H1412.6M1409.6 1164.0H1407.2V1169.2H1409.1M1409.5 1156.5H1402.0V1166.6H1407.2M1400.0 1145.8H1392.0V1161.6H1402.0M1415.2 1172.9H1412.1V1174.7H1415.2M1415.2 1176.8H1413.6V1178.5H1415.2M1415.2 1179.5H1414.2V1180.8H1415.2M1414.2 1180.2H1413.7V1182.2H1415.2M1413.6 1177.7H1412.1V1181.2H1413.7M1412.1 1173.8H1408.1V1179.4H1412.1M1415.2 1185.2H1413.6V1186.9H1415.2M1415.2 1183.7H1412.1V1186.1H1413.6M1415.2 1192.5H1413.1V1194.0H1415.2M1415.2 1191.1H1411.6V1193.2H1413.1M1415.2 1189.1H1409.9V1192.2H1411.6M1412.1 1184.9H1408.4V1190.6H1409.9M1408.1 1176.6H1405.0V1187.8H1408.4M1415.2 1195.8H1411.6V1197.7H1415.2M1415.2 1199.7H1414.2V1201.2H1415.2M1414.2 1200.4H1413.0V1202.6H1415.2M1415.2 1205.0H1414.2V1206.3H1415.2M1415.2 1204.0H1413.1V1205.7H1414.2M1413.0 1201.5H1410.3V1204.8H1413.1M1411.6 1196.7H1407.7V1203.2H1410.3M1415.2 1208.0H1414.2V1209.7H1415.2M1414.2 1208.8H1413.0V1211.5H1415.2M1415.2 1216.3H1414.2V1217.8H1415.2M1415.2 1214.9H1414.2V1217.0H1414.2M1415.2 1213.4H1413.5V1216.0H1414.2M1415.2 1220.0H1414.2V1221.3H1415.2M1415.2 1218.9H1413.0V1220.6H1414.2M1413.5 1214.7H1411.5V1219.8H1413.0M1413.0 1210.1H1409.5V1217.2H1411.5M1407.7 1200.0H1404.0V1213.7H1409.5M1405.0 1182.2H1399.4V1206.8H1404.0M1415.2 1223.1H1414.2V1224.8H1415.2M1414.2 1224.0H1412.7V1226.5H1415.2M1415.2 1230.3H1414.2V1232.0H1415.2M1415.2 1228.3H1412.8V1231.1H1414.2M1412.7 1225.2H1411.2V1229.7H1412.8M1415.2 1233.4H1413.2V1234.9H1415.2M1415.2 1236.0H1414.2V1237.3H1415.2M1414.2 1236.6H1413.3V1238.8H1415.2M1413.2 1234.1H1411.7V1237.7H1413.3M1411.2 1227.5H1409.7V1235.9H1411.7M1415.2 1242.6H1411.1V1244.0H1415.2M1415.2 1240.7H1408.8V1243.3H1411.1M1415.2 1245.6H1411.9V1247.6H1415.2M1415.2 1249.1H1413.4V1250.6H1415.2M1415.2 1252.1H1412.5V1253.8H1415.2M1413.4 1249.9H1411.0V1253.0H1412.5M1411.9 1246.6H1407.0V1251.4H1411.0M1408.8 1242.0H1405.4V1249.0H1407.0M1409.7 1231.7H1402.0V1245.5H1405.4M1399.4 1194.5H1392.6V1238.6H1402.0M1392.0 1153.7H1384.2V1216.5H1392.6M1390.5 1107.8H1379.0V1185.1H1384.2M1392.0 1061.8H1367.4V1146.4H1379.0M1383.8 999.0H1356.8V1104.1H1367.4M1356.4 768.5H1352.6V1051.5H1356.8" fill="none" stroke="#000" stroke-width="0.9"/>
<rect x="1414.6" y="674.4" width="3.8" height="581.4" fill="#000"/>
<rect x="1255.9" y="674.3" width="3.9" height="295.2" fill="#000"/>
<rect x="1255.9" y="983.4" width="3.9" height="274" fill="#000"/>
<rect x="1822.6" y="674.3" width="4.1" height="294.7" fill="#000"/>
<rect x="1822.6" y="983.1" width="4.1" height="273.4" fill="#000"/>
<defs><linearGradient id="cb" x1="0" y1="0" x2="0" y2="1"><stop offset="0" stop-color="#ff2014"/><stop offset="0.17" stop-color="#ff2014"/><stop offset="0.27" stop-color="#f45050"/><stop offset="0.40" stop-color="#f0a5a8"/><stop offset="0.50" stop-color="#ffffff"/><stop offset="0.62" stop-color="#a8a8ff"/><stop offset="0.73" stop-color="#4a40ff"/><stop offset="0.79" stop-color="#1800ff"/><stop offset="1" stop-color="#1800ff"/></linearGradient></defs>
<rect x="1887" y="682.5" width="38" height="108.5" fill="url(#cb)"/>
<path d="M1887 686.7h8M1917 686.7h8M1887 711.5h8M1917 711.5h8M1887 736.8h8M1917 736.8h8M1887 761.6h8M1917 761.6h8M1887 786.8h8M1917 786.8h8" fill="none" stroke="#fff" stroke-opacity="0.7" stroke-width="1.3"/>
<g transform="translate(76.72 71.80)"><text id="t0" transform="translate(-0.30 0) scale(0.7108 1)" font-size="42">a</text><use href="#t0" x="0.60"/></g>
<g transform="translate(785.99 72.20)"><text id="t1" transform="translate(-0.30 0) scale(0.7895 1)" font-size="42">b</text><use href="#t1" x="0.60"/></g>
<g transform="translate(1310.77 72.80)"><text id="t2" transform="translate(-0.30 0) scale(0.7964 1)" font-size="42">c</text><use href="#t2" x="0.60"/></g>
<g transform="translate(67.04 778.60)"><text id="t3" transform="translate(-0.30 0) scale(0.7579 1)" font-size="42">d</text><use href="#t3" x="0.60"/></g>
<g transform="translate(786.98 658.40)"><text id="t4" transform="translate(-0.30 0) scale(0.7900 1)" font-size="42">e</text><use href="#t4" x="0.60"/></g>
<g transform="translate(1311.44 659.40)"><text id="t5" transform="translate(-0.30 0) scale(0.8364 1)" font-size="42">f</text><use href="#t5" x="0.60"/></g>
<g transform="translate(111.86 101.10)"><text id="t6" transform="translate(-0.30 0) scale(0.7465 1)" font-size="33.2">6000</text><use href="#t6" x="0.60"/></g>
<g transform="translate(112.61 197.20)"><text id="t7" transform="translate(-0.30 0) scale(0.7361 1)" font-size="33.2">4000</text><use href="#t7" x="0.60"/></g>
<g transform="translate(111.86 294.10)"><text id="t8" transform="translate(-0.30 0) scale(0.7465 1)" font-size="33.2">2000</text><use href="#t8" x="0.60"/></g>
<g transform="translate(154.42 387.80)"><text id="t9" transform="translate(-0.30 0) scale(0.6625 1)" font-size="33.2">0</text><use href="#t9" x="0.60"/></g>
<g transform="translate(111.86 488.60)"><text id="t10" transform="translate(-0.30 0) scale(0.7465 1)" font-size="33.2">2000</text><use href="#t10" x="0.60"/></g>
<g transform="translate(112.61 586.60)"><text id="t11" transform="translate(-0.30 0) scale(0.7361 1)" font-size="33.2">4000</text><use href="#t11" x="0.60"/></g>
<g transform="translate(111.86 680.00)"><text id="t12" transform="translate(-0.30 0) scale(0.7465 1)" font-size="33.2">6000</text><use href="#t12" x="0.60"/></g>
<g transform="translate(277.80 131.00)"><text id="t13" transform="translate(-0.30 0) scale(0.7507 1)" font-size="33.2">4963</text><use href="#t13" x="0.60"/></g>
<g transform="translate(384.80 161.00)"><text id="t14" transform="translate(-0.30 0) scale(0.7507 1)" font-size="33.2">4426</text><use href="#t14" x="0.60"/></g>
<g transform="translate(278.11 583.60)"><text id="t15" transform="translate(-0.30 0) scale(0.7437 1)" font-size="33.2">3518</text><use href="#t15" x="0.60"/></g>
<g transform="translate(384.04 554.00)"><text id="t16" transform="translate(-0.30 0) scale(0.7577 1)" font-size="33.2">2915</text><use href="#t16" x="0.60"/></g>
<g transform="translate(525.30 126.00)"><text id="t17" transform="translate(-0.30 0) scale(0.8413 1)" font-size="23.6">AmV-m vs AcV-m</text><use href="#t17" x="0.60"/></g>
<g transform="translate(525.30 155.00)"><text id="t18" transform="translate(-0.30 0) scale(0.8449 1)" font-size="23.6">AmQ-m vs AcQ-m</text><use href="#t18" x="0.60"/></g>
<g transform="translate(453.27 251.00)" fill="#ff1a14"><text id="t19" transform="translate(-0.30 0) scale(0.7880 1)" font-size="41.5">Up-regulated</text><use href="#t19" x="0.60"/></g>
<g transform="translate(453.27 489.60)" fill="#ff1a14"><text id="t20" transform="translate(-0.30 0) scale(0.7902 1)" font-size="41.5">Down-regulated</text><use href="#t20" x="0.60"/></g>
<g transform="translate(97.60 509.48) rotate(-90)"><text id="t21" transform="translate(-0.30 0) scale(0.7733 1)" font-size="42">Number of DEGs</text><use href="#t21" x="0.60"/></g>
<g transform="translate(32.80 584.57) rotate(-90)"><text id="t22" transform="translate(-0.30 0) scale(0.7663 1)" font-size="41.5" font-style="italic">A. mellifera</text><use href="#t22" x="0.60"/></g>
<g transform="translate(32.80 412.98) rotate(-90)"><text id="t23" transform="translate(-0.30 0) scale(0.7814 1)" font-size="41.5">reference genome</text><use href="#t23" x="0.60"/></g>
<g transform="translate(113.08 818.40)"><text id="t24" transform="translate(-0.30 0) scale(0.7324 1)" font-size="33.2">7000</text><use href="#t24" x="0.60"/></g>
<g transform="translate(112.51 900.70)"><text id="t25" transform="translate(-0.30 0) scale(0.7402 1)" font-size="33.2">5000</text><use href="#t25" x="0.60"/></g>
<g transform="translate(112.51 984.10)"><text id="t26" transform="translate(-0.30 0) scale(0.7402 1)" font-size="33.2">3000</text><use href="#t26" x="0.60"/></g>
<g transform="translate(113.61 1063.70)"><text id="t27" transform="translate(-0.30 0) scale(0.7251 1)" font-size="33.2">1000</text><use href="#t27" x="0.60"/></g>
<g transform="translate(154.62 1104.10)"><text id="t28" transform="translate(-0.30 0) scale(0.6625 1)" font-size="33.2">0</text><use href="#t28" x="0.60"/></g>
<g transform="translate(113.61 1145.10)"><text id="t29" transform="translate(-0.30 0) scale(0.7251 1)" font-size="33.2">1000</text><use href="#t29" x="0.60"/></g>
<g transform="translate(112.51 1226.70)"><text id="t30" transform="translate(-0.30 0) scale(0.7402 1)" font-size="33.2">3000</text><use href="#t30" x="0.60"/></g>
<g transform="translate(112.51 1308.70)"><text id="t31" transform="translate(-0.30 0) scale(0.7402 1)" font-size="33.2">5000</text><use href="#t31" x="0.60"/></g>
<g transform="translate(113.08 1391.10)"><text id="t32" transform="translate(-0.30 0) scale(0.7324 1)" font-size="33.2">7000</text><use href="#t32" x="0.60"/></g>
<g transform="translate(279.33 925.00)"><text id="t33" transform="translate(-0.30 0) scale(0.7239 1)" font-size="33.2">3951</text><use href="#t33" x="0.60"/></g>
<g transform="translate(384.30 944.40)"><text id="t34" transform="translate(-0.30 0) scale(0.7486 1)" font-size="33.2">3490</text><use href="#t34" x="0.60"/></g>
<g transform="translate(277.67 1385.40)"><text id="t35" transform="translate(-0.30 0) scale(0.7402 1)" font-size="33.2">6364</text><use href="#t35" x="0.60"/></g>
<g transform="translate(384.30 1374.60)"><text id="t36" transform="translate(-0.30 0) scale(0.7521 1)" font-size="33.2">5978</text><use href="#t36" x="0.60"/></g>
<g transform="translate(525.30 838.00)"><text id="t37" transform="translate(-0.30 0) scale(0.8373 1)" font-size="23.6">AmV-c vs AcV-c</text><use href="#t37" x="0.60"/></g>
<g transform="translate(525.30 868.00)"><text id="t38" transform="translate(-0.30 0) scale(0.8453 1)" font-size="23.6">AmQ-c vs AcQ-c</text><use href="#t38" x="0.60"/></g>
<g transform="translate(453.27 997.00)" fill="#ff1a14"><text id="t39" transform="translate(-0.30 0) scale(0.7880 1)" font-size="41.5">Up-regulated</text><use href="#t39" x="0.60"/></g>
<g transform="translate(453.27 1217.00)" fill="#ff1a14"><text id="t40" transform="translate(-0.30 0) scale(0.7902 1)" font-size="41.5">Down-regulated</text><use href="#t40" x="0.60"/></g>
<g transform="translate(95.30 1234.78) rotate(-90)"><text id="t41" transform="translate(-0.30 0) scale(0.7733 1)" font-size="42">Number of DEGs</text><use href="#t41" x="0.60"/></g>
<g transform="translate(32.80 1276.18) rotate(-90)"><text id="t42" transform="translate(-0.30 0) scale(0.7621 1)" font-size="41.5" font-style="italic">A. cerana</text><use href="#t42" x="0.60"/></g>
<g transform="translate(32.80 1111.31) rotate(-90)"><text id="t43" transform="translate(-0.30 0) scale(0.7535 1)" font-size="41.5">reference genome</text><use href="#t43" x="0.60"/></g>
<g transform="translate(851.91 305.50)"><text id="t44" transform="translate(-0.30 0) scale(0.8366 1)" font-size="33.2">2505</text><use href="#t44" x="0.60"/></g>
<g transform="translate(1031.20 305.50)"><text id="t45" transform="translate(-0.30 0) scale(0.8254 1)" font-size="33.2">5976</text><use href="#t45" x="0.60"/></g>
<g transform="translate(1199.25 305.50)"><text id="t46" transform="translate(-0.30 0) scale(0.7914 1)" font-size="33.2">1699</text><use href="#t46" x="0.60"/></g>
<g transform="translate(1370.92 308.00)"><text id="t47" transform="translate(-0.30 0) scale(0.8254 1)" font-size="33.2">2520</text><use href="#t47" x="0.60"/></g>
<g transform="translate(1548.57 308.00)"><text id="t48" transform="translate(-0.30 0) scale(0.7926 1)" font-size="33.2">4821</text><use href="#t48" x="0.60"/></g>
<g transform="translate(1721.44 308.00)"><text id="t49" transform="translate(-0.30 0) scale(0.8145 1)" font-size="33.2">2264</text><use href="#t49" x="0.60"/></g>
<g transform="translate(968.30 529.60)"><text id="t50" transform="translate(-0.30 0) scale(0.7782 1)" font-size="34.5">AmV vs AcV</text><use href="#t50" x="0.60"/></g>
<g transform="translate(1497.80 528.60)"><text id="t51" transform="translate(-0.30 0) scale(0.7891 1)" font-size="34.5">AmQ vs AcQ</text><use href="#t51" x="0.60"/></g>
<g transform="translate(1563.08 37.80)"><text id="t52" transform="translate(-0.30 0) scale(0.7887 1)" font-size="41" font-style="italic">A. mellifera</text><use href="#t52" x="0.60"/></g>
<g transform="translate(1733.18 37.80)"><text id="t53" transform="translate(-0.30 0) scale(0.7961 1)" font-size="41">reference genome</text><use href="#t53" x="0.60"/></g>
<g transform="translate(1563.06 104.00)"><text id="t54" transform="translate(-0.30 0) scale(0.7818 1)" font-size="41" font-style="italic">A. cerana</text><use href="#t54" x="0.60"/></g>
<g transform="translate(1709.17 104.00)"><text id="t55" transform="translate(-0.30 0) scale(0.7980 1)" font-size="41">reference genome</text><use href="#t55" x="0.60"/></g>
<g transform="translate(923.40 1366.90) rotate(-90)"><text id="t56" transform="translate(-0.30 0) scale(0.7901 1)" font-size="36.5">AmV–m</text><use href="#t56" x="0.60"/></g>
<g transform="translate(1024.40 1349.00) rotate(-90)"><text id="t57" transform="translate(-0.30 0) scale(0.7740 1)" font-size="36.5">AmV-c</text><use href="#t57" x="0.60"/></g>
<g transform="translate(1125.10 1349.70) rotate(-90)"><text id="t58" transform="translate(-0.30 0) scale(0.7943 1)" font-size="36.5">AcV-m</text><use href="#t58" x="0.60"/></g>
<g transform="translate(1225.70 1342.40) rotate(-90)"><text id="t59" transform="translate(-0.30 0) scale(0.8025 1)" font-size="36.5">AcV-c</text><use href="#t59" x="0.60"/></g>
<g transform="translate(1021.94 1416.00)"><text id="t60" transform="translate(-0.30 0) scale(0.8279 1)" font-size="35">(1154)</text><use href="#t60" x="0.60"/></g>
<g transform="translate(1478.10 1362.90) rotate(-90)"><text id="t61" transform="translate(-0.30 0) scale(0.7832 1)" font-size="36.5">AmQ-m</text><use href="#t61" x="0.60"/></g>
<g transform="translate(1581.50 1354.60) rotate(-90)"><text id="t62" transform="translate(-0.30 0) scale(0.7802 1)" font-size="36.5">AmQ-c</text><use href="#t62" x="0.60"/></g>
<g transform="translate(1685.00 1353.00) rotate(-90)"><text id="t63" transform="translate(-0.30 0) scale(0.7787 1)" font-size="36.5">AcQ-m</text><use href="#t63" x="0.60"/></g>
<g transform="translate(1788.00 1345.30) rotate(-90)"><text id="t64" transform="translate(-0.30 0) scale(0.7834 1)" font-size="36.5">AcQ-c</text><use href="#t64" x="0.60"/></g>
<g transform="translate(1576.42 1416.00)"><text id="t65" transform="translate(-0.30 0) scale(0.8412 1)" font-size="35">(1543)</text><use href="#t65" x="0.60"/></g>
<g transform="translate(1299.00 852.64) rotate(-90)"><text id="t66" transform="translate(-0.30 0) scale(0.8012 1)" font-size="36.5">598</text><use href="#t66" x="0.60"/></g>
<g transform="translate(1299.00 1124.22) rotate(-90)"><text id="t67" transform="translate(-0.30 0) scale(0.7942 1)" font-size="36.5">556</text><use href="#t67" x="0.60"/></g>
<g transform="translate(1866.70 852.02) rotate(-90)"><text id="t68" transform="translate(-0.30 0) scale(0.7925 1)" font-size="36.5">805</text><use href="#t68" x="0.60"/></g>
<g transform="translate(1870.50 1124.29) rotate(-90)"><text id="t69" transform="translate(-0.30 0) scale(0.7971 1)" font-size="36.5">738</text><use href="#t69" x="0.60"/></g>
<g transform="translate(1950.73 692.80)"><text id="t70" transform="translate(-0.30 0) scale(0.8000 1)" font-size="24.4">2</text><use href="#t70" x="0.60"/></g>
<g transform="translate(1950.73 717.80)"><text id="t71" transform="translate(-0.30 0) scale(0.8000 1)" font-size="24.4">1</text><use href="#t71" x="0.60"/></g>
<g transform="translate(1950.47 742.60)"><text id="t72" transform="translate(-0.30 0) scale(0.8000 1)" font-size="24.4">0</text><use href="#t72" x="0.60"/></g>
<g transform="translate(1939.27 768.00)"><text id="t73" transform="translate(-0.30 0) scale(0.8000 1)" font-size="24.4">−1</text><use href="#t73" x="0.60"/></g>
<g transform="translate(1939.27 792.70)"><text id="t74" transform="translate(-0.30 0) scale(0.8000 1)" font-size="24.4">−2</text><use href="#t74" x="0.60"/></g>
</svg>
</body></html>
